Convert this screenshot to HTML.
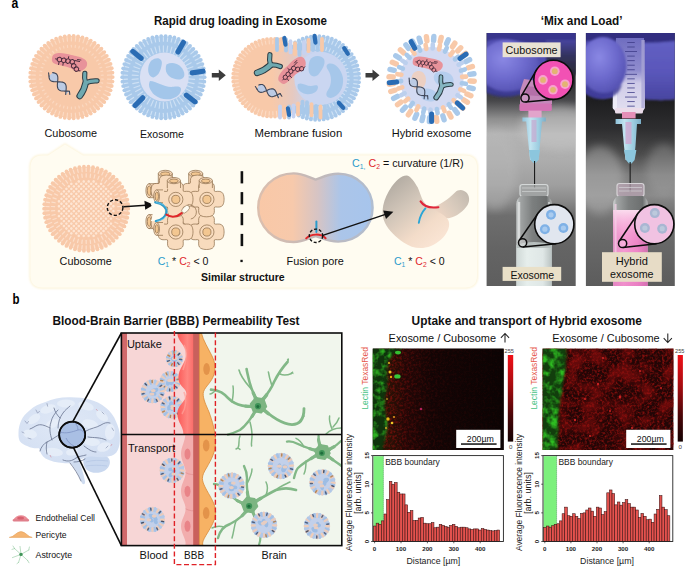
<!DOCTYPE html>
<html><head><meta charset="utf-8"><title>figure</title>
<style>
html,body{margin:0;padding:0;background:#fff;}
body{width:685px;height:566px;overflow:hidden;font-family:"Liberation Sans",sans-serif;}
svg{display:block;font-family:"Liberation Sans",sans-serif;}
</style></head><body>
<svg width="685" height="566" viewBox="0 0 685 566">
<defs><linearGradient id="gFus" gradientUnits="userSpaceOnUse" x1="272" y1="0" x2="318" y2="0">
<stop offset="0" stop-color="#f8c9a9"/><stop offset="0.45" stop-color="#e6c9c0"/><stop offset="0.8" stop-color="#c9d3ee"/><stop offset="1" stop-color="#c9d5f0"/></linearGradient>
<clipPath id="cFusL"><rect x="225" y="30" width="64" height="96"/></clipPath>
<clipPath id="cFusR"><rect x="300" y="30" width="64" height="96"/></clipPath>
<filter id="fBlur1" x="-5%" y="-5%" width="110%" height="110%"><feGaussianBlur stdDeviation="0.8"/></filter>
<linearGradient id="gPore" gradientUnits="userSpaceOnUse" x1="258" y1="0" x2="373" y2="0">
<stop offset="0" stop-color="#f9c8a7"/><stop offset="0.3" stop-color="#f7c9ab"/><stop offset="0.52" stop-color="#d6c4c4"/><stop offset="0.72" stop-color="#abc5e9"/><stop offset="1" stop-color="#a7c5ec"/></linearGradient>
<linearGradient id="gPoreS" gradientUnits="userSpaceOnUse" x1="258" y1="0" x2="373" y2="0">
<stop offset="0" stop-color="#dcbfae"/><stop offset="0.5" stop-color="#c2b8b8"/><stop offset="1" stop-color="#b0bdd0"/></linearGradient>
<linearGradient id="gSad" gradientUnits="userSpaceOnUse" x1="392" y1="182" x2="442" y2="244">
<stop offset="0" stop-color="#b3aca3"/><stop offset="0.35" stop-color="#d2c6b9"/><stop offset="0.7" stop-color="#f3dcc9"/><stop offset="1" stop-color="#fbe6d6"/></linearGradient>
<linearGradient id="gSad2" gradientUnits="userSpaceOnUse" x1="436" y1="214" x2="466" y2="192">
<stop offset="0" stop-color="#efd6c4"/><stop offset="0.5" stop-color="#d9cbbd"/><stop offset="1" stop-color="#c4bbb0"/></linearGradient>

<filter id="b2" x="-20%" y="-20%" width="140%" height="140%"><feGaussianBlur stdDeviation="2"/></filter>
<filter id="b1" x="-20%" y="-20%" width="140%" height="140%"><feGaussianBlur stdDeviation="1"/></filter>
<filter id="b05" x="-20%" y="-20%" width="140%" height="140%"><feGaussianBlur stdDeviation="0.5"/></filter>
<filter id="b4" x="-30%" y="-30%" width="160%" height="160%"><feGaussianBlur stdDeviation="4"/></filter>
<clipPath id="cpL"><rect x="486.6" y="33" width="89.1" height="253"/></clipPath>
<clipPath id="cpR"><rect x="585.9" y="33" width="88.9" height="253"/></clipPath>
<linearGradient id="bgL" x1="0" y1="0" x2="0" y2="1">
 <stop offset="0" stop-color="#26262c"/><stop offset="0.2" stop-color="#2e2e32"/><stop offset="0.27" stop-color="#47474a"/>
 <stop offset="0.34" stop-color="#8e8e8e"/><stop offset="0.4" stop-color="#b4b4b4"/><stop offset="0.5" stop-color="#adadad"/><stop offset="0.6" stop-color="#9f9f9f"/><stop offset="0.66" stop-color="#8a8a8a"/>
 <stop offset="0.72" stop-color="#6e6e6e"/><stop offset="0.85" stop-color="#646464"/><stop offset="1" stop-color="#5e5e5e"/></linearGradient>
<linearGradient id="bgR" x1="0" y1="0" x2="0" y2="1">
 <stop offset="0" stop-color="#232328"/><stop offset="0.27" stop-color="#1e1e20"/><stop offset="0.38" stop-color="#2e2e30"/>
 <stop offset="0.48" stop-color="#4c4c4c"/><stop offset="0.56" stop-color="#7c7c7c"/><stop offset="0.64" stop-color="#8a8a8a"/><stop offset="0.7" stop-color="#767676"/>
 <stop offset="0.82" stop-color="#686868"/><stop offset="1" stop-color="#5c5c5c"/></linearGradient>
<radialGradient id="glove" cx="0.42" cy="0.35" r="0.75"><stop offset="0" stop-color="#8a88e4"/><stop offset="0.5" stop-color="#6c69cc"/><stop offset="1" stop-color="#4c49a8"/></radialGradient>
<linearGradient id="gloveR" x1="0" y1="0" x2="0" y2="1"><stop offset="0" stop-color="#6462c6"/><stop offset="0.6" stop-color="#5a57ba"/><stop offset="1" stop-color="#4845a0"/></linearGradient>
<linearGradient id="barrel" x1="0" y1="0" x2="0" y2="1"><stop offset="0" stop-color="#6f6dc0"/><stop offset="0.45" stop-color="#908dce"/><stop offset="0.62" stop-color="#cfcbe8"/><stop offset="1" stop-color="#e2dff0"/></linearGradient>
<linearGradient id="gDarkR" x1="0" y1="0" x2="0" y2="1"><stop offset="0" stop-color="#4846a0"/><stop offset="0.45" stop-color="#33325e"/><stop offset="1" stop-color="#2a2a34"/></linearGradient>
<linearGradient id="vialL" x1="0" y1="0" x2="1" y2="0"><stop offset="0" stop-color="#d4d8d8"/><stop offset="0.1" stop-color="#a2a5a5"/><stop offset="0.45" stop-color="#7c7f7f"/><stop offset="0.85" stop-color="#6c6f6f"/><stop offset="1" stop-color="#b4b7b7"/></linearGradient>
<linearGradient id="liqL" x1="0" y1="0" x2="1" y2="0"><stop offset="0" stop-color="#cfd8d6"/><stop offset="0.3" stop-color="#e6eeec"/><stop offset="0.75" stop-color="#dfe7e6"/><stop offset="1" stop-color="#b9c2c1"/></linearGradient>
<linearGradient id="liqR" x1="0" y1="0" x2="1" y2="0"><stop offset="0" stop-color="#e48cc4"/><stop offset="0.3" stop-color="#f59ad2"/><stop offset="0.7" stop-color="#ee84c6"/><stop offset="1" stop-color="#cf6fae"/></linearGradient>
<linearGradient id="liqRv" x1="0" y1="0" x2="0" y2="1"><stop offset="0" stop-color="#fbe0f0" stop-opacity="0.95"/><stop offset="0.18" stop-color="#f8c0e2" stop-opacity="0.6"/><stop offset="0.45" stop-color="#f59ad2" stop-opacity="0"/><stop offset="1" stop-color="#e070ba" stop-opacity="0.35"/></linearGradient>
<linearGradient id="hub" x1="0" y1="0" x2="1" y2="0"><stop offset="0" stop-color="#8fc2da"/><stop offset="0.35" stop-color="#c2e4f0"/><stop offset="0.7" stop-color="#9ccce0"/><stop offset="1" stop-color="#7aaec8"/></linearGradient>

<radialGradient id="gBrain" cx="0.45" cy="0.4" r="0.7"><stop offset="0" stop-color="#dfe8f6"/><stop offset="1" stop-color="#d2def2"/></radialGradient>
<clipPath id="cTop"><rect x="121.4" y="333" width="220.4" height="101.60000000000002"/></clipPath>
<clipPath id="cBot"><rect x="121.4" y="434.6" width="220.4" height="111.0"/></clipPath>
<clipPath id="cAll"><rect x="121.4" y="333" width="220.4" height="212.60000000000002"/></clipPath>
<linearGradient id="gEndo" x1="0" y1="0" x2="1" y2="0"><stop offset="0" stop-color="#fb5a58"/><stop offset="0.45" stop-color="#ff8680"/><stop offset="1" stop-color="#f65452"/></linearGradient>

<linearGradient id="gCbar" x1="0" y1="0" x2="0" y2="1"><stop offset="0" stop-color="#f01018"/><stop offset="0.35" stop-color="#a80c10"/><stop offset="0.7" stop-color="#4a0608"/><stop offset="1" stop-color="#140202"/></linearGradient>
<filter id="fSp" x="0" y="0" width="100%" height="100%"><feGaussianBlur stdDeviation="0.45"/></filter>
<filter id="fG" x="-10%" y="-5%" width="120%" height="110%"><feGaussianBlur stdDeviation="1.1"/></filter>
<linearGradient id="gM1" x1="0" y1="0" x2="1" y2="0"><stop offset="0" stop-color="#142206"/><stop offset="0.11" stop-color="#2a1205"/><stop offset="0.25" stop-color="#220706"/><stop offset="0.45" stop-color="#130505"/><stop offset="1" stop-color="#0b0404"/></linearGradient>
<linearGradient id="gM2" x1="0" y1="0" x2="1" y2="0"><stop offset="0" stop-color="#1c2a08"/><stop offset="0.14" stop-color="#3a0c08"/><stop offset="0.5" stop-color="#3a0909"/><stop offset="1" stop-color="#2c0707"/></linearGradient>


<filter id="nR1" x="0" y="0" width="100%" height="100%" color-interpolation-filters="sRGB">
  <feTurbulence type="fractalNoise" baseFrequency="0.42" numOctaves="3" seed="4"/>
  <feColorMatrix type="matrix" values="0 0 0 0 0.55  0 0 0 0 0.06  0 0 0 0 0.05  2.8 0 0 0 -1.15"/>
</filter>
<filter id="nR2" x="0" y="0" width="100%" height="100%" color-interpolation-filters="sRGB">
  <feTurbulence type="fractalNoise" baseFrequency="0.4" numOctaves="3" seed="9"/>
  <feColorMatrix type="matrix" values="0 0 0 0 0.60  0 0 0 0 0.07  0 0 0 0 0.06  2.6 0 0 0 -1.1"/>
</filter>
<filter id="nRc" x="0" y="0" width="100%" height="100%" color-interpolation-filters="sRGB">
  <feTurbulence type="fractalNoise" baseFrequency="0.06" numOctaves="2" seed="2"/>
  <feColorMatrix type="matrix" values="0 0 0 0 0.50  0 0 0 0 0.05  0 0 0 0 0.05  3.0 0 0 0 -1.2"/>
</filter>
<filter id="nG" x="0" y="0" width="100%" height="100%" color-interpolation-filters="sRGB">
  <feTurbulence type="fractalNoise" baseFrequency="0.13" numOctaves="3" seed="6"/>
  <feColorMatrix type="matrix" values="0 0 0 0 0.18  0 0 0 0 0.70  0 0 0 0 0.13  0 3.0 0 0 -1.3"/>
</filter>
<filter id="nG2" x="0" y="0" width="100%" height="100%" color-interpolation-filters="sRGB">
  <feTurbulence type="fractalNoise" baseFrequency="0.12" numOctaves="3" seed="12"/>
  <feColorMatrix type="matrix" values="0 0 0 0 0.18  0 0 0 0 0.74  0 0 0 0 0.13  0 3.0 0 0 -1.25"/>
</filter>
<linearGradient id="mk1" gradientUnits="userSpaceOnUse" x1="372.6" y1="0" x2="503.8" y2="0">
  <stop offset="0" stop-color="#fff" stop-opacity="0.2"/><stop offset="0.1" stop-color="#fff" stop-opacity="0.75"/><stop offset="0.22" stop-color="#fff" stop-opacity="0.5"/>
  <stop offset="0.38" stop-color="#fff" stop-opacity="0.22"/><stop offset="0.6" stop-color="#fff" stop-opacity="0.1"/><stop offset="1" stop-color="#fff" stop-opacity="0.06"/></linearGradient>
<mask id="mM1"><rect x="372" y="348" width="133" height="103" fill="url(#mk1)"/></mask>
<filter id="fGb" x="-20%" y="-5%" width="140%" height="110%"><feGaussianBlur stdDeviation="1.3"/></filter>
<clipPath id="cM1"><rect x="372.6" y="348.4" width="131.2" height="101.6"/></clipPath>
<clipPath id="cM2"><rect x="542.4" y="348.4" width="131.2" height="101.6"/></clipPath>
<mask id="mG1"><path d="M372,348 H403 C395,352 389,357 387.5,365 C386.5,373 388,379 387,387 C386,395 384,401 385,409 C386,417 388.5,423 386.5,431 C384.5,439 383,445 382.6,451 H372Z" fill="#fff" filter="url(#fGb)"/></mask>
<mask id="mG2"><path d="M542,348 H566.5 C567,360 565,370 563.6,380 C562.4,390 560.4,398 559.4,408 C558.6,418 559,428 558,438 C557.6,444 557.2,448 557,451 H542Z" fill="#fff" filter="url(#fGb)"/></mask>
</defs>
<text x="11.4" y="7.8" font-size="15" fill="#000" font-weight="bold" textLength="6.8" lengthAdjust="spacingAndGlyphs" >a</text>
<text x="154" y="25.4" font-size="12.4" fill="#111" font-weight="bold" textLength="173" lengthAdjust="spacingAndGlyphs" >Rapid drug loading in Exosome</text>
<text x="540.7" y="24.8" font-size="12.4" fill="#111" font-weight="bold" textLength="81.8" lengthAdjust="spacingAndGlyphs" >‘Mix and Load’</text>
<circle cx="71.4" cy="77.1" r="41.0" fill="#f8c9a9"/>
<circle cx="112.7" cy="77.1" r="1.9" fill="#f8c9a9"/><circle cx="112.46" cy="81.57" r="1.9" fill="#f8c9a9"/><circle cx="111.73" cy="85.98" r="1.9" fill="#f8c9a9"/><circle cx="110.54" cy="90.29" r="1.9" fill="#f8c9a9"/><circle cx="108.88" cy="94.44" r="1.9" fill="#f8c9a9"/><circle cx="106.79" cy="98.39" r="1.9" fill="#f8c9a9"/><circle cx="104.28" cy="102.09" r="1.9" fill="#f8c9a9"/><circle cx="101.38" cy="105.5" r="1.9" fill="#f8c9a9"/><circle cx="98.14" cy="108.58" r="1.9" fill="#f8c9a9"/><circle cx="94.58" cy="111.28" r="1.9" fill="#f8c9a9"/><circle cx="90.75" cy="113.59" r="1.9" fill="#f8c9a9"/><circle cx="86.69" cy="115.47" r="1.9" fill="#f8c9a9"/><circle cx="82.45" cy="116.89" r="1.9" fill="#f8c9a9"/><circle cx="78.08" cy="117.86" r="1.9" fill="#f8c9a9"/><circle cx="73.64" cy="118.34" r="1.9" fill="#f8c9a9"/><circle cx="69.16" cy="118.34" r="1.9" fill="#f8c9a9"/><circle cx="64.72" cy="117.86" r="1.9" fill="#f8c9a9"/><circle cx="60.35" cy="116.89" r="1.9" fill="#f8c9a9"/><circle cx="56.11" cy="115.47" r="1.9" fill="#f8c9a9"/><circle cx="52.05" cy="113.59" r="1.9" fill="#f8c9a9"/><circle cx="48.22" cy="111.28" r="1.9" fill="#f8c9a9"/><circle cx="44.66" cy="108.58" r="1.9" fill="#f8c9a9"/><circle cx="41.42" cy="105.5" r="1.9" fill="#f8c9a9"/><circle cx="38.52" cy="102.09" r="1.9" fill="#f8c9a9"/><circle cx="36.01" cy="98.39" r="1.9" fill="#f8c9a9"/><circle cx="33.92" cy="94.44" r="1.9" fill="#f8c9a9"/><circle cx="32.26" cy="90.29" r="1.9" fill="#f8c9a9"/><circle cx="31.07" cy="85.98" r="1.9" fill="#f8c9a9"/><circle cx="30.34" cy="81.57" r="1.9" fill="#f8c9a9"/><circle cx="30.1" cy="77.1" r="1.9" fill="#f8c9a9"/><circle cx="30.34" cy="72.63" r="1.9" fill="#f8c9a9"/><circle cx="31.07" cy="68.22" r="1.9" fill="#f8c9a9"/><circle cx="32.26" cy="63.91" r="1.9" fill="#f8c9a9"/><circle cx="33.92" cy="59.76" r="1.9" fill="#f8c9a9"/><circle cx="36.01" cy="55.81" r="1.9" fill="#f8c9a9"/><circle cx="38.52" cy="52.11" r="1.9" fill="#f8c9a9"/><circle cx="41.42" cy="48.7" r="1.9" fill="#f8c9a9"/><circle cx="44.66" cy="45.62" r="1.9" fill="#f8c9a9"/><circle cx="48.22" cy="42.92" r="1.9" fill="#f8c9a9"/><circle cx="52.05" cy="40.61" r="1.9" fill="#f8c9a9"/><circle cx="56.11" cy="38.73" r="1.9" fill="#f8c9a9"/><circle cx="60.35" cy="37.31" r="1.9" fill="#f8c9a9"/><circle cx="64.72" cy="36.34" r="1.9" fill="#f8c9a9"/><circle cx="69.16" cy="35.86" r="1.9" fill="#f8c9a9"/><circle cx="73.64" cy="35.86" r="1.9" fill="#f8c9a9"/><circle cx="78.08" cy="36.34" r="1.9" fill="#f8c9a9"/><circle cx="82.45" cy="37.31" r="1.9" fill="#f8c9a9"/><circle cx="86.69" cy="38.73" r="1.9" fill="#f8c9a9"/><circle cx="90.75" cy="40.61" r="1.9" fill="#f8c9a9"/><circle cx="94.58" cy="42.92" r="1.9" fill="#f8c9a9"/><circle cx="98.14" cy="45.62" r="1.9" fill="#f8c9a9"/><circle cx="101.38" cy="48.7" r="1.9" fill="#f8c9a9"/><circle cx="104.28" cy="52.11" r="1.9" fill="#f8c9a9"/><circle cx="106.79" cy="55.81" r="1.9" fill="#f8c9a9"/><circle cx="108.88" cy="59.76" r="1.9" fill="#f8c9a9"/><circle cx="110.54" cy="63.91" r="1.9" fill="#f8c9a9"/><circle cx="111.73" cy="68.22" r="1.9" fill="#f8c9a9"/><circle cx="112.46" cy="72.63" r="1.9" fill="#f8c9a9"/>
<g stroke="#fbdac3" stroke-width="1.15" stroke-linecap="round"><line x1="107.55" y1="79.06" x2="111.04" y2="79.25"/><line x1="107.12" y1="82.96" x2="110.58" y2="83.52"/><line x1="106.28" y1="86.78" x2="109.65" y2="87.72"/><line x1="105.03" y1="90.5" x2="108.28" y2="91.79"/><line x1="103.38" y1="94.06" x2="106.48" y2="95.7"/><line x1="101.36" y1="97.41" x2="104.26" y2="99.38"/><line x1="98.99" y1="100.54" x2="101.66" y2="102.8"/><line x1="96.29" y1="103.38" x2="98.7" y2="105.92"/><line x1="93.31" y1="105.92" x2="95.43" y2="108.7"/><line x1="90.06" y1="108.12" x2="91.87" y2="111.12"/><line x1="86.6" y1="109.95" x2="88.07" y2="113.13"/><line x1="82.96" y1="111.41" x2="84.08" y2="114.72"/><line x1="79.18" y1="112.45" x2="79.93" y2="115.87"/><line x1="75.31" y1="113.09" x2="75.69" y2="116.57"/><line x1="71.4" y1="113.3" x2="71.4" y2="116.8"/><line x1="67.49" y1="113.09" x2="67.11" y2="116.57"/><line x1="63.62" y1="112.45" x2="62.87" y2="115.87"/><line x1="59.84" y1="111.41" x2="58.72" y2="114.72"/><line x1="56.2" y1="109.95" x2="54.73" y2="113.13"/><line x1="52.74" y1="108.12" x2="50.93" y2="111.12"/><line x1="49.49" y1="105.92" x2="47.37" y2="108.7"/><line x1="46.51" y1="103.38" x2="44.1" y2="105.92"/><line x1="43.81" y1="100.54" x2="41.14" y2="102.8"/><line x1="41.44" y1="97.41" x2="38.54" y2="99.38"/><line x1="39.42" y1="94.06" x2="36.32" y2="95.7"/><line x1="37.77" y1="90.5" x2="34.52" y2="91.79"/><line x1="36.52" y1="86.78" x2="33.15" y2="87.72"/><line x1="35.68" y1="82.96" x2="32.22" y2="83.52"/><line x1="35.25" y1="79.06" x2="31.76" y2="79.25"/><line x1="35.25" y1="75.14" x2="31.76" y2="74.95"/><line x1="35.68" y1="71.24" x2="32.22" y2="70.68"/><line x1="36.52" y1="67.42" x2="33.15" y2="66.48"/><line x1="37.77" y1="63.7" x2="34.52" y2="62.41"/><line x1="39.42" y1="60.14" x2="36.32" y2="58.5"/><line x1="41.44" y1="56.79" x2="38.54" y2="54.82"/><line x1="43.81" y1="53.66" x2="41.14" y2="51.4"/><line x1="46.51" y1="50.82" x2="44.1" y2="48.28"/><line x1="49.49" y1="48.28" x2="47.37" y2="45.5"/><line x1="52.74" y1="46.08" x2="50.93" y2="43.08"/><line x1="56.2" y1="44.25" x2="54.73" y2="41.07"/><line x1="59.84" y1="42.79" x2="58.72" y2="39.48"/><line x1="63.62" y1="41.75" x2="62.87" y2="38.33"/><line x1="67.49" y1="41.11" x2="67.11" y2="37.63"/><line x1="71.4" y1="40.9" x2="71.4" y2="37.4"/><line x1="75.31" y1="41.11" x2="75.69" y2="37.63"/><line x1="79.18" y1="41.75" x2="79.93" y2="38.33"/><line x1="82.96" y1="42.79" x2="84.08" y2="39.48"/><line x1="86.6" y1="44.25" x2="88.07" y2="41.07"/><line x1="90.06" y1="46.08" x2="91.87" y2="43.08"/><line x1="93.31" y1="48.28" x2="95.43" y2="45.5"/><line x1="96.29" y1="50.82" x2="98.7" y2="48.28"/><line x1="98.99" y1="53.66" x2="101.66" y2="51.4"/><line x1="101.36" y1="56.79" x2="104.26" y2="54.82"/><line x1="103.38" y1="60.14" x2="106.48" y2="58.5"/><line x1="105.03" y1="63.7" x2="108.28" y2="62.41"/><line x1="106.28" y1="67.42" x2="109.65" y2="66.48"/><line x1="107.12" y1="71.24" x2="110.58" y2="70.68"/><line x1="107.55" y1="75.14" x2="111.04" y2="74.95"/></g>
<g stroke="#fbd8c0" stroke-width="1.15" stroke-linecap="round"><line x1="101.34" y1="78.98" x2="103.24" y2="79.1"/><line x1="100.87" y1="82.72" x2="102.73" y2="83.08"/><line x1="99.93" y1="86.37" x2="101.74" y2="86.96"/><line x1="98.54" y1="89.87" x2="100.26" y2="90.68"/><line x1="96.73" y1="93.17" x2="98.33" y2="94.19"/><line x1="94.52" y1="96.22" x2="95.98" y2="97.43"/><line x1="91.94" y1="98.97" x2="93.24" y2="100.35"/><line x1="89.03" y1="101.37" x2="90.15" y2="102.91"/><line x1="85.85" y1="103.39" x2="86.77" y2="105.05"/><line x1="82.44" y1="104.99" x2="83.14" y2="106.76"/><line x1="78.86" y1="106.16" x2="79.33" y2="108"/><line x1="75.16" y1="106.86" x2="75.4" y2="108.75"/><line x1="71.4" y1="107.1" x2="71.4" y2="109"/><line x1="67.64" y1="106.86" x2="67.4" y2="108.75"/><line x1="63.94" y1="106.16" x2="63.47" y2="108"/><line x1="60.36" y1="104.99" x2="59.66" y2="106.76"/><line x1="56.95" y1="103.39" x2="56.03" y2="105.05"/><line x1="53.77" y1="101.37" x2="52.65" y2="102.91"/><line x1="50.86" y1="98.97" x2="49.56" y2="100.35"/><line x1="48.28" y1="96.22" x2="46.82" y2="97.43"/><line x1="46.07" y1="93.17" x2="44.47" y2="94.19"/><line x1="44.26" y1="89.87" x2="42.54" y2="90.68"/><line x1="42.87" y1="86.37" x2="41.06" y2="86.96"/><line x1="41.93" y1="82.72" x2="40.07" y2="83.08"/><line x1="41.46" y1="78.98" x2="39.56" y2="79.1"/><line x1="41.46" y1="75.22" x2="39.56" y2="75.1"/><line x1="41.93" y1="71.48" x2="40.07" y2="71.12"/><line x1="42.87" y1="67.83" x2="41.06" y2="67.24"/><line x1="44.26" y1="64.33" x2="42.54" y2="63.52"/><line x1="46.07" y1="61.03" x2="44.47" y2="60.01"/><line x1="48.28" y1="57.98" x2="46.82" y2="56.77"/><line x1="50.86" y1="55.23" x2="49.56" y2="53.85"/><line x1="53.77" y1="52.83" x2="52.65" y2="51.29"/><line x1="56.95" y1="50.81" x2="56.03" y2="49.15"/><line x1="60.36" y1="49.21" x2="59.66" y2="47.44"/><line x1="63.94" y1="48.04" x2="63.47" y2="46.2"/><line x1="67.64" y1="47.34" x2="67.4" y2="45.45"/><line x1="71.4" y1="47.1" x2="71.4" y2="45.2"/><line x1="75.16" y1="47.34" x2="75.4" y2="45.45"/><line x1="78.86" y1="48.04" x2="79.33" y2="46.2"/><line x1="82.44" y1="49.21" x2="83.14" y2="47.44"/><line x1="85.85" y1="50.81" x2="86.77" y2="49.15"/><line x1="89.03" y1="52.83" x2="90.15" y2="51.29"/><line x1="91.94" y1="55.23" x2="93.24" y2="53.85"/><line x1="94.52" y1="57.98" x2="95.98" y2="56.77"/><line x1="96.73" y1="61.03" x2="98.33" y2="60.01"/><line x1="98.54" y1="64.33" x2="100.26" y2="63.52"/><line x1="99.93" y1="67.83" x2="101.74" y2="67.24"/><line x1="100.87" y1="71.48" x2="102.73" y2="71.12"/><line x1="101.34" y1="75.22" x2="103.24" y2="75.1"/></g>
<g transform="translate(69.9 62.5) rotate(10) scale(1.08)"><path d="M-17,-2 C-17,-8 -6,-8 0,-7 C8,-7 17,-6 16,0 C15,6 8,8 4,6 C-2,3 -10,5 -15,3 C-17,2 -17,0 -17,-2Z" fill="#e8929a"/><g fill="none" stroke="#4a2c3c" stroke-width="0.9" stroke-linejoin="round"><polygon points="-8.01,0.15 -10,1.3 -11.99,0.15 -11.99,-2.15 -10,-3.3 -8.01,-2.15"/><polygon points="-4.01,0.15 -6,1.3 -7.99,0.15 -7.99,-2.15 -6,-3.3 -4.01,-2.15"/><polygon points="-0.01,0.15 -2,1.3 -3.99,0.15 -3.99,-2.15 -2,-3.3 -0.01,-2.15"/><polygon points="3.99,0.15 2,1.3 0.01,0.15 0.01,-2.15 2,-3.3 3.99,-2.15"/><polygon points="5.99,3.65 4,4.8 2.01,3.65 2.01,1.35 4,0.2 5.99,1.35"/><polygon points="8.99,6.15 7,7.3 5.01,6.15 5.01,3.85 7,2.7 8.99,3.85"/><path d="M-12,-1 h-2 M-10,1.5 v2.5 M-6,1.5 v2.5 M-2,-3.5 v-2 M4,-2.5 h5 M6,-4 h4 M9,6 h2"/></g></g>
<path d="M48.99,75.97 L49.05,77.32 L49.28,78.51 L49.71,79.53 L50.36,80.34 L51.24,80.96 L52.32,81.39 L53.59,81.65 L55,81.78 L56.51,81.82 L58.06,81.83 L59.59,81.85 L61.05,81.94 L62.38,82.14 L63.54,82.49 L64.5,83.03 L65.25,83.76 L65.77,84.69 L66.08,85.81 L66.21,87.1 L66.19,88.52 L66.08,90.02 L65.92,91.57 L65.78,93.09 L65.72,94.55 L69.41,91.23 L67.95,91.14 L66.42,91.12 L64.87,91.11 L63.36,91.07 L61.95,90.94 L60.68,90.67 L59.6,90.25 L58.73,89.63 L58.08,88.82 L57.65,87.8 L57.42,86.61 L57.35,85.26 L57.42,83.8 L57.56,82.28 L57.71,80.73 L57.83,79.23 L57.84,77.81 L57.72,76.53 L57.41,75.4 L56.88,74.47 L56.14,73.74 L55.18,73.2 L54.01,72.85 L52.68,72.65Z" fill="#bccbe4" fill-rule="nonzero"/><path d="M48.99,75.97 L49.05,77.32 L49.28,78.51 L49.71,79.53 L50.36,80.34 L51.24,80.96 L52.32,81.39 L53.59,81.65 L55,81.78 L56.51,81.82 L58.06,81.83 L59.59,81.85 L61.05,81.94 L62.38,82.14 L63.54,82.49 L64.5,83.03 L65.25,83.76 L65.77,84.69 L66.08,85.81 L66.21,87.1 L66.19,88.52 L66.08,90.02 L65.92,91.57 L65.78,93.09 L65.72,94.55" fill="none" stroke="#3e4658" stroke-width="1.1" stroke-linecap="round" stroke-linejoin="round"/><path d="M52.68,72.65 L54.01,72.85 L55.18,73.2 L56.14,73.74 L56.88,74.47 L57.41,75.4 L57.72,76.53 L57.84,77.81 L57.83,79.23 L57.71,80.73 L57.56,82.28 L57.42,83.8 L57.35,85.26 L57.42,86.61 L57.65,87.8 L58.08,88.82 L58.73,89.63 L59.6,90.25 L60.68,90.67 L61.95,90.94 L63.36,91.07 L64.87,91.11 L66.42,91.12 L67.95,91.14 L69.41,91.23" fill="none" stroke="#3e4658" stroke-width="1.1" stroke-linecap="round" stroke-linejoin="round"/><path d="M48.99,75.97 l-0.4,-3.14" stroke="#3e4658" stroke-width="1.1" stroke-linecap="round" fill="none"/><path d="M69.41,91.23 l0.4,3.14" stroke="#3e4658" stroke-width="1.1" stroke-linecap="round" fill="none"/>
<path d="M85.6,82.8 Q84.23,90.11 79.7,96" stroke="#2c3c44" stroke-width="6.6" fill="none" stroke-linecap="round"/><path d="M85.6,82.8 Q84.07,78.2 84.8,73.4" stroke="#2c3c44" stroke-width="5.2" fill="none" stroke-linecap="round"/><path d="M85.6,82.8 Q91.12,80.47 97.1,80.9" stroke="#2c3c44" stroke-width="5.2" fill="none" stroke-linecap="round"/><path d="M85.6,82.8 Q84.23,90.11 79.7,96" stroke="#6fa9b0" stroke-width="4.6" fill="none" stroke-linecap="round"/><path d="M85.6,82.8 Q84.07,78.2 84.8,73.4" stroke="#6fa9b0" stroke-width="3.2" fill="none" stroke-linecap="round"/><path d="M85.6,82.8 Q91.12,80.47 97.1,80.9" stroke="#6fa9b0" stroke-width="3.2" fill="none" stroke-linecap="round"/>
<text x="44.5" y="137.2" font-size="11" fill="#111" textLength="52.6" lengthAdjust="spacingAndGlyphs" >Cubosome</text>
<circle cx="163.4" cy="77.2" r="40.9" fill="#a9c9ea"/>
<circle cx="204.6" cy="77.2" r="1.9" fill="#a9c9ea"/><circle cx="204.36" cy="81.65" r="1.9" fill="#a9c9ea"/><circle cx="203.64" cy="86.06" r="1.9" fill="#a9c9ea"/><circle cx="202.44" cy="90.36" r="1.9" fill="#a9c9ea"/><circle cx="200.79" cy="94.5" r="1.9" fill="#a9c9ea"/><circle cx="198.7" cy="98.44" r="1.9" fill="#a9c9ea"/><circle cx="196.2" cy="102.13" r="1.9" fill="#a9c9ea"/><circle cx="193.31" cy="105.53" r="1.9" fill="#a9c9ea"/><circle cx="190.07" cy="108.6" r="1.9" fill="#a9c9ea"/><circle cx="186.52" cy="111.3" r="1.9" fill="#a9c9ea"/><circle cx="182.7" cy="113.6" r="1.9" fill="#a9c9ea"/><circle cx="178.65" cy="115.47" r="1.9" fill="#a9c9ea"/><circle cx="174.42" cy="116.9" r="1.9" fill="#a9c9ea"/><circle cx="170.07" cy="117.86" r="1.9" fill="#a9c9ea"/><circle cx="165.63" cy="118.34" r="1.9" fill="#a9c9ea"/><circle cx="161.17" cy="118.34" r="1.9" fill="#a9c9ea"/><circle cx="156.73" cy="117.86" r="1.9" fill="#a9c9ea"/><circle cx="152.38" cy="116.9" r="1.9" fill="#a9c9ea"/><circle cx="148.15" cy="115.47" r="1.9" fill="#a9c9ea"/><circle cx="144.1" cy="113.6" r="1.9" fill="#a9c9ea"/><circle cx="140.28" cy="111.3" r="1.9" fill="#a9c9ea"/><circle cx="136.73" cy="108.6" r="1.9" fill="#a9c9ea"/><circle cx="133.49" cy="105.53" r="1.9" fill="#a9c9ea"/><circle cx="130.6" cy="102.13" r="1.9" fill="#a9c9ea"/><circle cx="128.1" cy="98.44" r="1.9" fill="#a9c9ea"/><circle cx="126.01" cy="94.5" r="1.9" fill="#a9c9ea"/><circle cx="124.36" cy="90.36" r="1.9" fill="#a9c9ea"/><circle cx="123.16" cy="86.06" r="1.9" fill="#a9c9ea"/><circle cx="122.44" cy="81.65" r="1.9" fill="#a9c9ea"/><circle cx="122.2" cy="77.2" r="1.9" fill="#a9c9ea"/><circle cx="122.44" cy="72.75" r="1.9" fill="#a9c9ea"/><circle cx="123.16" cy="68.34" r="1.9" fill="#a9c9ea"/><circle cx="124.36" cy="64.04" r="1.9" fill="#a9c9ea"/><circle cx="126.01" cy="59.9" r="1.9" fill="#a9c9ea"/><circle cx="128.1" cy="55.96" r="1.9" fill="#a9c9ea"/><circle cx="130.6" cy="52.27" r="1.9" fill="#a9c9ea"/><circle cx="133.49" cy="48.87" r="1.9" fill="#a9c9ea"/><circle cx="136.73" cy="45.8" r="1.9" fill="#a9c9ea"/><circle cx="140.28" cy="43.1" r="1.9" fill="#a9c9ea"/><circle cx="144.1" cy="40.8" r="1.9" fill="#a9c9ea"/><circle cx="148.15" cy="38.93" r="1.9" fill="#a9c9ea"/><circle cx="152.38" cy="37.5" r="1.9" fill="#a9c9ea"/><circle cx="156.73" cy="36.54" r="1.9" fill="#a9c9ea"/><circle cx="161.17" cy="36.06" r="1.9" fill="#a9c9ea"/><circle cx="165.63" cy="36.06" r="1.9" fill="#a9c9ea"/><circle cx="170.07" cy="36.54" r="1.9" fill="#a9c9ea"/><circle cx="174.42" cy="37.5" r="1.9" fill="#a9c9ea"/><circle cx="178.65" cy="38.93" r="1.9" fill="#a9c9ea"/><circle cx="182.7" cy="40.8" r="1.9" fill="#a9c9ea"/><circle cx="186.52" cy="43.1" r="1.9" fill="#a9c9ea"/><circle cx="190.07" cy="45.8" r="1.9" fill="#a9c9ea"/><circle cx="193.31" cy="48.87" r="1.9" fill="#a9c9ea"/><circle cx="196.2" cy="52.27" r="1.9" fill="#a9c9ea"/><circle cx="198.7" cy="55.96" r="1.9" fill="#a9c9ea"/><circle cx="200.79" cy="59.9" r="1.9" fill="#a9c9ea"/><circle cx="202.44" cy="64.04" r="1.9" fill="#a9c9ea"/><circle cx="203.64" cy="68.34" r="1.9" fill="#a9c9ea"/><circle cx="204.36" cy="72.75" r="1.9" fill="#a9c9ea"/>
<g stroke="#cfe2f5" stroke-width="1.15" stroke-linecap="round"><line x1="199.35" y1="79.15" x2="202.94" y2="79.34"/><line x1="198.93" y1="83.02" x2="202.48" y2="83.61"/><line x1="198.09" y1="86.83" x2="201.56" y2="87.79"/><line x1="196.84" y1="90.52" x2="200.19" y2="91.86"/><line x1="195.21" y1="94.06" x2="198.39" y2="95.75"/><line x1="193.2" y1="97.4" x2="196.18" y2="99.42"/><line x1="190.84" y1="100.51" x2="193.58" y2="102.84"/><line x1="188.16" y1="103.34" x2="190.63" y2="105.95"/><line x1="185.19" y1="105.86" x2="187.36" y2="108.73"/><line x1="181.96" y1="108.05" x2="183.82" y2="111.13"/><line x1="178.52" y1="109.87" x2="180.03" y2="113.14"/><line x1="174.89" y1="111.32" x2="176.04" y2="114.73"/><line x1="171.14" y1="112.36" x2="171.91" y2="115.87"/><line x1="167.29" y1="112.99" x2="167.68" y2="116.57"/><line x1="163.4" y1="113.2" x2="163.4" y2="116.8"/><line x1="159.51" y1="112.99" x2="159.12" y2="116.57"/><line x1="155.66" y1="112.36" x2="154.89" y2="115.87"/><line x1="151.91" y1="111.32" x2="150.76" y2="114.73"/><line x1="148.28" y1="109.87" x2="146.77" y2="113.14"/><line x1="144.84" y1="108.05" x2="142.98" y2="111.13"/><line x1="141.61" y1="105.86" x2="139.44" y2="108.73"/><line x1="138.64" y1="103.34" x2="136.17" y2="105.95"/><line x1="135.96" y1="100.51" x2="133.22" y2="102.84"/><line x1="133.6" y1="97.4" x2="130.62" y2="99.42"/><line x1="131.59" y1="94.06" x2="128.41" y2="95.75"/><line x1="129.96" y1="90.52" x2="126.61" y2="91.86"/><line x1="128.71" y1="86.83" x2="125.24" y2="87.79"/><line x1="127.87" y1="83.02" x2="124.32" y2="83.61"/><line x1="127.45" y1="79.15" x2="123.86" y2="79.34"/><line x1="127.45" y1="75.25" x2="123.86" y2="75.06"/><line x1="127.87" y1="71.38" x2="124.32" y2="70.79"/><line x1="128.71" y1="67.57" x2="125.24" y2="66.61"/><line x1="129.96" y1="63.88" x2="126.61" y2="62.54"/><line x1="131.59" y1="60.34" x2="128.41" y2="58.65"/><line x1="133.6" y1="57" x2="130.62" y2="54.98"/><line x1="135.96" y1="53.89" x2="133.22" y2="51.56"/><line x1="138.64" y1="51.06" x2="136.17" y2="48.45"/><line x1="141.61" y1="48.54" x2="139.44" y2="45.67"/><line x1="144.84" y1="46.35" x2="142.98" y2="43.27"/><line x1="148.28" y1="44.53" x2="146.77" y2="41.26"/><line x1="151.91" y1="43.08" x2="150.76" y2="39.67"/><line x1="155.66" y1="42.04" x2="154.89" y2="38.53"/><line x1="159.51" y1="41.41" x2="159.12" y2="37.83"/><line x1="163.4" y1="41.2" x2="163.4" y2="37.6"/><line x1="167.29" y1="41.41" x2="167.68" y2="37.83"/><line x1="171.14" y1="42.04" x2="171.91" y2="38.53"/><line x1="174.89" y1="43.08" x2="176.04" y2="39.67"/><line x1="178.52" y1="44.53" x2="180.03" y2="41.26"/><line x1="181.96" y1="46.35" x2="183.82" y2="43.27"/><line x1="185.19" y1="48.54" x2="187.36" y2="45.67"/><line x1="188.16" y1="51.06" x2="190.63" y2="48.45"/><line x1="190.84" y1="53.89" x2="193.58" y2="51.56"/><line x1="193.2" y1="57" x2="196.18" y2="54.98"/><line x1="195.21" y1="60.34" x2="198.39" y2="58.65"/><line x1="196.84" y1="63.88" x2="200.19" y2="62.54"/><line x1="198.09" y1="67.57" x2="201.56" y2="66.61"/><line x1="198.93" y1="71.38" x2="202.48" y2="70.79"/><line x1="199.35" y1="75.25" x2="202.94" y2="75.06"/></g>
<g stroke="#cde0f4" stroke-width="1.15" stroke-linecap="round"><line x1="188.64" y1="78.93" x2="194.63" y2="79.34"/><line x1="188.17" y1="82.35" x2="194.05" y2="83.57"/><line x1="187.24" y1="85.67" x2="192.89" y2="87.68"/><line x1="185.86" y1="88.84" x2="191.19" y2="91.6"/><line x1="184.07" y1="91.79" x2="188.97" y2="95.25"/><line x1="181.89" y1="94.47" x2="186.28" y2="98.56"/><line x1="179.37" y1="96.83" x2="183.15" y2="101.48"/><line x1="176.55" y1="98.82" x2="179.66" y2="103.94"/><line x1="173.48" y1="100.41" x2="175.87" y2="105.91"/><line x1="170.23" y1="101.56" x2="171.84" y2="107.34"/><line x1="166.85" y1="102.26" x2="167.66" y2="108.21"/><line x1="163.4" y1="102.5" x2="163.4" y2="108.5"/><line x1="159.95" y1="102.26" x2="159.14" y2="108.21"/><line x1="156.57" y1="101.56" x2="154.96" y2="107.34"/><line x1="153.32" y1="100.41" x2="150.93" y2="105.91"/><line x1="150.25" y1="98.82" x2="147.14" y2="103.94"/><line x1="147.43" y1="96.83" x2="143.65" y2="101.48"/><line x1="144.91" y1="94.47" x2="140.52" y2="98.56"/><line x1="142.73" y1="91.79" x2="137.83" y2="95.25"/><line x1="140.94" y1="88.84" x2="135.61" y2="91.6"/><line x1="139.56" y1="85.67" x2="133.91" y2="87.68"/><line x1="138.63" y1="82.35" x2="132.75" y2="83.57"/><line x1="138.16" y1="78.93" x2="132.17" y2="79.34"/><line x1="138.16" y1="75.47" x2="132.17" y2="75.06"/><line x1="138.63" y1="72.05" x2="132.75" y2="70.83"/><line x1="139.56" y1="68.73" x2="133.91" y2="66.72"/><line x1="140.94" y1="65.56" x2="135.61" y2="62.8"/><line x1="142.73" y1="62.61" x2="137.83" y2="59.15"/><line x1="144.91" y1="59.93" x2="140.52" y2="55.84"/><line x1="147.43" y1="57.57" x2="143.65" y2="52.92"/><line x1="150.25" y1="55.58" x2="147.14" y2="50.46"/><line x1="153.32" y1="53.99" x2="150.93" y2="48.49"/><line x1="156.57" y1="52.84" x2="154.96" y2="47.06"/><line x1="159.95" y1="52.14" x2="159.14" y2="46.19"/><line x1="163.4" y1="51.9" x2="163.4" y2="45.9"/><line x1="166.85" y1="52.14" x2="167.66" y2="46.19"/><line x1="170.23" y1="52.84" x2="171.84" y2="47.06"/><line x1="173.48" y1="53.99" x2="175.87" y2="48.49"/><line x1="176.55" y1="55.58" x2="179.66" y2="50.46"/><line x1="179.37" y1="57.57" x2="183.15" y2="52.92"/><line x1="181.89" y1="59.93" x2="186.28" y2="55.84"/><line x1="184.07" y1="62.61" x2="188.97" y2="59.15"/><line x1="185.86" y1="65.56" x2="191.19" y2="62.8"/><line x1="187.24" y1="68.73" x2="192.89" y2="66.72"/><line x1="188.17" y1="72.05" x2="194.05" y2="70.83"/><line x1="188.64" y1="75.47" x2="194.63" y2="75.06"/></g>
<circle cx="164.3" cy="77" r="24.4" fill="#d9e0f4"/>
<g transform="translate(164.1 76.2) scale(1.18)" fill="#a3c6ea"><path d="M-11,-13 C-6,-17 -1,-15 -2,-10 C-3,-5 -4,-1 -9,1 C-14,1 -15,-8 -11,-13Z"/><path d="M2,-10 C8,-13 15,-10 17,-3 C18,2 14,4 8,2 C3,0 0,-4 2,-10Z"/><path d="M-12,4 C-6,4 0,10 8,9 C14,8 16,10 13,15 C8,21 -2,21 -8,16 C-12,12 -14,8 -12,4Z"/></g>
<rect x="-8" y="-2.6" width="16" height="5.2" rx="2.6" fill="#2a6cb4" transform="translate(136.97 54.87) rotate(-139.8)"/>
<rect x="-8" y="-2.6" width="16" height="5.2" rx="2.6" fill="#2a6cb4" transform="translate(180.7 47.24) rotate(-60)"/>
<rect x="-8" y="-2.6" width="16" height="5.2" rx="2.6" fill="#2a6cb4" transform="translate(197.61 72.03) rotate(-8.6)"/>
<rect x="-8" y="-2.6" width="16" height="5.2" rx="2.6" fill="#2a6cb4" transform="translate(190.67 98.5) rotate(38)"/>
<rect x="-8" y="-2.6" width="16" height="5.2" rx="2.6" fill="#2a6cb4" transform="translate(138.93 101.67) rotate(135)"/>
<text x="140" y="137.7" font-size="11" fill="#111" textLength="44" lengthAdjust="spacingAndGlyphs" >Exosome</text>
<path d="M211.8,73.1 h7 v-3.6 l7,5.8 l-7,5.8 v-3.6 h-7z" fill="#3c3c3c"/>
<path d="M365.5,73 h7 v-3.6 l7,5.8 l-7,5.8 v-3.6 h-7z" fill="#3c3c3c"/>
<circle cx="272.0" cy="77.7" r="38.6" fill="#f8c9a9"/>
<circle cx="317.3" cy="78.0" r="41.6" fill="#a9c9ea"/>
<circle cx="290.26" cy="112.05" r="1.9" fill="#f8c9a9"/><circle cx="286.64" cy="113.74" r="1.9" fill="#f8c9a9"/><circle cx="282.85" cy="115.06" r="1.9" fill="#f8c9a9"/><circle cx="278.96" cy="115.97" r="1.9" fill="#f8c9a9"/><circle cx="274.98" cy="116.49" r="1.9" fill="#f8c9a9"/><circle cx="270.98" cy="116.59" r="1.9" fill="#f8c9a9"/><circle cx="266.99" cy="116.28" r="1.9" fill="#f8c9a9"/><circle cx="263.05" cy="115.56" r="1.9" fill="#f8c9a9"/><circle cx="259.21" cy="114.44" r="1.9" fill="#f8c9a9"/><circle cx="255.5" cy="112.93" r="1.9" fill="#f8c9a9"/><circle cx="251.97" cy="111.04" r="1.9" fill="#f8c9a9"/><circle cx="248.64" cy="108.81" r="1.9" fill="#f8c9a9"/><circle cx="245.57" cy="106.24" r="1.9" fill="#f8c9a9"/><circle cx="242.78" cy="103.37" r="1.9" fill="#f8c9a9"/><circle cx="240.29" cy="100.23" r="1.9" fill="#f8c9a9"/><circle cx="238.14" cy="96.86" r="1.9" fill="#f8c9a9"/><circle cx="236.35" cy="93.27" r="1.9" fill="#f8c9a9"/><circle cx="234.94" cy="89.53" r="1.9" fill="#f8c9a9"/><circle cx="233.92" cy="85.65" r="1.9" fill="#f8c9a9"/><circle cx="233.31" cy="81.7" r="1.9" fill="#f8c9a9"/><circle cx="233.1" cy="77.7" r="1.9" fill="#f8c9a9"/><circle cx="233.31" cy="73.7" r="1.9" fill="#f8c9a9"/><circle cx="233.92" cy="69.75" r="1.9" fill="#f8c9a9"/><circle cx="234.94" cy="65.87" r="1.9" fill="#f8c9a9"/><circle cx="236.35" cy="62.13" r="1.9" fill="#f8c9a9"/><circle cx="238.14" cy="58.54" r="1.9" fill="#f8c9a9"/><circle cx="240.29" cy="55.17" r="1.9" fill="#f8c9a9"/><circle cx="242.78" cy="52.03" r="1.9" fill="#f8c9a9"/><circle cx="245.57" cy="49.16" r="1.9" fill="#f8c9a9"/><circle cx="248.64" cy="46.59" r="1.9" fill="#f8c9a9"/><circle cx="251.97" cy="44.36" r="1.9" fill="#f8c9a9"/><circle cx="255.5" cy="42.47" r="1.9" fill="#f8c9a9"/><circle cx="259.21" cy="40.96" r="1.9" fill="#f8c9a9"/><circle cx="263.05" cy="39.84" r="1.9" fill="#f8c9a9"/><circle cx="266.99" cy="39.12" r="1.9" fill="#f8c9a9"/><circle cx="270.98" cy="38.81" r="1.9" fill="#f8c9a9"/><circle cx="274.98" cy="38.91" r="1.9" fill="#f8c9a9"/><circle cx="278.96" cy="39.43" r="1.9" fill="#f8c9a9"/><circle cx="282.85" cy="40.34" r="1.9" fill="#f8c9a9"/><circle cx="286.64" cy="41.66" r="1.9" fill="#f8c9a9"/>
<circle cx="295.1" cy="42.47" r="1.9" fill="#a9c9ea"/><circle cx="298.81" cy="40.4" r="1.9" fill="#a9c9ea"/><circle cx="302.71" cy="38.72" r="1.9" fill="#a9c9ea"/><circle cx="306.76" cy="37.45" r="1.9" fill="#a9c9ea"/><circle cx="310.92" cy="36.59" r="1.9" fill="#a9c9ea"/><circle cx="315.14" cy="36.16" r="1.9" fill="#a9c9ea"/><circle cx="319.39" cy="36.15" r="1.9" fill="#a9c9ea"/><circle cx="323.61" cy="36.58" r="1.9" fill="#a9c9ea"/><circle cx="327.77" cy="37.43" r="1.9" fill="#a9c9ea"/><circle cx="331.83" cy="38.7" r="1.9" fill="#a9c9ea"/><circle cx="335.73" cy="40.37" r="1.9" fill="#a9c9ea"/><circle cx="339.44" cy="42.43" r="1.9" fill="#a9c9ea"/><circle cx="342.93" cy="44.85" r="1.9" fill="#a9c9ea"/><circle cx="346.15" cy="47.62" r="1.9" fill="#a9c9ea"/><circle cx="349.08" cy="50.7" r="1.9" fill="#a9c9ea"/><circle cx="351.68" cy="54.05" r="1.9" fill="#a9c9ea"/><circle cx="353.93" cy="57.66" r="1.9" fill="#a9c9ea"/><circle cx="355.8" cy="61.47" r="1.9" fill="#a9c9ea"/><circle cx="357.28" cy="65.45" r="1.9" fill="#a9c9ea"/><circle cx="358.34" cy="69.56" r="1.9" fill="#a9c9ea"/><circle cx="358.98" cy="73.76" r="1.9" fill="#a9c9ea"/><circle cx="359.2" cy="78" r="1.9" fill="#a9c9ea"/><circle cx="358.98" cy="82.24" r="1.9" fill="#a9c9ea"/><circle cx="358.34" cy="86.44" r="1.9" fill="#a9c9ea"/><circle cx="357.28" cy="90.55" r="1.9" fill="#a9c9ea"/><circle cx="355.8" cy="94.53" r="1.9" fill="#a9c9ea"/><circle cx="353.93" cy="98.34" r="1.9" fill="#a9c9ea"/><circle cx="351.68" cy="101.95" r="1.9" fill="#a9c9ea"/><circle cx="349.08" cy="105.3" r="1.9" fill="#a9c9ea"/><circle cx="346.15" cy="108.38" r="1.9" fill="#a9c9ea"/><circle cx="342.93" cy="111.15" r="1.9" fill="#a9c9ea"/><circle cx="339.44" cy="113.57" r="1.9" fill="#a9c9ea"/><circle cx="335.73" cy="115.63" r="1.9" fill="#a9c9ea"/><circle cx="331.83" cy="117.3" r="1.9" fill="#a9c9ea"/><circle cx="327.77" cy="118.57" r="1.9" fill="#a9c9ea"/><circle cx="323.61" cy="119.42" r="1.9" fill="#a9c9ea"/><circle cx="319.39" cy="119.85" r="1.9" fill="#a9c9ea"/><circle cx="315.14" cy="119.84" r="1.9" fill="#a9c9ea"/><circle cx="310.92" cy="119.41" r="1.9" fill="#a9c9ea"/><circle cx="306.76" cy="118.55" r="1.9" fill="#a9c9ea"/><circle cx="302.71" cy="117.28" r="1.9" fill="#a9c9ea"/><circle cx="298.81" cy="115.6" r="1.9" fill="#a9c9ea"/>
<g stroke="#fbdac3" stroke-width="1.15" stroke-linecap="round"><line x1="286.4" y1="108.5" x2="287.79" y2="111.49"/><line x1="283.15" y1="109.82" x2="284.24" y2="112.94"/><line x1="279.79" y1="110.79" x2="280.55" y2="114.01"/><line x1="276.35" y1="111.42" x2="276.77" y2="114.69"/><line x1="272.86" y1="111.69" x2="272.94" y2="114.99"/><line x1="269.36" y1="111.6" x2="269.11" y2="114.89"/><line x1="265.89" y1="111.15" x2="265.3" y2="114.39"/><line x1="262.49" y1="110.34" x2="261.56" y2="113.51"/><line x1="259.18" y1="109.19" x2="257.94" y2="112.25"/><line x1="256.01" y1="107.71" x2="254.46" y2="110.62"/><line x1="253.01" y1="105.9" x2="251.17" y2="108.64"/><line x1="250.21" y1="103.8" x2="248.1" y2="106.34"/><line x1="247.65" y1="101.42" x2="245.28" y2="103.73"/><line x1="245.34" y1="98.8" x2="242.75" y2="100.84"/><line x1="243.31" y1="95.94" x2="240.52" y2="97.71"/><line x1="241.59" y1="92.9" x2="238.63" y2="94.37"/><line x1="240.18" y1="89.69" x2="237.1" y2="90.85"/><line x1="239.12" y1="86.36" x2="235.93" y2="87.2"/><line x1="238.4" y1="82.93" x2="235.14" y2="83.44"/><line x1="238.05" y1="79.45" x2="234.75" y2="79.62"/><line x1="238.05" y1="75.95" x2="234.75" y2="75.78"/><line x1="238.4" y1="72.47" x2="235.14" y2="71.96"/><line x1="239.12" y1="69.04" x2="235.93" y2="68.2"/><line x1="240.18" y1="65.71" x2="237.1" y2="64.55"/><line x1="241.59" y1="62.5" x2="238.63" y2="61.03"/><line x1="243.31" y1="59.46" x2="240.52" y2="57.69"/><line x1="245.34" y1="56.6" x2="242.75" y2="54.56"/><line x1="247.65" y1="53.98" x2="245.28" y2="51.67"/><line x1="250.21" y1="51.6" x2="248.1" y2="49.06"/><line x1="253.01" y1="49.5" x2="251.17" y2="46.76"/><line x1="256.01" y1="47.69" x2="254.46" y2="44.78"/><line x1="259.18" y1="46.21" x2="257.94" y2="43.15"/><line x1="262.49" y1="45.06" x2="261.56" y2="41.89"/><line x1="265.89" y1="44.25" x2="265.3" y2="41.01"/><line x1="269.36" y1="43.8" x2="269.11" y2="40.51"/><line x1="272.86" y1="43.71" x2="272.94" y2="40.41"/><line x1="276.35" y1="43.98" x2="276.77" y2="40.71"/><line x1="279.79" y1="44.61" x2="280.55" y2="41.39"/><line x1="283.15" y1="45.58" x2="284.24" y2="42.46"/><line x1="286.4" y1="46.9" x2="287.79" y2="43.91"/></g>
<g stroke="#cfe2f5" stroke-width="1.15" stroke-linecap="round"><line x1="299.41" y1="45.84" x2="297.7" y2="42.79"/><line x1="302.75" y1="44.2" x2="301.37" y2="40.98"/><line x1="306.25" y1="42.9" x2="305.2" y2="39.56"/><line x1="309.86" y1="41.96" x2="309.15" y2="38.53"/><line x1="313.54" y1="41.39" x2="313.19" y2="37.91"/><line x1="317.27" y1="41.2" x2="317.27" y2="37.7"/><line x1="320.99" y1="41.39" x2="321.35" y2="37.9"/><line x1="324.68" y1="41.95" x2="325.38" y2="38.52"/><line x1="328.29" y1="42.88" x2="329.34" y2="39.54"/><line x1="331.79" y1="44.17" x2="333.17" y2="40.96"/><line x1="335.14" y1="45.81" x2="336.84" y2="42.75"/><line x1="338.31" y1="47.79" x2="340.31" y2="44.91"/><line x1="341.26" y1="50.07" x2="343.54" y2="47.41"/><line x1="343.96" y1="52.64" x2="346.5" y2="50.22"/><line x1="346.39" y1="55.46" x2="349.16" y2="53.32"/><line x1="348.52" y1="58.52" x2="351.49" y2="56.67"/><line x1="350.34" y1="61.79" x2="353.48" y2="60.24"/><line x1="351.81" y1="65.21" x2="355.09" y2="64"/><line x1="352.92" y1="68.77" x2="356.31" y2="67.89"/><line x1="353.68" y1="72.42" x2="357.13" y2="71.89"/><line x1="354.05" y1="76.14" x2="357.55" y2="75.96"/><line x1="354.05" y1="79.86" x2="357.55" y2="80.04"/><line x1="353.68" y1="83.58" x2="357.13" y2="84.11"/><line x1="352.92" y1="87.23" x2="356.31" y2="88.11"/><line x1="351.81" y1="90.79" x2="355.09" y2="92"/><line x1="350.34" y1="94.21" x2="353.48" y2="95.76"/><line x1="348.52" y1="97.48" x2="351.49" y2="99.33"/><line x1="346.39" y1="100.54" x2="349.16" y2="102.68"/><line x1="343.96" y1="103.36" x2="346.5" y2="105.78"/><line x1="341.26" y1="105.93" x2="343.54" y2="108.59"/><line x1="338.31" y1="108.21" x2="340.31" y2="111.09"/><line x1="335.14" y1="110.19" x2="336.84" y2="113.25"/><line x1="331.79" y1="111.83" x2="333.17" y2="115.04"/><line x1="328.29" y1="113.12" x2="329.34" y2="116.46"/><line x1="324.68" y1="114.05" x2="325.38" y2="117.48"/><line x1="320.99" y1="114.61" x2="321.35" y2="118.1"/><line x1="317.27" y1="114.8" x2="317.27" y2="118.3"/><line x1="313.54" y1="114.61" x2="313.19" y2="118.09"/><line x1="309.86" y1="114.04" x2="309.15" y2="117.47"/><line x1="306.25" y1="113.1" x2="305.2" y2="116.44"/><line x1="302.75" y1="111.8" x2="301.37" y2="115.02"/><line x1="299.41" y1="110.16" x2="297.7" y2="113.21"/></g>
<g stroke="#cde0f4" stroke-width="1.15" stroke-linecap="round"><line x1="305.34" y1="51.8" x2="304.06" y2="48.98"/><line x1="308.6" y1="50.55" x2="307.66" y2="47.59"/><line x1="311.98" y1="49.7" x2="311.41" y2="46.65"/><line x1="315.44" y1="49.26" x2="315.24" y2="46.17"/><line x1="318.93" y1="49.25" x2="319.1" y2="46.15"/><line x1="322.39" y1="49.65" x2="322.94" y2="46.6"/><line x1="325.78" y1="50.48" x2="326.69" y2="47.51"/><line x1="329.04" y1="51.7" x2="330.3" y2="48.87"/><line x1="332.13" y1="53.31" x2="333.73" y2="50.66"/><line x1="335.01" y1="55.29" x2="336.91" y2="52.84"/><line x1="337.62" y1="57.59" x2="339.81" y2="55.4"/><line x1="339.94" y1="60.2" x2="342.38" y2="58.28"/><line x1="341.93" y1="63.07" x2="344.58" y2="61.46"/><line x1="343.55" y1="66.15" x2="346.38" y2="64.88"/><line x1="344.79" y1="69.41" x2="347.75" y2="68.49"/><line x1="345.63" y1="72.8" x2="348.67" y2="72.23"/><line x1="346.05" y1="76.26" x2="349.14" y2="76.07"/><line x1="346.05" y1="79.74" x2="349.14" y2="79.93"/><line x1="345.63" y1="83.2" x2="348.67" y2="83.77"/><line x1="344.79" y1="86.59" x2="347.75" y2="87.51"/><line x1="343.55" y1="89.85" x2="346.38" y2="91.12"/><line x1="341.93" y1="92.93" x2="344.58" y2="94.54"/><line x1="339.94" y1="95.8" x2="342.38" y2="97.72"/><line x1="337.62" y1="98.41" x2="339.81" y2="100.6"/><line x1="335.01" y1="100.71" x2="336.91" y2="103.16"/><line x1="332.13" y1="102.69" x2="333.73" y2="105.34"/><line x1="329.04" y1="104.3" x2="330.3" y2="107.13"/><line x1="325.78" y1="105.52" x2="326.69" y2="108.49"/><line x1="322.39" y1="106.35" x2="322.94" y2="109.4"/><line x1="318.93" y1="106.75" x2="319.1" y2="109.85"/><line x1="315.44" y1="106.74" x2="315.24" y2="109.83"/><line x1="311.98" y1="106.3" x2="311.41" y2="109.35"/><line x1="308.6" y1="105.45" x2="307.66" y2="108.41"/><line x1="305.34" y1="104.2" x2="304.06" y2="107.02"/></g>
<path d="M290,48 C300,52 306,50 316,51 C335,52 345,64 345,78 C345,93 334,105 316,105 C306,106 300,103 290,108 C272,112 246,100 244,78 C244,56 272,44 290,48Z" fill="url(#gFus)"/>
<circle cx="320.8" cy="78.5" r="26.5" fill="#cad6f1"/>
<rect x="275.1" y="37" width="3.8" height="15" rx="1.9" fill="#a9c9ea"/>
<rect x="278.1" y="104.5" width="3.8" height="15" rx="1.9" fill="#c6d2f0"/>
<rect x="279.6" y="37" width="3.8" height="15" rx="1.9" fill="#f8c9a9"/>
<rect x="282.6" y="104.5" width="3.8" height="15" rx="1.9" fill="#f8c9a9"/>
<rect x="284.1" y="37.46" width="3.8" height="15" rx="1.9" fill="#a9c9ea"/>
<rect x="287.1" y="104.5" width="3.8" height="15" rx="1.9" fill="#a9c9ea"/>
<rect x="288.6" y="39.35" width="3.8" height="15" rx="1.9" fill="#c6d2f0"/>
<rect x="291.6" y="103.41" width="3.8" height="15" rx="1.9" fill="#c6d2f0"/>
<rect x="293.1" y="41.24" width="3.8" height="15" rx="1.9" fill="#f8c9a9"/>
<rect x="296.1" y="101.52" width="3.8" height="15" rx="1.9" fill="#f8c9a9"/>
<rect x="297.6" y="41.87" width="3.8" height="15" rx="1.9" fill="#a9c9ea"/>
<rect x="300.6" y="99.63" width="3.8" height="15" rx="1.9" fill="#a9c9ea"/>
<rect x="302.1" y="39.98" width="3.8" height="15" rx="1.9" fill="#c6d2f0"/>
<rect x="305.1" y="100.26" width="3.8" height="15" rx="1.9" fill="#a9c9ea"/>
<rect x="306.6" y="38.09" width="3.8" height="15" rx="1.9" fill="#f8c9a9"/>
<rect x="309.6" y="102.15" width="3.8" height="15" rx="1.9" fill="#f8c9a9"/>
<rect x="311.1" y="37" width="3.8" height="15" rx="1.9" fill="#a9c9ea"/>
<rect x="314.1" y="104.04" width="3.8" height="15" rx="1.9" fill="#a9c9ea"/>
<rect x="315.6" y="37" width="3.8" height="15" rx="1.9" fill="#a9c9ea"/>
<rect x="318.6" y="104.5" width="3.8" height="15" rx="1.9" fill="#f8c9a9"/>
<rect x="320.1" y="37" width="3.8" height="15" rx="1.9" fill="#f8c9a9"/>
<rect x="323.1" y="104.5" width="3.8" height="15" rx="1.9" fill="#a9c9ea"/>
<g fill="#a6c7ea"><path d="M310,60 C313,55 321,55 324,59 C326,64 322,70 318,75 C314,78 309,76 308.6,70 C308.4,66 308.6,63 310,60Z"/><path d="M298,84 C302,82 306,86 311,86 C315,86 317,84 318,87 C318,92 312,95 306,94 C300,93 296,88 298,84Z"/><path d="M328,64 C334,62 341,68 343,78 C344,88 339,96 331,98 C326,98 325,94 328,90 C332,84 332,76 328,70 C326,67 326,65 328,64Z"/></g>
<rect x="-5.5" y="-2.1" width="11" height="4.2" rx="2.1" fill="#2a6cb4" transform="translate(284.9 41.3) rotate(80)"/>
<rect x="-5.5" y="-2.1" width="11" height="4.2" rx="2.1" fill="#2a6cb4" transform="translate(315 39.2) rotate(82)"/>
<rect x="-5.5" y="-2.1" width="11" height="4.2" rx="2.1" fill="#2a6cb4" transform="translate(346 51) rotate(57)"/>
<rect x="-5.5" y="-2.1" width="11" height="4.2" rx="2.1" fill="#2a6cb4" transform="translate(341 105.3) rotate(48)"/>
<rect x="-5.5" y="-2.1" width="11" height="4.2" rx="2.1" fill="#2a6cb4" transform="translate(288.5 111.6) rotate(80)"/>
<path d="M270.5,65 Q264.74,70.51 257.1,72.8" stroke="#2c3c44" stroke-width="6.6" fill="none" stroke-linecap="round"/><path d="M270.5,65 Q268.96,59.92 269.9,54.7" stroke="#2c3c44" stroke-width="5.2" fill="none" stroke-linecap="round"/><path d="M270.5,65 Q275.58,64.57 280.3,66.5" stroke="#2c3c44" stroke-width="5.2" fill="none" stroke-linecap="round"/><path d="M270.5,65 Q264.74,70.51 257.1,72.8" stroke="#6fa9b0" stroke-width="4.6" fill="none" stroke-linecap="round"/><path d="M270.5,65 Q268.96,59.92 269.9,54.7" stroke="#6fa9b0" stroke-width="3.2" fill="none" stroke-linecap="round"/><path d="M270.5,65 Q275.58,64.57 280.3,66.5" stroke="#6fa9b0" stroke-width="3.2" fill="none" stroke-linecap="round"/>
<path d="M257.09,89.19 L257.69,90.27 L258.36,91.15 L259.13,91.81 L260,92.23 L260.97,92.39 L262.03,92.31 L263.18,92.02 L264.4,91.57 L265.66,91.01 L266.94,90.4 L268.21,89.81 L269.45,89.31 L270.63,88.94 L271.73,88.77 L272.74,88.83 L273.65,89.14 L274.46,89.7 L275.17,90.49 L275.8,91.5 L276.36,92.67 L276.87,93.95 L277.37,95.27 L277.88,96.58 L278.42,97.8 L280.11,93.61 L278.87,94.12 L277.6,94.71 L276.32,95.31 L275.06,95.88 L273.84,96.33 L272.69,96.61 L271.63,96.69 L270.66,96.53 L269.79,96.12 L269.03,95.46 L268.35,94.57 L267.75,93.49 L267.21,92.27 L266.71,90.97 L266.21,89.64 L265.69,88.36 L265.13,87.19 L264.51,86.19 L263.79,85.39 L262.99,84.83 L262.08,84.52 L261.07,84.47 L259.96,84.64 L258.78,85Z" fill="#bccbe4" fill-rule="nonzero"/><path d="M257.09,89.19 L257.69,90.27 L258.36,91.15 L259.13,91.81 L260,92.23 L260.97,92.39 L262.03,92.31 L263.18,92.02 L264.4,91.57 L265.66,91.01 L266.94,90.4 L268.21,89.81 L269.45,89.31 L270.63,88.94 L271.73,88.77 L272.74,88.83 L273.65,89.14 L274.46,89.7 L275.17,90.49 L275.8,91.5 L276.36,92.67 L276.87,93.95 L277.37,95.27 L277.88,96.58 L278.42,97.8" fill="none" stroke="#3e4658" stroke-width="1.1" stroke-linecap="round" stroke-linejoin="round"/><path d="M258.78,85 L259.96,84.64 L261.07,84.47 L262.08,84.52 L262.99,84.83 L263.79,85.39 L264.51,86.19 L265.13,87.19 L265.69,88.36 L266.21,89.64 L266.71,90.97 L267.21,92.27 L267.75,93.49 L268.35,94.57 L269.03,95.46 L269.79,96.12 L270.66,96.53 L271.63,96.69 L272.69,96.61 L273.84,96.33 L275.06,95.88 L276.32,95.31 L277.6,94.71 L278.87,94.12 L280.11,93.61" fill="none" stroke="#3e4658" stroke-width="1.1" stroke-linecap="round" stroke-linejoin="round"/><path d="M257.09,89.19 l-1.74,-2.64" stroke="#3e4658" stroke-width="1.1" stroke-linecap="round" fill="none"/><path d="M280.11,93.61 l1.74,2.64" stroke="#3e4658" stroke-width="1.1" stroke-linecap="round" fill="none"/>
<g transform="translate(293 70.5) rotate(-47) scale(1.02)"><path d="M-17,-2 C-17,-8 -6,-8 0,-7 C8,-7 17,-6 16,0 C15,6 8,8 4,6 C-2,3 -10,5 -15,3 C-17,2 -17,0 -17,-2Z" fill="#e8929a"/><g fill="none" stroke="#4a2c3c" stroke-width="0.9" stroke-linejoin="round"><polygon points="-8.01,0.15 -10,1.3 -11.99,0.15 -11.99,-2.15 -10,-3.3 -8.01,-2.15"/><polygon points="-4.01,0.15 -6,1.3 -7.99,0.15 -7.99,-2.15 -6,-3.3 -4.01,-2.15"/><polygon points="-0.01,0.15 -2,1.3 -3.99,0.15 -3.99,-2.15 -2,-3.3 -0.01,-2.15"/><polygon points="3.99,0.15 2,1.3 0.01,0.15 0.01,-2.15 2,-3.3 3.99,-2.15"/><polygon points="5.99,3.65 4,4.8 2.01,3.65 2.01,1.35 4,0.2 5.99,1.35"/><polygon points="8.99,6.15 7,7.3 5.01,6.15 5.01,3.85 7,2.7 8.99,3.85"/><path d="M-12,-1 h-2 M-10,1.5 v2.5 M-6,1.5 v2.5 M-2,-3.5 v-2 M4,-2.5 h5 M6,-4 h4 M9,6 h2"/></g></g>
<text x="254.6" y="136.9" font-size="11" fill="#111" textLength="87.6" lengthAdjust="spacingAndGlyphs" >Membrane fusion</text>
<circle cx="431.6" cy="79" r="32" fill="#d3daf2"/>
<line x1="469.95" y1="81.01" x2="474.24" y2="81.23" stroke="#f8c9a9" stroke-width="5.4" stroke-linecap="round"/>
<line x1="469.02" y1="87.64" x2="473.21" y2="88.61" stroke="#a9c9ea" stroke-width="5.4" stroke-linecap="round"/>
<line x1="466.95" y1="94" x2="470.91" y2="95.68" stroke="#f8c9a9" stroke-width="5.4" stroke-linecap="round"/>
<line x1="463.8" y1="99.91" x2="467.41" y2="102.26" stroke="#f8c9a9" stroke-width="5.4" stroke-linecap="round"/>
<line x1="459.68" y1="105.19" x2="462.83" y2="108.12" stroke="#f8c9a9" stroke-width="5.4" stroke-linecap="round"/>
<line x1="454.71" y1="109.67" x2="457.3" y2="113.1" stroke="#a9c9ea" stroke-width="5.4" stroke-linecap="round"/>
<line x1="449.03" y1="113.21" x2="450.99" y2="117.05" stroke="#f8c9a9" stroke-width="5.4" stroke-linecap="round"/>
<line x1="442.83" y1="115.72" x2="444.08" y2="119.83" stroke="#a9c9ea" stroke-width="5.4" stroke-linecap="round"/>
<line x1="436.28" y1="117.11" x2="436.8" y2="121.38" stroke="#f8c9a9" stroke-width="5.4" stroke-linecap="round"/>
<line x1="429.59" y1="117.35" x2="429.37" y2="121.64" stroke="#a9c9ea" stroke-width="5.4" stroke-linecap="round"/>
<line x1="422.96" y1="116.42" x2="421.99" y2="120.61" stroke="#a9c9ea" stroke-width="5.4" stroke-linecap="round"/>
<line x1="416.6" y1="114.35" x2="414.92" y2="118.31" stroke="#a9c9ea" stroke-width="5.4" stroke-linecap="round"/>
<line x1="410.69" y1="111.2" x2="408.34" y2="114.81" stroke="#f8c9a9" stroke-width="5.4" stroke-linecap="round"/>
<line x1="405.41" y1="107.08" x2="402.48" y2="110.23" stroke="#a9c9ea" stroke-width="5.4" stroke-linecap="round"/>
<line x1="400.93" y1="102.11" x2="397.5" y2="104.7" stroke="#f8c9a9" stroke-width="5.4" stroke-linecap="round"/>
<line x1="397.39" y1="96.43" x2="393.55" y2="98.39" stroke="#a9c9ea" stroke-width="5.4" stroke-linecap="round"/>
<line x1="394.88" y1="90.23" x2="390.77" y2="91.48" stroke="#f8c9a9" stroke-width="5.4" stroke-linecap="round"/>
<line x1="393.49" y1="83.68" x2="389.22" y2="84.2" stroke="#f8c9a9" stroke-width="5.4" stroke-linecap="round"/>
<line x1="393.25" y1="76.99" x2="388.96" y2="76.77" stroke="#f8c9a9" stroke-width="5.4" stroke-linecap="round"/>
<line x1="394.18" y1="70.36" x2="389.99" y2="69.39" stroke="#a9c9ea" stroke-width="5.4" stroke-linecap="round"/>
<line x1="396.25" y1="64" x2="392.29" y2="62.32" stroke="#f8c9a9" stroke-width="5.4" stroke-linecap="round"/>
<line x1="399.4" y1="58.09" x2="395.79" y2="55.74" stroke="#a9c9ea" stroke-width="5.4" stroke-linecap="round"/>
<line x1="403.52" y1="52.81" x2="400.37" y2="49.88" stroke="#f8c9a9" stroke-width="5.4" stroke-linecap="round"/>
<line x1="408.49" y1="48.33" x2="405.9" y2="44.9" stroke="#a9c9ea" stroke-width="5.4" stroke-linecap="round"/>
<line x1="414.17" y1="44.79" x2="412.21" y2="40.95" stroke="#a9c9ea" stroke-width="5.4" stroke-linecap="round"/>
<line x1="420.37" y1="42.28" x2="419.12" y2="38.17" stroke="#a9c9ea" stroke-width="5.4" stroke-linecap="round"/>
<line x1="426.92" y1="40.89" x2="426.4" y2="36.62" stroke="#f8c9a9" stroke-width="5.4" stroke-linecap="round"/>
<line x1="433.61" y1="40.65" x2="433.83" y2="36.36" stroke="#a9c9ea" stroke-width="5.4" stroke-linecap="round"/>
<line x1="440.24" y1="41.58" x2="441.21" y2="37.39" stroke="#f8c9a9" stroke-width="5.4" stroke-linecap="round"/>
<line x1="446.6" y1="43.65" x2="448.28" y2="39.69" stroke="#a9c9ea" stroke-width="5.4" stroke-linecap="round"/>
<line x1="452.51" y1="46.8" x2="454.86" y2="43.19" stroke="#f8c9a9" stroke-width="5.4" stroke-linecap="round"/>
<line x1="457.79" y1="50.92" x2="460.72" y2="47.77" stroke="#f8c9a9" stroke-width="5.4" stroke-linecap="round"/>
<line x1="462.27" y1="55.89" x2="465.7" y2="53.3" stroke="#f8c9a9" stroke-width="5.4" stroke-linecap="round"/>
<line x1="465.81" y1="61.57" x2="469.65" y2="59.61" stroke="#a9c9ea" stroke-width="5.4" stroke-linecap="round"/>
<line x1="468.32" y1="67.77" x2="472.43" y2="66.52" stroke="#f8c9a9" stroke-width="5.4" stroke-linecap="round"/>
<line x1="469.71" y1="74.32" x2="473.98" y2="73.8" stroke="#a9c9ea" stroke-width="5.4" stroke-linecap="round"/>
<line x1="461.8" y1="83.24" x2="465.86" y2="83.82" stroke="#a9c9ea" stroke-width="4.6" stroke-linecap="round"/>
<line x1="460.26" y1="89.43" x2="464.11" y2="90.83" stroke="#f8c9a9" stroke-width="4.6" stroke-linecap="round"/>
<line x1="457.47" y1="95.16" x2="460.94" y2="97.34" stroke="#bcd0ee" stroke-width="4.6" stroke-linecap="round"/>
<line x1="453.54" y1="100.19" x2="456.49" y2="103.04" stroke="#f8c9a9" stroke-width="4.6" stroke-linecap="round"/>
<line x1="448.66" y1="104.29" x2="450.95" y2="107.68" stroke="#a9c9ea" stroke-width="4.6" stroke-linecap="round"/>
<line x1="443.03" y1="107.28" x2="444.56" y2="111.08" stroke="#f8c9a9" stroke-width="4.6" stroke-linecap="round"/>
<line x1="436.9" y1="109.04" x2="437.61" y2="113.07" stroke="#a9c9ea" stroke-width="4.6" stroke-linecap="round"/>
<line x1="430.54" y1="109.48" x2="430.39" y2="113.58" stroke="#bcd0ee" stroke-width="4.6" stroke-linecap="round"/>
<line x1="424.22" y1="108.59" x2="423.23" y2="112.57" stroke="#a9c9ea" stroke-width="4.6" stroke-linecap="round"/>
<line x1="418.23" y1="106.41" x2="416.43" y2="110.1" stroke="#f8c9a9" stroke-width="4.6" stroke-linecap="round"/>
<line x1="412.82" y1="103.03" x2="410.3" y2="106.27" stroke="#a9c9ea" stroke-width="4.6" stroke-linecap="round"/>
<line x1="408.24" y1="98.61" x2="405.09" y2="101.24" stroke="#f8c9a9" stroke-width="4.6" stroke-linecap="round"/>
<line x1="404.67" y1="93.32" x2="401.05" y2="95.24" stroke="#bcd0ee" stroke-width="4.6" stroke-linecap="round"/>
<line x1="402.28" y1="87.41" x2="398.34" y2="88.54" stroke="#f8c9a9" stroke-width="4.6" stroke-linecap="round"/>
<line x1="401.17" y1="81.13" x2="397.08" y2="81.41" stroke="#a9c9ea" stroke-width="4.6" stroke-linecap="round"/>
<line x1="401.4" y1="74.76" x2="397.34" y2="74.18" stroke="#f8c9a9" stroke-width="4.6" stroke-linecap="round"/>
<line x1="402.94" y1="68.57" x2="399.09" y2="67.17" stroke="#a9c9ea" stroke-width="4.6" stroke-linecap="round"/>
<line x1="405.73" y1="62.84" x2="402.26" y2="60.66" stroke="#bcd0ee" stroke-width="4.6" stroke-linecap="round"/>
<line x1="409.66" y1="57.81" x2="406.71" y2="54.96" stroke="#a9c9ea" stroke-width="4.6" stroke-linecap="round"/>
<line x1="414.54" y1="53.71" x2="412.25" y2="50.32" stroke="#f8c9a9" stroke-width="4.6" stroke-linecap="round"/>
<line x1="420.17" y1="50.72" x2="418.64" y2="46.92" stroke="#a9c9ea" stroke-width="4.6" stroke-linecap="round"/>
<line x1="426.3" y1="48.96" x2="425.59" y2="44.93" stroke="#f8c9a9" stroke-width="4.6" stroke-linecap="round"/>
<line x1="432.66" y1="48.52" x2="432.81" y2="44.42" stroke="#bcd0ee" stroke-width="4.6" stroke-linecap="round"/>
<line x1="438.98" y1="49.41" x2="439.97" y2="45.43" stroke="#f8c9a9" stroke-width="4.6" stroke-linecap="round"/>
<line x1="444.97" y1="51.59" x2="446.77" y2="47.9" stroke="#a9c9ea" stroke-width="4.6" stroke-linecap="round"/>
<line x1="450.38" y1="54.97" x2="452.9" y2="51.73" stroke="#f8c9a9" stroke-width="4.6" stroke-linecap="round"/>
<line x1="454.96" y1="59.39" x2="458.11" y2="56.76" stroke="#a9c9ea" stroke-width="4.6" stroke-linecap="round"/>
<line x1="458.53" y1="64.68" x2="462.15" y2="62.76" stroke="#bcd0ee" stroke-width="4.6" stroke-linecap="round"/>
<line x1="460.92" y1="70.59" x2="464.86" y2="69.46" stroke="#a9c9ea" stroke-width="4.6" stroke-linecap="round"/>
<line x1="462.03" y1="76.87" x2="466.12" y2="76.59" stroke="#f8c9a9" stroke-width="4.6" stroke-linecap="round"/>
<circle cx="431.6" cy="79" r="27.5" fill="#d3daf2"/>
<path d="M411.6,77 c2,-8 12,-8 14,0 c2,8 -4,14 -10,12 c-4,-1 -5,-6 -4,-12z" fill="#f3cdb6" opacity="0.8"/>
<path d="M435.6,73 c8,-4 18,0 18,8 c0,6 -8,8 -14,5 c-5,-3 -8,-9 -4,-13z" fill="#aecbec" opacity="0.8"/>
<path d="M423.6,89 c6,-2 14,2 14,8 c0,5 -10,6 -15,2 c-3,-3 -3,-8 1,-10z" fill="#aecbec" opacity="0.8"/>
<rect x="-6.25" y="-2.5" width="12.5" height="5" rx="2.5" fill="#2a6cb4" transform="translate(412.91 45) rotate(-118.8)"/>
<rect x="-6.25" y="-2.5" width="12.5" height="5" rx="2.5" fill="#2a6cb4" transform="translate(463.07 56.3) rotate(-35.8)"/>
<rect x="-6.25" y="-2.5" width="12.5" height="5" rx="2.5" fill="#2a6cb4" transform="translate(392.95 82.38) rotate(175)"/>
<rect x="-6.25" y="-2.5" width="12.5" height="5" rx="2.5" fill="#2a6cb4" transform="translate(459.98 105.46) rotate(43)"/>
<rect x="-6.25" y="-2.5" width="12.5" height="5" rx="2.5" fill="#2a6cb4" transform="translate(431.6 117.8) rotate(90)"/>
<g transform="translate(428.1 64.5) rotate(8) scale(0.92)"><path d="M-17,-2 C-17,-8 -6,-8 0,-7 C8,-7 17,-6 16,0 C15,6 8,8 4,6 C-2,3 -10,5 -15,3 C-17,2 -17,0 -17,-2Z" fill="#e8929a"/><g fill="none" stroke="#4a2c3c" stroke-width="0.9" stroke-linejoin="round"><polygon points="-8.01,0.15 -10,1.3 -11.99,0.15 -11.99,-2.15 -10,-3.3 -8.01,-2.15"/><polygon points="-4.01,0.15 -6,1.3 -7.99,0.15 -7.99,-2.15 -6,-3.3 -4.01,-2.15"/><polygon points="-0.01,0.15 -2,1.3 -3.99,0.15 -3.99,-2.15 -2,-3.3 -0.01,-2.15"/><polygon points="3.99,0.15 2,1.3 0.01,0.15 0.01,-2.15 2,-3.3 3.99,-2.15"/><polygon points="5.99,3.65 4,4.8 2.01,3.65 2.01,1.35 4,0.2 5.99,1.35"/><polygon points="8.99,6.15 7,7.3 5.01,6.15 5.01,3.85 7,2.7 8.99,3.85"/><path d="M-12,-1 h-2 M-10,1.5 v2.5 M-6,1.5 v2.5 M-2,-3.5 v-2 M4,-2.5 h5 M6,-4 h4 M9,6 h2"/></g></g>
<path d="M409.38,81.14 L409.4,82.38 L409.58,83.48 L409.94,84.42 L410.52,85.19 L411.3,85.79 L412.27,86.22 L413.42,86.5 L414.71,86.68 L416.09,86.77 L417.5,86.84 L418.9,86.91 L420.23,87.05 L421.44,87.28 L422.49,87.65 L423.36,88.18 L424.02,88.87 L424.47,89.75 L424.73,90.78 L424.81,91.96 L424.75,93.26 L424.61,94.63 L424.43,96.04 L424.26,97.43 L424.16,98.76 L427.62,95.86 L426.29,95.72 L424.89,95.65 L423.48,95.58 L422.1,95.48 L420.82,95.31 L419.67,95.03 L418.69,94.6 L417.91,94 L417.34,93.23 L416.97,92.29 L416.79,91.19 L416.77,89.95 L416.87,88.62 L417.03,87.23 L417.22,85.82 L417.36,84.45 L417.41,83.16 L417.33,81.97 L417.08,80.94 L416.63,80.06 L415.97,79.37 L415.1,78.84 L414.05,78.47 L412.84,78.24Z" fill="#bccbe4" fill-rule="nonzero"/><path d="M409.38,81.14 L409.4,82.38 L409.58,83.48 L409.94,84.42 L410.52,85.19 L411.3,85.79 L412.27,86.22 L413.42,86.5 L414.71,86.68 L416.09,86.77 L417.5,86.84 L418.9,86.91 L420.23,87.05 L421.44,87.28 L422.49,87.65 L423.36,88.18 L424.02,88.87 L424.47,89.75 L424.73,90.78 L424.81,91.96 L424.75,93.26 L424.61,94.63 L424.43,96.04 L424.26,97.43 L424.16,98.76" fill="none" stroke="#3e4658" stroke-width="1.1" stroke-linecap="round" stroke-linejoin="round"/><path d="M412.84,78.24 L414.05,78.47 L415.1,78.84 L415.97,79.37 L416.63,80.06 L417.08,80.94 L417.33,81.97 L417.41,83.16 L417.36,84.45 L417.22,85.82 L417.03,87.23 L416.87,88.62 L416.77,89.95 L416.79,91.19 L416.97,92.29 L417.34,93.23 L417.91,94 L418.69,94.6 L419.67,95.03 L420.82,95.31 L422.1,95.48 L423.48,95.58 L424.89,95.65 L426.29,95.72 L427.62,95.86" fill="none" stroke="#3e4658" stroke-width="1.1" stroke-linecap="round" stroke-linejoin="round"/><path d="M409.38,81.14 l-0.29,-3.15" stroke="#3e4658" stroke-width="1.1" stroke-linecap="round" fill="none"/><path d="M427.62,95.86 l0.29,3.15" stroke="#3e4658" stroke-width="1.1" stroke-linecap="round" fill="none"/>
<path d="M441.8,86.3 Q440.36,92.62 436.2,97.6" stroke="#2c3c44" stroke-width="5.7" fill="none" stroke-linecap="round"/><path d="M441.8,86.3 Q440.25,81.6 441,76.7" stroke="#2c3c44" stroke-width="4.7" fill="none" stroke-linecap="round"/><path d="M441.8,86.3 Q446.38,84.25 451.4,84.5" stroke="#2c3c44" stroke-width="4.7" fill="none" stroke-linecap="round"/><path d="M441.8,86.3 Q440.36,92.62 436.2,97.6" stroke="#86b6c2" stroke-width="3.7" fill="none" stroke-linecap="round"/><path d="M441.8,86.3 Q440.25,81.6 441,76.7" stroke="#86b6c2" stroke-width="2.7" fill="none" stroke-linecap="round"/><path d="M441.8,86.3 Q446.38,84.25 451.4,84.5" stroke="#86b6c2" stroke-width="2.7" fill="none" stroke-linecap="round"/>
<text x="391.8" y="136.9" font-size="11" fill="#111" textLength="79.6" lengthAdjust="spacingAndGlyphs" >Hybrid exosome</text>
<path d="M42.5,155.6 H48 L65,144.6 L83,155.6 H465 Q477,155.6 477,167.6 V275.6 Q477,287.6 465,287.6 H42.5 Q30.5,287.6 30.5,275.6 V167.6 Q30.5,155.6 42.5,155.6Z" fill="#fffbee" stroke="#fcf3d6" stroke-width="2.2" filter="url(#fBlur1)"/>
<path d="M42.5,155.6 H48 L65,144.6 L83,155.6 H465 Q477,155.6 477,167.6 V275.6 Q477,287.6 465,287.6 H42.5 Q30.5,287.6 30.5,275.6 V167.6 Q30.5,155.6 42.5,155.6Z" fill="#fffcf1"/>
<circle cx="86.2" cy="208.7" r="41.8" fill="#f8c9a9"/>
<circle cx="128.3" cy="208.7" r="1.9" fill="#f8c9a9"/><circle cx="128.05" cy="213.25" r="1.9" fill="#f8c9a9"/><circle cx="127.32" cy="217.75" r="1.9" fill="#f8c9a9"/><circle cx="126.1" cy="222.14" r="1.9" fill="#f8c9a9"/><circle cx="124.41" cy="226.38" r="1.9" fill="#f8c9a9"/><circle cx="122.27" cy="230.4" r="1.9" fill="#f8c9a9"/><circle cx="119.72" cy="234.18" r="1.9" fill="#f8c9a9"/><circle cx="116.76" cy="237.65" r="1.9" fill="#f8c9a9"/><circle cx="113.45" cy="240.79" r="1.9" fill="#f8c9a9"/><circle cx="109.83" cy="243.55" r="1.9" fill="#f8c9a9"/><circle cx="105.92" cy="245.9" r="1.9" fill="#f8c9a9"/><circle cx="101.78" cy="247.81" r="1.9" fill="#f8c9a9"/><circle cx="97.46" cy="249.27" r="1.9" fill="#f8c9a9"/><circle cx="93.01" cy="250.25" r="1.9" fill="#f8c9a9"/><circle cx="88.48" cy="250.74" r="1.9" fill="#f8c9a9"/><circle cx="83.92" cy="250.74" r="1.9" fill="#f8c9a9"/><circle cx="79.39" cy="250.25" r="1.9" fill="#f8c9a9"/><circle cx="74.94" cy="249.27" r="1.9" fill="#f8c9a9"/><circle cx="70.62" cy="247.81" r="1.9" fill="#f8c9a9"/><circle cx="66.48" cy="245.9" r="1.9" fill="#f8c9a9"/><circle cx="62.57" cy="243.55" r="1.9" fill="#f8c9a9"/><circle cx="58.95" cy="240.79" r="1.9" fill="#f8c9a9"/><circle cx="55.64" cy="237.65" r="1.9" fill="#f8c9a9"/><circle cx="52.68" cy="234.18" r="1.9" fill="#f8c9a9"/><circle cx="50.13" cy="230.4" r="1.9" fill="#f8c9a9"/><circle cx="47.99" cy="226.38" r="1.9" fill="#f8c9a9"/><circle cx="46.3" cy="222.14" r="1.9" fill="#f8c9a9"/><circle cx="45.08" cy="217.75" r="1.9" fill="#f8c9a9"/><circle cx="44.35" cy="213.25" r="1.9" fill="#f8c9a9"/><circle cx="44.1" cy="208.7" r="1.9" fill="#f8c9a9"/><circle cx="44.35" cy="204.15" r="1.9" fill="#f8c9a9"/><circle cx="45.08" cy="199.65" r="1.9" fill="#f8c9a9"/><circle cx="46.3" cy="195.26" r="1.9" fill="#f8c9a9"/><circle cx="47.99" cy="191.02" r="1.9" fill="#f8c9a9"/><circle cx="50.13" cy="187" r="1.9" fill="#f8c9a9"/><circle cx="52.68" cy="183.22" r="1.9" fill="#f8c9a9"/><circle cx="55.64" cy="179.75" r="1.9" fill="#f8c9a9"/><circle cx="58.95" cy="176.61" r="1.9" fill="#f8c9a9"/><circle cx="62.57" cy="173.85" r="1.9" fill="#f8c9a9"/><circle cx="66.48" cy="171.5" r="1.9" fill="#f8c9a9"/><circle cx="70.62" cy="169.59" r="1.9" fill="#f8c9a9"/><circle cx="74.94" cy="168.13" r="1.9" fill="#f8c9a9"/><circle cx="79.39" cy="167.15" r="1.9" fill="#f8c9a9"/><circle cx="83.92" cy="166.66" r="1.9" fill="#f8c9a9"/><circle cx="88.48" cy="166.66" r="1.9" fill="#f8c9a9"/><circle cx="93.01" cy="167.15" r="1.9" fill="#f8c9a9"/><circle cx="97.46" cy="168.13" r="1.9" fill="#f8c9a9"/><circle cx="101.78" cy="169.59" r="1.9" fill="#f8c9a9"/><circle cx="105.92" cy="171.5" r="1.9" fill="#f8c9a9"/><circle cx="109.83" cy="173.85" r="1.9" fill="#f8c9a9"/><circle cx="113.45" cy="176.61" r="1.9" fill="#f8c9a9"/><circle cx="116.76" cy="179.75" r="1.9" fill="#f8c9a9"/><circle cx="119.72" cy="183.22" r="1.9" fill="#f8c9a9"/><circle cx="122.27" cy="187" r="1.9" fill="#f8c9a9"/><circle cx="124.41" cy="191.02" r="1.9" fill="#f8c9a9"/><circle cx="126.1" cy="195.26" r="1.9" fill="#f8c9a9"/><circle cx="127.32" cy="199.65" r="1.9" fill="#f8c9a9"/><circle cx="128.05" cy="204.15" r="1.9" fill="#f8c9a9"/>
<g stroke="#fcdfcb" stroke-width="1.2" stroke-linecap="round"><line x1="123.35" y1="210.71" x2="126.64" y2="210.89"/><line x1="122.91" y1="214.72" x2="126.17" y2="215.25"/><line x1="122.04" y1="218.65" x2="125.22" y2="219.53"/><line x1="120.76" y1="222.47" x2="123.82" y2="223.69"/><line x1="119.07" y1="226.12" x2="121.98" y2="227.67"/><line x1="116.99" y1="229.58" x2="119.72" y2="231.43"/><line x1="114.55" y1="232.78" x2="117.07" y2="234.92"/><line x1="111.78" y1="235.71" x2="114.05" y2="238.1"/><line x1="108.71" y1="238.31" x2="110.71" y2="240.94"/><line x1="105.38" y1="240.58" x2="107.08" y2="243.4"/><line x1="101.82" y1="242.46" x2="103.21" y2="245.46"/><line x1="98.08" y1="243.95" x2="99.13" y2="247.08"/><line x1="94.2" y1="245.03" x2="94.91" y2="248.25"/><line x1="90.22" y1="245.68" x2="90.58" y2="248.96"/><line x1="86.2" y1="245.9" x2="86.2" y2="249.2"/><line x1="82.18" y1="245.68" x2="81.82" y2="248.96"/><line x1="78.2" y1="245.03" x2="77.49" y2="248.25"/><line x1="74.32" y1="243.95" x2="73.27" y2="247.08"/><line x1="70.58" y1="242.46" x2="69.19" y2="245.46"/><line x1="67.02" y1="240.58" x2="65.32" y2="243.4"/><line x1="63.69" y1="238.31" x2="61.69" y2="240.94"/><line x1="60.62" y1="235.71" x2="58.35" y2="238.1"/><line x1="57.85" y1="232.78" x2="55.33" y2="234.92"/><line x1="55.41" y1="229.58" x2="52.68" y2="231.43"/><line x1="53.33" y1="226.12" x2="50.42" y2="227.67"/><line x1="51.64" y1="222.47" x2="48.58" y2="223.69"/><line x1="50.36" y1="218.65" x2="47.18" y2="219.53"/><line x1="49.49" y1="214.72" x2="46.23" y2="215.25"/><line x1="49.05" y1="210.71" x2="45.76" y2="210.89"/><line x1="49.05" y1="206.69" x2="45.76" y2="206.51"/><line x1="49.49" y1="202.68" x2="46.23" y2="202.15"/><line x1="50.36" y1="198.75" x2="47.18" y2="197.87"/><line x1="51.64" y1="194.93" x2="48.58" y2="193.71"/><line x1="53.33" y1="191.28" x2="50.42" y2="189.73"/><line x1="55.41" y1="187.82" x2="52.68" y2="185.97"/><line x1="57.85" y1="184.62" x2="55.33" y2="182.48"/><line x1="60.62" y1="181.69" x2="58.35" y2="179.3"/><line x1="63.69" y1="179.09" x2="61.69" y2="176.46"/><line x1="67.02" y1="176.82" x2="65.32" y2="174"/><line x1="70.58" y1="174.94" x2="69.19" y2="171.94"/><line x1="74.32" y1="173.45" x2="73.27" y2="170.32"/><line x1="78.2" y1="172.37" x2="77.49" y2="169.15"/><line x1="82.18" y1="171.72" x2="81.82" y2="168.44"/><line x1="86.2" y1="171.5" x2="86.2" y2="168.2"/><line x1="90.22" y1="171.72" x2="90.58" y2="168.44"/><line x1="94.2" y1="172.37" x2="94.91" y2="169.15"/><line x1="98.08" y1="173.45" x2="99.13" y2="170.32"/><line x1="101.82" y1="174.94" x2="103.21" y2="171.94"/><line x1="105.38" y1="176.82" x2="107.08" y2="174"/><line x1="108.71" y1="179.09" x2="110.71" y2="176.46"/><line x1="111.78" y1="181.69" x2="114.05" y2="179.3"/><line x1="114.55" y1="184.62" x2="117.07" y2="182.48"/><line x1="116.99" y1="187.82" x2="119.72" y2="185.97"/><line x1="119.07" y1="191.28" x2="121.98" y2="189.73"/><line x1="120.76" y1="194.93" x2="123.82" y2="193.71"/><line x1="122.04" y1="198.75" x2="125.22" y2="197.87"/><line x1="122.91" y1="202.68" x2="126.17" y2="202.15"/><line x1="123.35" y1="206.69" x2="126.64" y2="206.51"/></g>
<g stroke="#fcdfcb" stroke-width="1.2" stroke-linecap="round"><line x1="117.74" y1="210.68" x2="121.03" y2="210.89"/><line x1="117.24" y1="214.62" x2="120.48" y2="215.24"/><line x1="116.25" y1="218.46" x2="119.39" y2="219.48"/><line x1="114.79" y1="222.15" x2="117.78" y2="223.56"/><line x1="112.88" y1="225.63" x2="115.67" y2="227.4"/><line x1="110.55" y1="228.84" x2="113.09" y2="230.95"/><line x1="107.83" y1="231.74" x2="110.09" y2="234.14"/><line x1="104.77" y1="234.26" x2="106.71" y2="236.93"/><line x1="101.42" y1="236.39" x2="103.01" y2="239.28"/><line x1="97.83" y1="238.08" x2="99.05" y2="241.15"/><line x1="94.06" y1="239.31" x2="94.88" y2="242.5"/><line x1="90.16" y1="240.05" x2="90.57" y2="243.32"/><line x1="86.2" y1="240.3" x2="86.2" y2="243.6"/><line x1="82.24" y1="240.05" x2="81.83" y2="243.32"/><line x1="78.34" y1="239.31" x2="77.52" y2="242.5"/><line x1="74.57" y1="238.08" x2="73.35" y2="241.15"/><line x1="70.98" y1="236.39" x2="69.39" y2="239.28"/><line x1="67.63" y1="234.26" x2="65.69" y2="236.93"/><line x1="64.57" y1="231.74" x2="62.31" y2="234.14"/><line x1="61.85" y1="228.84" x2="59.31" y2="230.95"/><line x1="59.52" y1="225.63" x2="56.73" y2="227.4"/><line x1="57.61" y1="222.15" x2="54.62" y2="223.56"/><line x1="56.15" y1="218.46" x2="53.01" y2="219.48"/><line x1="55.16" y1="214.62" x2="51.92" y2="215.24"/><line x1="54.66" y1="210.68" x2="51.37" y2="210.89"/><line x1="54.66" y1="206.72" x2="51.37" y2="206.51"/><line x1="55.16" y1="202.78" x2="51.92" y2="202.16"/><line x1="56.15" y1="198.94" x2="53.01" y2="197.92"/><line x1="57.61" y1="195.25" x2="54.62" y2="193.84"/><line x1="59.52" y1="191.77" x2="56.73" y2="190"/><line x1="61.85" y1="188.56" x2="59.31" y2="186.45"/><line x1="64.57" y1="185.66" x2="62.31" y2="183.26"/><line x1="67.63" y1="183.14" x2="65.69" y2="180.47"/><line x1="70.98" y1="181.01" x2="69.39" y2="178.12"/><line x1="74.57" y1="179.32" x2="73.35" y2="176.25"/><line x1="78.34" y1="178.09" x2="77.52" y2="174.9"/><line x1="82.24" y1="177.35" x2="81.83" y2="174.08"/><line x1="86.2" y1="177.1" x2="86.2" y2="173.8"/><line x1="90.16" y1="177.35" x2="90.57" y2="174.08"/><line x1="94.06" y1="178.09" x2="94.88" y2="174.9"/><line x1="97.83" y1="179.32" x2="99.05" y2="176.25"/><line x1="101.42" y1="181.01" x2="103.01" y2="178.12"/><line x1="104.77" y1="183.14" x2="106.71" y2="180.47"/><line x1="107.83" y1="185.66" x2="110.09" y2="183.26"/><line x1="110.55" y1="188.56" x2="113.09" y2="186.45"/><line x1="112.88" y1="191.77" x2="115.67" y2="190"/><line x1="114.79" y1="195.25" x2="117.78" y2="193.84"/><line x1="116.25" y1="198.94" x2="119.39" y2="197.92"/><line x1="117.24" y1="202.78" x2="120.48" y2="202.16"/><line x1="117.74" y1="206.72" x2="121.03" y2="206.51"/></g>
<g fill="#fee6d4" transform="rotate(45 86.2 208.7)"><circle cx="58.2" cy="201.7" r="1.3"/><circle cx="58.2" cy="205.2" r="1.3"/><circle cx="58.2" cy="208.7" r="1.3"/><circle cx="58.2" cy="212.2" r="1.3"/><circle cx="58.2" cy="215.7" r="1.3"/><circle cx="61.7" cy="194.7" r="1.3"/><circle cx="61.7" cy="198.2" r="1.3"/><circle cx="61.7" cy="201.7" r="1.3"/><circle cx="61.7" cy="205.2" r="1.3"/><circle cx="61.7" cy="208.7" r="1.3"/><circle cx="61.7" cy="212.2" r="1.3"/><circle cx="61.7" cy="215.7" r="1.3"/><circle cx="61.7" cy="219.2" r="1.3"/><circle cx="61.7" cy="222.7" r="1.3"/><circle cx="65.2" cy="191.2" r="1.3"/><circle cx="65.2" cy="194.7" r="1.3"/><circle cx="65.2" cy="198.2" r="1.3"/><circle cx="65.2" cy="201.7" r="1.3"/><circle cx="65.2" cy="205.2" r="1.3"/><circle cx="65.2" cy="208.7" r="1.3"/><circle cx="65.2" cy="212.2" r="1.3"/><circle cx="65.2" cy="215.7" r="1.3"/><circle cx="65.2" cy="219.2" r="1.3"/><circle cx="65.2" cy="222.7" r="1.3"/><circle cx="65.2" cy="226.2" r="1.3"/><circle cx="68.7" cy="187.7" r="1.3"/><circle cx="68.7" cy="191.2" r="1.3"/><circle cx="68.7" cy="194.7" r="1.3"/><circle cx="68.7" cy="198.2" r="1.3"/><circle cx="68.7" cy="201.7" r="1.3"/><circle cx="68.7" cy="205.2" r="1.3"/><circle cx="68.7" cy="208.7" r="1.3"/><circle cx="68.7" cy="212.2" r="1.3"/><circle cx="68.7" cy="215.7" r="1.3"/><circle cx="68.7" cy="219.2" r="1.3"/><circle cx="68.7" cy="222.7" r="1.3"/><circle cx="68.7" cy="226.2" r="1.3"/><circle cx="68.7" cy="229.7" r="1.3"/><circle cx="72.2" cy="184.2" r="1.3"/><circle cx="72.2" cy="187.7" r="1.3"/><circle cx="72.2" cy="191.2" r="1.3"/><circle cx="72.2" cy="194.7" r="1.3"/><circle cx="72.2" cy="198.2" r="1.3"/><circle cx="72.2" cy="201.7" r="1.3"/><circle cx="72.2" cy="205.2" r="1.3"/><circle cx="72.2" cy="208.7" r="1.3"/><circle cx="72.2" cy="212.2" r="1.3"/><circle cx="72.2" cy="215.7" r="1.3"/><circle cx="72.2" cy="219.2" r="1.3"/><circle cx="72.2" cy="222.7" r="1.3"/><circle cx="72.2" cy="226.2" r="1.3"/><circle cx="72.2" cy="229.7" r="1.3"/><circle cx="72.2" cy="233.2" r="1.3"/><circle cx="75.7" cy="184.2" r="1.3"/><circle cx="75.7" cy="187.7" r="1.3"/><circle cx="75.7" cy="191.2" r="1.3"/><circle cx="75.7" cy="194.7" r="1.3"/><circle cx="75.7" cy="198.2" r="1.3"/><circle cx="75.7" cy="201.7" r="1.3"/><circle cx="75.7" cy="205.2" r="1.3"/><circle cx="75.7" cy="208.7" r="1.3"/><circle cx="75.7" cy="212.2" r="1.3"/><circle cx="75.7" cy="215.7" r="1.3"/><circle cx="75.7" cy="219.2" r="1.3"/><circle cx="75.7" cy="222.7" r="1.3"/><circle cx="75.7" cy="226.2" r="1.3"/><circle cx="75.7" cy="229.7" r="1.3"/><circle cx="75.7" cy="233.2" r="1.3"/><circle cx="79.2" cy="180.7" r="1.3"/><circle cx="79.2" cy="184.2" r="1.3"/><circle cx="79.2" cy="187.7" r="1.3"/><circle cx="79.2" cy="191.2" r="1.3"/><circle cx="79.2" cy="194.7" r="1.3"/><circle cx="79.2" cy="198.2" r="1.3"/><circle cx="79.2" cy="201.7" r="1.3"/><circle cx="79.2" cy="205.2" r="1.3"/><circle cx="79.2" cy="208.7" r="1.3"/><circle cx="79.2" cy="212.2" r="1.3"/><circle cx="79.2" cy="215.7" r="1.3"/><circle cx="79.2" cy="219.2" r="1.3"/><circle cx="79.2" cy="222.7" r="1.3"/><circle cx="79.2" cy="226.2" r="1.3"/><circle cx="79.2" cy="229.7" r="1.3"/><circle cx="79.2" cy="233.2" r="1.3"/><circle cx="79.2" cy="236.7" r="1.3"/><circle cx="82.7" cy="180.7" r="1.3"/><circle cx="82.7" cy="184.2" r="1.3"/><circle cx="82.7" cy="187.7" r="1.3"/><circle cx="82.7" cy="191.2" r="1.3"/><circle cx="82.7" cy="194.7" r="1.3"/><circle cx="82.7" cy="198.2" r="1.3"/><circle cx="82.7" cy="201.7" r="1.3"/><circle cx="82.7" cy="205.2" r="1.3"/><circle cx="82.7" cy="208.7" r="1.3"/><circle cx="82.7" cy="212.2" r="1.3"/><circle cx="82.7" cy="215.7" r="1.3"/><circle cx="82.7" cy="219.2" r="1.3"/><circle cx="82.7" cy="222.7" r="1.3"/><circle cx="82.7" cy="226.2" r="1.3"/><circle cx="82.7" cy="229.7" r="1.3"/><circle cx="82.7" cy="233.2" r="1.3"/><circle cx="82.7" cy="236.7" r="1.3"/><circle cx="86.2" cy="180.7" r="1.3"/><circle cx="86.2" cy="184.2" r="1.3"/><circle cx="86.2" cy="187.7" r="1.3"/><circle cx="86.2" cy="191.2" r="1.3"/><circle cx="86.2" cy="194.7" r="1.3"/><circle cx="86.2" cy="198.2" r="1.3"/><circle cx="86.2" cy="201.7" r="1.3"/><circle cx="86.2" cy="205.2" r="1.3"/><circle cx="86.2" cy="208.7" r="1.3"/><circle cx="86.2" cy="212.2" r="1.3"/><circle cx="86.2" cy="215.7" r="1.3"/><circle cx="86.2" cy="219.2" r="1.3"/><circle cx="86.2" cy="222.7" r="1.3"/><circle cx="86.2" cy="226.2" r="1.3"/><circle cx="86.2" cy="229.7" r="1.3"/><circle cx="86.2" cy="233.2" r="1.3"/><circle cx="86.2" cy="236.7" r="1.3"/><circle cx="89.7" cy="180.7" r="1.3"/><circle cx="89.7" cy="184.2" r="1.3"/><circle cx="89.7" cy="187.7" r="1.3"/><circle cx="89.7" cy="191.2" r="1.3"/><circle cx="89.7" cy="194.7" r="1.3"/><circle cx="89.7" cy="198.2" r="1.3"/><circle cx="89.7" cy="201.7" r="1.3"/><circle cx="89.7" cy="205.2" r="1.3"/><circle cx="89.7" cy="208.7" r="1.3"/><circle cx="89.7" cy="212.2" r="1.3"/><circle cx="89.7" cy="215.7" r="1.3"/><circle cx="89.7" cy="219.2" r="1.3"/><circle cx="89.7" cy="222.7" r="1.3"/><circle cx="89.7" cy="226.2" r="1.3"/><circle cx="89.7" cy="229.7" r="1.3"/><circle cx="89.7" cy="233.2" r="1.3"/><circle cx="89.7" cy="236.7" r="1.3"/><circle cx="93.2" cy="180.7" r="1.3"/><circle cx="93.2" cy="184.2" r="1.3"/><circle cx="93.2" cy="187.7" r="1.3"/><circle cx="93.2" cy="191.2" r="1.3"/><circle cx="93.2" cy="194.7" r="1.3"/><circle cx="93.2" cy="198.2" r="1.3"/><circle cx="93.2" cy="201.7" r="1.3"/><circle cx="93.2" cy="205.2" r="1.3"/><circle cx="93.2" cy="208.7" r="1.3"/><circle cx="93.2" cy="212.2" r="1.3"/><circle cx="93.2" cy="215.7" r="1.3"/><circle cx="93.2" cy="219.2" r="1.3"/><circle cx="93.2" cy="222.7" r="1.3"/><circle cx="93.2" cy="226.2" r="1.3"/><circle cx="93.2" cy="229.7" r="1.3"/><circle cx="93.2" cy="233.2" r="1.3"/><circle cx="93.2" cy="236.7" r="1.3"/><circle cx="96.7" cy="184.2" r="1.3"/><circle cx="96.7" cy="187.7" r="1.3"/><circle cx="96.7" cy="191.2" r="1.3"/><circle cx="96.7" cy="194.7" r="1.3"/><circle cx="96.7" cy="198.2" r="1.3"/><circle cx="96.7" cy="201.7" r="1.3"/><circle cx="96.7" cy="205.2" r="1.3"/><circle cx="96.7" cy="208.7" r="1.3"/><circle cx="96.7" cy="212.2" r="1.3"/><circle cx="96.7" cy="215.7" r="1.3"/><circle cx="96.7" cy="219.2" r="1.3"/><circle cx="96.7" cy="222.7" r="1.3"/><circle cx="96.7" cy="226.2" r="1.3"/><circle cx="96.7" cy="229.7" r="1.3"/><circle cx="96.7" cy="233.2" r="1.3"/><circle cx="100.2" cy="184.2" r="1.3"/><circle cx="100.2" cy="187.7" r="1.3"/><circle cx="100.2" cy="191.2" r="1.3"/><circle cx="100.2" cy="194.7" r="1.3"/><circle cx="100.2" cy="198.2" r="1.3"/><circle cx="100.2" cy="201.7" r="1.3"/><circle cx="100.2" cy="205.2" r="1.3"/><circle cx="100.2" cy="208.7" r="1.3"/><circle cx="100.2" cy="212.2" r="1.3"/><circle cx="100.2" cy="215.7" r="1.3"/><circle cx="100.2" cy="219.2" r="1.3"/><circle cx="100.2" cy="222.7" r="1.3"/><circle cx="100.2" cy="226.2" r="1.3"/><circle cx="100.2" cy="229.7" r="1.3"/><circle cx="100.2" cy="233.2" r="1.3"/><circle cx="103.7" cy="187.7" r="1.3"/><circle cx="103.7" cy="191.2" r="1.3"/><circle cx="103.7" cy="194.7" r="1.3"/><circle cx="103.7" cy="198.2" r="1.3"/><circle cx="103.7" cy="201.7" r="1.3"/><circle cx="103.7" cy="205.2" r="1.3"/><circle cx="103.7" cy="208.7" r="1.3"/><circle cx="103.7" cy="212.2" r="1.3"/><circle cx="103.7" cy="215.7" r="1.3"/><circle cx="103.7" cy="219.2" r="1.3"/><circle cx="103.7" cy="222.7" r="1.3"/><circle cx="103.7" cy="226.2" r="1.3"/><circle cx="103.7" cy="229.7" r="1.3"/><circle cx="107.2" cy="191.2" r="1.3"/><circle cx="107.2" cy="194.7" r="1.3"/><circle cx="107.2" cy="198.2" r="1.3"/><circle cx="107.2" cy="201.7" r="1.3"/><circle cx="107.2" cy="205.2" r="1.3"/><circle cx="107.2" cy="208.7" r="1.3"/><circle cx="107.2" cy="212.2" r="1.3"/><circle cx="107.2" cy="215.7" r="1.3"/><circle cx="107.2" cy="219.2" r="1.3"/><circle cx="107.2" cy="222.7" r="1.3"/><circle cx="107.2" cy="226.2" r="1.3"/><circle cx="110.7" cy="194.7" r="1.3"/><circle cx="110.7" cy="198.2" r="1.3"/><circle cx="110.7" cy="201.7" r="1.3"/><circle cx="110.7" cy="205.2" r="1.3"/><circle cx="110.7" cy="208.7" r="1.3"/><circle cx="110.7" cy="212.2" r="1.3"/><circle cx="110.7" cy="215.7" r="1.3"/><circle cx="110.7" cy="219.2" r="1.3"/><circle cx="110.7" cy="222.7" r="1.3"/><circle cx="114.2" cy="201.7" r="1.3"/><circle cx="114.2" cy="205.2" r="1.3"/><circle cx="114.2" cy="208.7" r="1.3"/><circle cx="114.2" cy="212.2" r="1.3"/><circle cx="114.2" cy="215.7" r="1.3"/></g>
<circle cx="115.1" cy="207.6" r="7.8" fill="none" stroke="#111" stroke-width="1.4" stroke-dasharray="3.2 2"/>
<path d="M123.4,206.8 L146,205.3" stroke="#111" stroke-width="1.5" fill="none"/>
<path d="M153.8,204.8 L144.4,200.7 L145.2,209.7Z" fill="#111"/>
<text x="59.6" y="264.5" font-size="11" fill="#111" textLength="52.2" lengthAdjust="spacingAndGlyphs" >Cubosome</text>
<g stroke="#8a6a48" stroke-width="0.7" stroke-linejoin="round" fill="#f8dbbd"><path d="M158.3,173.6 V188 H172.3 V173.6Z"/><ellipse cx="165.3" cy="173.6" rx="7" ry="3.3"/><ellipse cx="165.3" cy="173.9" rx="4.8" ry="2" fill="#f3c791"/><path d="M188.7,173.6 V188 H202.7 V173.6Z"/><ellipse cx="195.7" cy="173.6" rx="7" ry="3.3"/><ellipse cx="195.7" cy="173.9" rx="4.8" ry="2" fill="#f3c791"/><path d="M149,183.7 H162 V197.7 H149Z"/><ellipse cx="149" cy="190.7" rx="3.1" ry="7"/><ellipse cx="149.2" cy="190.7" rx="1.9" ry="4.8" fill="#f3c791"/><path d="M149,214.6 H162 V228.6 H149Z"/><ellipse cx="149" cy="221.6" rx="3.1" ry="7"/><ellipse cx="149.2" cy="221.6" rx="1.9" ry="4.8" fill="#f3c791"/><path d="M181.9,190.5 L181.84,191.84 L181.65,193.17 L181.31,194.47 L180.75,195.69 L179.81,196.71 L178.38,197.36 L176.58,197.56 L174.88,197.53 L173.83,197.83 L173.53,198.88 L173.56,200.58 L173.36,202.38 L172.71,203.81 L171.69,204.75 L170.47,205.31 L169.17,205.65 L167.84,205.84 L166.5,205.9 L165.16,205.84 L163.83,205.65 L162.53,205.31 L161.31,204.75 L160.29,203.81 L159.64,202.38 L159.44,200.58 L159.47,198.88 L159.17,197.83 L158.12,197.53 L156.42,197.56 L154.62,197.36 L153.19,196.71 L152.25,195.69 L151.69,194.47 L151.35,193.17 L151.16,191.84 L151.1,190.5 L151.16,189.16 L151.35,187.83 L151.69,186.53 L152.25,185.31 L153.19,184.29 L154.62,183.64 L156.42,183.44 L158.12,183.47 L159.17,183.17 L159.47,182.12 L159.44,180.42 L159.64,178.62 L160.29,177.19 L161.31,176.25 L162.53,175.69 L163.83,175.35 L165.16,175.16 L166.5,175.1 L167.84,175.16 L169.17,175.35 L170.47,175.69 L171.69,176.25 L172.71,177.19 L173.36,178.62 L173.56,180.42 L173.53,182.12 L173.83,183.17 L174.88,183.47 L176.58,183.44 L178.38,183.64 L179.81,184.29 L180.75,185.31 L181.31,186.53 L181.65,187.83 L181.84,189.16Z"/><path d="M212.9,190.5 L212.84,191.84 L212.65,193.17 L212.31,194.47 L211.75,195.69 L210.81,196.71 L209.38,197.36 L207.58,197.56 L205.88,197.53 L204.83,197.83 L204.53,198.88 L204.56,200.58 L204.36,202.38 L203.71,203.81 L202.69,204.75 L201.47,205.31 L200.17,205.65 L198.84,205.84 L197.5,205.9 L196.16,205.84 L194.83,205.65 L193.53,205.31 L192.31,204.75 L191.29,203.81 L190.64,202.38 L190.44,200.58 L190.47,198.88 L190.17,197.83 L189.12,197.53 L187.42,197.56 L185.62,197.36 L184.19,196.71 L183.25,195.69 L182.69,194.47 L182.35,193.17 L182.16,191.84 L182.1,190.5 L182.16,189.16 L182.35,187.83 L182.69,186.53 L183.25,185.31 L184.19,184.29 L185.62,183.64 L187.42,183.44 L189.12,183.47 L190.17,183.17 L190.47,182.12 L190.44,180.42 L190.64,178.62 L191.29,177.19 L192.31,176.25 L193.53,175.69 L194.83,175.35 L196.16,175.16 L197.5,175.1 L198.84,175.16 L200.17,175.35 L201.47,175.69 L202.69,176.25 L203.71,177.19 L204.36,178.62 L204.56,180.42 L204.53,182.12 L204.83,183.17 L205.88,183.47 L207.58,183.44 L209.38,183.64 L210.81,184.29 L211.75,185.31 L212.31,186.53 L212.65,187.83 L212.84,189.16Z"/><path d="M181.9,223 L181.84,224.34 L181.65,225.67 L181.31,226.97 L180.75,228.19 L179.81,229.21 L178.38,229.86 L176.58,230.06 L174.88,230.03 L173.83,230.33 L173.53,231.38 L173.56,233.08 L173.36,234.88 L172.71,236.31 L171.69,237.25 L170.47,237.81 L169.17,238.15 L167.84,238.34 L166.5,238.4 L165.16,238.34 L163.83,238.15 L162.53,237.81 L161.31,237.25 L160.29,236.31 L159.64,234.88 L159.44,233.08 L159.47,231.38 L159.17,230.33 L158.12,230.03 L156.42,230.06 L154.62,229.86 L153.19,229.21 L152.25,228.19 L151.69,226.97 L151.35,225.67 L151.16,224.34 L151.1,223 L151.16,221.66 L151.35,220.33 L151.69,219.03 L152.25,217.81 L153.19,216.79 L154.62,216.14 L156.42,215.94 L158.12,215.97 L159.17,215.67 L159.47,214.62 L159.44,212.92 L159.64,211.12 L160.29,209.69 L161.31,208.75 L162.53,208.19 L163.83,207.85 L165.16,207.66 L166.5,207.6 L167.84,207.66 L169.17,207.85 L170.47,208.19 L171.69,208.75 L172.71,209.69 L173.36,211.12 L173.56,212.92 L173.53,214.62 L173.83,215.67 L174.88,215.97 L176.58,215.94 L178.38,216.14 L179.81,216.79 L180.75,217.81 L181.31,219.03 L181.65,220.33 L181.84,221.66Z"/><circle cx="191.2" cy="215.4" r="11"/><path d="M224.1,231.9 L224.03,233.43 L223.82,234.95 L223.42,236.43 L222.76,237.82 L221.64,238.96 L219.92,239.65 L217.75,239.78 L215.71,239.63 L214.49,239.89 L214.23,241.11 L214.38,243.15 L214.25,245.32 L213.56,247.04 L212.42,248.16 L211.03,248.82 L209.55,249.22 L208.03,249.43 L206.5,249.5 L204.97,249.43 L203.45,249.22 L201.97,248.82 L200.58,248.16 L199.44,247.04 L198.75,245.32 L198.62,243.15 L198.77,241.11 L198.51,239.89 L197.29,239.63 L195.25,239.78 L193.08,239.65 L191.36,238.96 L190.24,237.82 L189.58,236.43 L189.18,234.95 L188.97,233.43 L188.9,231.9 L188.97,230.37 L189.18,228.85 L189.58,227.37 L190.24,225.98 L191.36,224.84 L193.08,224.15 L195.25,224.02 L197.29,224.17 L198.51,223.91 L198.77,222.69 L198.62,220.65 L198.75,218.48 L199.44,216.76 L200.58,215.64 L201.97,214.98 L203.45,214.58 L204.97,214.37 L206.5,214.3 L208.03,214.37 L209.55,214.58 L211.03,214.98 L212.42,215.64 L213.56,216.76 L214.25,218.48 L214.38,220.65 L214.23,222.69 L214.49,223.91 L215.71,224.17 L217.75,224.02 L219.92,224.15 L221.64,224.84 L222.76,225.98 L223.42,227.37 L223.82,228.85 L224.03,230.37Z"/><path d="M224.1,199.2 L224.03,200.73 L223.82,202.25 L223.42,203.73 L222.76,205.12 L221.64,206.26 L219.92,206.95 L217.75,207.08 L215.71,206.93 L214.49,207.19 L214.23,208.41 L214.38,210.45 L214.25,212.62 L213.56,214.34 L212.42,215.46 L211.03,216.12 L209.55,216.52 L208.03,216.73 L206.5,216.8 L204.97,216.73 L203.45,216.52 L201.97,216.12 L200.58,215.46 L199.44,214.34 L198.75,212.62 L198.62,210.45 L198.77,208.41 L198.51,207.19 L197.29,206.93 L195.25,207.08 L193.08,206.95 L191.36,206.26 L190.24,205.12 L189.58,203.73 L189.18,202.25 L188.97,200.73 L188.9,199.2 L188.97,197.67 L189.18,196.15 L189.58,194.67 L190.24,193.28 L191.36,192.14 L193.08,191.45 L195.25,191.32 L197.29,191.47 L198.51,191.21 L198.77,189.99 L198.62,187.95 L198.75,185.78 L199.44,184.06 L200.58,182.94 L201.97,182.28 L203.45,181.88 L204.97,181.67 L206.5,181.6 L208.03,181.67 L209.55,181.88 L211.03,182.28 L212.42,182.94 L213.56,184.06 L214.25,185.78 L214.38,187.95 L214.23,189.99 L214.49,191.21 L215.71,191.47 L217.75,191.32 L219.92,191.45 L221.64,192.14 L222.76,193.28 L223.42,194.67 L223.82,196.15 L224.03,197.67Z"/><path d="M193,231.9 L192.93,233.43 L192.72,234.95 L192.32,236.43 L191.66,237.82 L190.54,238.96 L188.82,239.65 L186.65,239.78 L184.61,239.63 L183.39,239.89 L183.13,241.11 L183.28,243.15 L183.15,245.32 L182.46,247.04 L181.32,248.16 L179.93,248.82 L178.45,249.22 L176.93,249.43 L175.4,249.5 L173.87,249.43 L172.35,249.22 L170.87,248.82 L169.48,248.16 L168.34,247.04 L167.65,245.32 L167.52,243.15 L167.67,241.11 L167.41,239.89 L166.19,239.63 L164.15,239.78 L161.98,239.65 L160.26,238.96 L159.14,237.82 L158.48,236.43 L158.08,234.95 L157.87,233.43 L157.8,231.9 L157.87,230.37 L158.08,228.85 L158.48,227.37 L159.14,225.98 L160.26,224.84 L161.98,224.15 L164.15,224.02 L166.19,224.17 L167.41,223.91 L167.67,222.69 L167.52,220.65 L167.65,218.48 L168.34,216.76 L169.48,215.64 L170.87,214.98 L172.35,214.58 L173.87,214.37 L175.4,214.3 L176.93,214.37 L178.45,214.58 L179.93,214.98 L181.32,215.64 L182.46,216.76 L183.15,218.48 L183.28,220.65 L183.13,222.69 L183.39,223.91 L184.61,224.17 L186.65,224.02 L188.82,224.15 L190.54,224.84 L191.66,225.98 L192.32,227.37 L192.72,228.85 L192.93,230.37Z"/><path d="M193,199.2 L192.93,200.73 L192.72,202.25 L192.32,203.73 L191.66,205.12 L190.54,206.26 L188.82,206.95 L186.65,207.08 L184.61,206.93 L183.39,207.19 L183.13,208.41 L183.28,210.45 L183.15,212.62 L182.46,214.34 L181.32,215.46 L179.93,216.12 L178.45,216.52 L176.93,216.73 L175.4,216.8 L173.87,216.73 L172.35,216.52 L170.87,216.12 L169.48,215.46 L168.34,214.34 L167.65,212.62 L167.52,210.45 L167.67,208.41 L167.41,207.19 L166.19,206.93 L164.15,207.08 L161.98,206.95 L160.26,206.26 L159.14,205.12 L158.48,203.73 L158.08,202.25 L157.87,200.73 L157.8,199.2 L157.87,197.67 L158.08,196.15 L158.48,194.67 L159.14,193.28 L160.26,192.14 L161.98,191.45 L164.15,191.32 L166.19,191.47 L167.41,191.21 L167.67,189.99 L167.52,187.95 L167.65,185.78 L168.34,184.06 L169.48,182.94 L170.87,182.28 L172.35,181.88 L173.87,181.67 L175.4,181.6 L176.93,181.67 L178.45,181.88 L179.93,182.28 L181.32,182.94 L182.46,184.06 L183.15,185.78 L183.28,187.95 L183.13,189.99 L183.39,191.21 L184.61,191.47 L186.65,191.32 L188.82,191.45 L190.54,192.14 L191.66,193.28 L192.32,194.67 L192.72,196.15 L192.93,197.67Z"/><path d="M187.5,204.8 C192.5,204 196.2,207.4 196.4,212 C196.4,215.6 194,218.4 190.8,219" fill="none"/><path d="M167.3,180.6 V189 H180.5 V180.6Z" stroke="none"/><path d="M167.3,180.6 V188 M180.5,180.6 V188" fill="none"/><ellipse cx="173.9" cy="180.6" rx="6.6" ry="3.1"/><ellipse cx="173.9" cy="180.9" rx="4.4" ry="1.9" fill="#f3c791"/><path d="M199.20000000000002,180.6 V189 H212.4 V180.6Z" stroke="none"/><path d="M199.20000000000002,180.6 V188 M212.4,180.6 V188" fill="none"/><ellipse cx="205.8" cy="180.6" rx="6.6" ry="3.1"/><ellipse cx="205.8" cy="180.9" rx="4.4" ry="1.9" fill="#f3c791"/><path d="M156.6,189.9 H164 V202.70000000000002 H156.6Z" stroke="none"/><path d="M156.6,189.9 H163 M156.6,202.70000000000002 H163" fill="none"/><ellipse cx="156.6" cy="196.3" rx="2.9" ry="6.4"/><ellipse cx="156.8" cy="196.3" rx="1.7" ry="4.3" fill="#f3c791"/><path d="M156.6,222.5 H164 V235.3 H156.6Z" stroke="none"/><path d="M156.6,222.5 H163 M156.6,235.3 H163" fill="none"/><ellipse cx="156.6" cy="228.9" rx="2.9" ry="6.4"/><ellipse cx="156.8" cy="228.9" rx="1.7" ry="4.3" fill="#f3c791"/><circle cx="175.8" cy="199.4" r="7.1"/><circle cx="175.8" cy="199.4" r="4.1" fill="#f3c791"/><circle cx="206.9" cy="199.4" r="7.1"/><circle cx="206.9" cy="199.4" r="4.1" fill="#f3c791"/><circle cx="175.8" cy="232" r="7.1"/><circle cx="175.8" cy="232" r="4.1" fill="#f3c791"/><circle cx="206.9" cy="232" r="7.1"/><circle cx="206.9" cy="232" r="4.1" fill="#f3c791"/></g>
<ellipse cx="185.6" cy="209.2" rx="4.7" ry="2.7" fill="#fffcf1" stroke="#8a6a48" stroke-width="0.6" transform="rotate(-44 185.6 209.2)"/>
<path d="M150.5,203.6 C156,202 162,204.6 164.4,209 C166,213 164,217.6 159.6,219.8 C156.6,221 153,221.4 150.8,221 C153.4,216 153.4,208.6 150.5,203.6Z" fill="#fffcf1"/>
<path d="M155.2,202.4 C163,203.3 167.4,208 166.2,213 C165.2,217.5 161,220 155.8,221.1" fill="none" stroke="#2a9bcb" stroke-width="2.1" stroke-linecap="round"/>
<path d="M155.2,202.4 C163,203.3 167.4,208 166.2,213 C165.2,217.5 161,220 155.8,221.1" fill="none" stroke="#7fd0ee" stroke-width="0.9" stroke-linecap="round" transform="translate(1.2 0.2)" opacity="0.7"/>
<path d="M166.4,214.7 C171,217.6 177,217.2 181.7,213.1" fill="none" stroke="#e0262a" stroke-width="2.1" stroke-linecap="round"/>
<text x="157.7" y="264.8" font-size="11" textLength="50.8" lengthAdjust="spacingAndGlyphs"><tspan fill="#2a9bcb">C</tspan><tspan fill="#2a9bcb" font-size="7" dy="2">1</tspan><tspan fill="#111" dy="-2"> * </tspan><tspan fill="#e0262a">C</tspan><tspan fill="#e0262a" font-size="7" dy="2">2</tspan><tspan fill="#111" dy="-2"> &lt; 0</tspan></text>
<text x="394" y="265" font-size="11" textLength="50.6" lengthAdjust="spacingAndGlyphs"><tspan fill="#2a9bcb">C</tspan><tspan fill="#2a9bcb" font-size="7" dy="2">1</tspan><tspan fill="#111" dy="-2"> * </tspan><tspan fill="#e0262a">C</tspan><tspan fill="#e0262a" font-size="7" dy="2">2</tspan><tspan fill="#111" dy="-2"> &lt; 0</tspan></text>
<text x="201" y="281.2" font-size="11" fill="#111" font-weight="bold" textLength="83.7" lengthAdjust="spacingAndGlyphs" >Similar structure</text>
<rect x="240.6" y="171.2" width="2.6" height="12.2" fill="#111"/>
<rect x="240.6" y="192.1" width="2.6" height="12.2" fill="#111"/>
<rect x="240.6" y="213" width="2.6" height="12.2" fill="#111"/>
<rect x="240.6" y="233.9" width="2.6" height="12.2" fill="#111"/>
<rect x="240.4" y="259.8" width="2.3" height="2.3" fill="#111"/>
<path d="M293.6,173.4 C303,173.4 309,177.5 315.6,179.6 C322,177.5 328,173.8 338.2,173.8 C357.5,173.8 372.6,189 372.6,207.8 C372.6,226.5 357.5,241.6 338.2,241.6 C328,241.6 322,238 315.8,236 C309,238 303,242 293.6,242 C274,242 258.2,226.8 258.2,207.8 C258.2,188.8 274,173.4 293.6,173.4Z" fill="url(#gPore)" stroke="url(#gPoreS)" stroke-width="2.4"/>
<path d="M316.4,221.5 V232" stroke="#2a9bcb" stroke-width="2" fill="none" stroke-linecap="round"/>
<path d="M306.2,238.4 C311,233.4 321,233.4 325.6,238.2" stroke="#e0262a" stroke-width="2" fill="none" stroke-linecap="round"/>
<circle cx="316" cy="235.8" r="6.7" fill="none" stroke="#111" stroke-width="1.4" stroke-dasharray="3 1.9"/>
<text x="286.6" y="265" font-size="11" fill="#111" textLength="57.3" lengthAdjust="spacingAndGlyphs" >Fusion pore</text>
<path d="M430,207.6 C440,205.6 448,199 455,192.4 C458.4,189.2 463,189.2 466.4,192.6 C469.6,196 470,201 467.6,205 C463.6,211.4 456.4,216.6 449.6,218 C444.6,218.8 440.6,216.8 437.6,214 C435,211.8 432.4,209.6 430,207.6Z" fill="url(#gSad2)"/>
<path d="M407,175.5 C411,176.6 415,182.4 417.8,187.6 C420,192.4 421,197.6 423.6,201.4 C426.4,205.4 430,207.8 434,209.8 C439.4,212.6 445.6,215.6 448.2,220 C450.4,224.6 448.6,230.6 444.8,235.4 C440,241.4 433,246 425.4,247.6 C418,249.2 410,246.8 403.6,242.4 C396,237.4 388.6,230.4 385,223 C382.4,217.8 382,211.4 383.2,205.4 C384.6,198.6 387.8,192.4 391.4,187 C395.4,181.4 401,175.2 407,175.5Z" fill="url(#gSad)"/>
<path d="M420.6,201.4 C423.4,205.8 430,208.4 438.4,207.2" stroke="#e0263a" stroke-width="2.1" fill="none" stroke-linecap="round"/>
<path d="M425.4,208.4 C421.6,212.6 419.6,217.6 418.8,222.8" stroke="#2aa5d6" stroke-width="1.9" fill="none" stroke-linecap="round"/>
<path d="M322.8,235.4 L385.5,214.4" stroke="#111" stroke-width="1.5" fill="none"/>
<path d="M393.4,211.8 L383.2,210.4 L386,219Z" fill="#111"/>
<text x="352" y="167.4" font-size="11" textLength="111.6" lengthAdjust="spacingAndGlyphs"><tspan fill="#2a9bcb">C</tspan><tspan fill="#2a9bcb" font-size="7" dy="2">1,</tspan><tspan fill="#e0262a" dy="-2"> C</tspan><tspan fill="#e0262a" font-size="7" dy="2">2</tspan><tspan fill="#111" dy="-2"> = curvature (1/R)</tspan></text>
<g clip-path="url(#cpL)">
<rect x="486" y="32" width="91" height="255" fill="url(#bgL)"/>
<ellipse cx="560" cy="128" rx="40" ry="22" fill="#c6c6c6" opacity="0.55" filter="url(#b4)"/>
<ellipse cx="495" cy="170" rx="22" ry="40" fill="#b9b9b9" opacity="0.45" filter="url(#b4)"/>
<g filter="url(#b1)">
<path d="M486,30 H578 V58 C572,66 560,70 550,74 C544,82 536,88 526,93 C514,97 500,96 486,92Z" fill="#5250b2"/>
<ellipse cx="508" cy="67" rx="31" ry="27" fill="url(#glove)"/>
<path d="M486,30 H578 V42 C556,47 530,44 512,40 C500,38 492,39 486,42Z" fill="#38368c"/>
<path d="M546,40 H578 V74 C566,78 554,74 546,64Z" fill="url(#gDarkR)"/>
<path d="M486,84 C498,94 516,94 532,84 C526,94 514,98 500,97 C494,96 490,95 486,93Z" fill="#36348a" opacity="0.8"/>
</g>
<g filter="url(#b05)">
<path d="M524,79 L552,83 L552,104 L520,104 L520,91Z" fill="#c489ba"/>
<path d="M527,86 L550,89 L550,97 L525,95Z" fill="#b06aa4" opacity="0.8"/>
<rect x="519.4" y="103.4" width="32.4" height="7.6" rx="1.6" fill="#d373b4"/>
<rect x="528.4" y="110.6" width="13.2" height="7.6" fill="#e2a4cb"/>
<path d="M522.4,117.6 H545.8 V121.5 H542 L540.4,140 L538.4,160 H530 L528,140 L526.2,121.5 H522.4Z" fill="url(#hub)"/>
<rect x="531.5" y="120" width="5" height="22" fill="#c7a8d0" opacity="0.7"/>
</g>
<path d="M529,150 H540 L538.5,160 L535.5,163 H533.5 L530.5,160Z" fill="#8cc6dd" filter="url(#b05)"/>
<rect x="534" y="161" width="1.1" height="27" fill="#1c1c1c"/>
<g filter="url(#b05)">
<rect x="520" y="184.5" width="28" height="12" rx="2.5" fill="#a6a8a8" opacity="0.75"/>
<rect x="520" y="184.5" width="28" height="12" rx="2.5" fill="none" stroke="#d4d7d7" stroke-width="1.2"/>
<path d="M522,188 H546 M522,191.5 H546" stroke="#c9cccc" stroke-width="0.8"/>
<path d="M521,196 C518,198 516.4,200 516.4,204 V290 H551.8 V204 C551.8,200 550,198 547,196Z" fill="url(#vialL)"/>
<rect x="516.4" y="245" width="35.4" height="45" fill="url(#liqL)"/>
<path d="M516.4,245 C526,241 542,241 551.8,245 V248 H516.4Z" fill="#b7bfbe"/>
<rect x="518" y="202" width="2.2" height="40" fill="#e2e5e5" opacity="0.8"/>
<rect x="548" y="202" width="2" height="40" fill="#d5d8d8" opacity="0.7"/>
</g>
</g>
<line x1="525.38" y1="102.08" x2="555.21" y2="99.32" stroke="#0c0c0c" stroke-width="1.5"/><line x1="521.45" y1="95.95" x2="536.42" y2="70" stroke="#0c0c0c" stroke-width="1.5"/><circle cx="525" cy="98" r="4.1" fill="rgba(255,255,255,0.12)" stroke="#0c0c0c" stroke-width="1.5"/><circle cx="553.4" cy="79.8" r="19.6" fill="#f251b4" stroke="#0c0c0c" stroke-width="1.6"/>
<circle cx="554.8" cy="71.2" r="4.8" fill="#f9a3ce"/><circle cx="554.8" cy="71.2" r="2.9" fill="#e3b472"/>
<circle cx="543" cy="79.9" r="4.8" fill="#f9a3ce"/><circle cx="543" cy="79.9" r="2.9" fill="#e3b472"/>
<circle cx="565" cy="84.2" r="4.8" fill="#f9a3ce"/><circle cx="565" cy="84.2" r="2.9" fill="#e3b472"/>
<circle cx="553" cy="89.8" r="4.8" fill="#f9a3ce"/><circle cx="553" cy="89.8" r="2.9" fill="#e3b472"/>
<line x1="522.99" y1="246.88" x2="556.16" y2="243.71" stroke="#0c0c0c" stroke-width="1.5"/><line x1="519.23" y1="240.47" x2="538.18" y2="213.06" stroke="#0c0c0c" stroke-width="1.5"/><circle cx="522.6" cy="242.8" r="4.1" fill="rgba(255,255,255,0.3)" stroke="#0c0c0c" stroke-width="1.5"/><circle cx="554.3" cy="224.2" r="19.6" fill="#e1e6ef" stroke="#0c0c0c" stroke-width="1.6"/>
<circle cx="551" cy="214.8" r="5" fill="#7fb1e6"/><circle cx="551" cy="214.8" r="2.6" fill="#a9cbef"/>
<circle cx="544.9" cy="229.2" r="5" fill="#7fb1e6"/><circle cx="544.9" cy="229.2" r="2.6" fill="#a9cbef"/>
<circle cx="563.4" cy="228" r="5" fill="#7fb1e6"/><circle cx="563.4" cy="228" r="2.6" fill="#a9cbef"/>
<rect x="502.6" y="42.4" width="58" height="14.8" fill="#e9e2d4"/>
<text x="505.6" y="54" font-size="11" fill="#111" textLength="52" lengthAdjust="spacingAndGlyphs" >Cubosome</text>
<rect x="502.6" y="266.9" width="58.6" height="14" fill="#e9e0c8"/>
<text x="510.4" y="278.6" font-size="11" fill="#111" textLength="43.8" lengthAdjust="spacingAndGlyphs" >Exosome</text>
<g clip-path="url(#cpR)">
<rect x="585" y="32" width="91" height="255" fill="url(#bgR)"/>
<ellipse cx="600" cy="180" rx="24" ry="34" fill="#b6b6b6" opacity="0.5" filter="url(#b4)"/>
<ellipse cx="664" cy="170" rx="18" ry="26" fill="#a6a6a6" opacity="0.4" filter="url(#b4)"/>
<g filter="url(#b1)">
<path d="M585,30 H676 V99 C664,101 652,100 644,99 L612,97 C604,100 594,98 585,93Z" fill="#5250b4"/>
<path d="M644,30 H676 V99 C664,101 652,100 644,99Z" fill="url(#gloveR)"/>
<path d="M585,30 H676 V41 C650,44 620,43 585,41Z" fill="#302e80"/>
</g>
<g filter="url(#b05)">
<path d="M616,38 H644 L645,108 L643,111 H615 L612.6,108 L613,84Z" fill="url(#barrel)"/>
<rect x="641.4" y="40" width="3.4" height="68" fill="#a9a5d4" opacity="0.75"/>
<rect x="627.25" y="42" width="7.5" height="0.9" fill="#3c3a86" opacity="0.85"/>
<rect x="627.25" y="46.55" width="7.5" height="0.9" fill="#3c3a86" opacity="0.85"/>
<rect x="625" y="51.1" width="12" height="0.9" fill="#3c3a86" opacity="0.85"/>
<rect x="627.25" y="55.65" width="7.5" height="0.9" fill="#3c3a86" opacity="0.85"/>
<rect x="627.25" y="60.2" width="7.5" height="0.9" fill="#3c3a86" opacity="0.85"/>
<rect x="627.25" y="64.75" width="7.5" height="0.9" fill="#3c3a86" opacity="0.85"/>
<rect x="627.25" y="69.3" width="7.5" height="0.9" fill="#3c3a86" opacity="0.85"/>
<rect x="625" y="73.85" width="12" height="0.9" fill="#3c3a86" opacity="0.85"/>
<rect x="627.25" y="78.4" width="7.5" height="0.9" fill="#3c3a86" opacity="0.85"/>
<rect x="627.25" y="82.95" width="7.5" height="0.9" fill="#3c3a86" opacity="0.85"/>
<rect x="627.25" y="87.5" width="7.5" height="0.9" fill="#3c3a86" opacity="0.85"/>
<rect x="627.25" y="92.05" width="7.5" height="0.9" fill="#3c3a86" opacity="0.85"/>
<rect x="625" y="96.6" width="12" height="0.9" fill="#3c3a86" opacity="0.85"/>
<rect x="627.25" y="101.15" width="7.5" height="0.9" fill="#3c3a86" opacity="0.85"/>
<rect x="627.25" y="105.7" width="7.5" height="0.9" fill="#3c3a86" opacity="0.85"/>
<rect x="613" y="82" width="4" height="27" fill="#efedf8" opacity="0.85"/>
</g>
<g filter="url(#b1)"><ellipse cx="603" cy="66" rx="23.5" ry="29" fill="url(#glove)"/><path d="M586,84 C596,96 612,96 622,84 C620,94 612,99 600,99 C594,99 588,96 586,93Z" fill="#3c3a94" opacity="0.8"/></g>
<g filter="url(#b05)">
<rect x="615" y="108" width="28" height="5.4" rx="1.5" fill="#ebdcea"/>
<rect x="622" y="112" width="13.6" height="6.4" fill="#e58fb8"/>
<path d="M615.6,119 H641 V124 H637 L635.5,146 L634,160 H625.5 L624,146 L622,124 H615.6Z" fill="url(#hub)"/>
<rect x="625.5" y="122" width="6" height="22" fill="#d3a4cf" opacity="0.75"/>
</g>
<path d="M624,150 H636.4 L634.6,160 L631.6,163.5 H629 L626,160Z" fill="#8cc6dd" filter="url(#b05)"/>
<rect x="629.6" y="162" width="1.1" height="30" fill="#1c1c1c"/>
<g filter="url(#b05)">
<rect x="617" y="183.5" width="27" height="13" rx="2.5" fill="#b9a4b4" opacity="0.7"/>
<rect x="617" y="183.5" width="27" height="13" rx="2.5" fill="none" stroke="#d7d4d8" stroke-width="1.2"/>
<path d="M619,187.5 H642 M619,191 H642" stroke="#cfcbd0" stroke-width="0.8"/>
<path d="M618,196 C615,198 613.2,200 613.2,204 V290 H647.8 V204 C647.8,200 646,198 643,196Z" fill="url(#vialL)"/>
<path d="M613.2,210 H647.8 V290 H613.2Z" fill="url(#liqR)"/>
<path d="M613.2,210 H647.8 V290 H613.2Z" fill="url(#liqRv)"/>
<rect x="614.6" y="204" width="2" height="60" fill="#f6d0e8" opacity="0.7"/>
</g>
</g>
<line x1="623.07" y1="247.57" x2="656.57" y2="243.67" stroke="#0c0c0c" stroke-width="1.5"/><line x1="619.2" y1="241.21" x2="638.05" y2="213.25" stroke="#0c0c0c" stroke-width="1.5"/><circle cx="622.6" cy="243.5" r="4.1" fill="rgba(255,255,255,0.2)" stroke="#0c0c0c" stroke-width="1.5"/><circle cx="654.3" cy="224.2" r="19.6" fill="#f1c2e2" stroke="#0c0c0c" stroke-width="1.6"/>
<circle cx="654.8" cy="213.1" r="5" fill="#a9b6d2"/><circle cx="654.8" cy="213.1" r="2.6" fill="#bcc9dc"/>
<circle cx="644.9" cy="228" r="5" fill="#a9b6d2"/><circle cx="644.9" cy="228" r="2.6" fill="#bcc9dc"/>
<circle cx="662.2" cy="228.7" r="5" fill="#a9b6d2"/><circle cx="662.2" cy="228.7" r="2.6" fill="#bcc9dc"/>
<rect x="602" y="252.2" width="59.8" height="29.6" fill="#e7dcc6"/>
<text x="631.8" y="264.6" font-size="11" fill="#111" text-anchor="middle" textLength="32" lengthAdjust="spacingAndGlyphs" >Hybrid</text>
<text x="631.8" y="278" font-size="11" fill="#111" text-anchor="middle" textLength="43.5" lengthAdjust="spacingAndGlyphs" >exosome</text>
<text x="12.6" y="304.3" font-size="15" fill="#000" font-weight="bold" textLength="7" lengthAdjust="spacingAndGlyphs" >b</text>
<text x="52.5" y="325" font-size="12.4" fill="#111" font-weight="bold" textLength="247" lengthAdjust="spacingAndGlyphs" >Blood-Brain Barrier (BBB) Permeability Test</text>
<g><path d="M66,458 C72,464 78,472 81.5,482 C82.5,485 85.5,485 85,481.5 C83.5,472 80,464 78,458Z" fill="#cfdcf0"/><path d="M84,458 C90,453 102,453 108,457.5 C111.5,461 110,467 105,470.5 C99,474 91,473.5 86.5,469.5 C83.5,466.5 82.5,461.5 84,458Z" fill="#c9d8ef"/><path d="M86,462 C92,460 100,460 108,461 M86,466 C92,465 100,465 107,466" stroke="#b3c5e4" stroke-width="0.7" fill="none"/><path d="M18.5,433 C18.5,428 19.5,424.5 21,421 C23,416 26,413.5 29.5,410.5 C34,406 39.5,404 45.5,402 C52,399 60,397.3 68.5,397.2 C76,397 83.5,397.6 89.5,399.4 C96,401 101.5,404 105.5,407.5 C110.5,411.5 114,416 116,421.5 C118.5,427 120,432 119.8,437.5 C120,442.5 119.5,446.5 117.8,450 C116,454 112.5,456 109,456.2 C104,458 98,457 92,456.5 C86,456.5 82,459 76,461.5 C71,463.5 67,463.6 63,463 C57,462.6 50.5,461.5 45.5,458.6 C42,456 40,452 39,448.2 C35,448.6 31,448 27.7,446.3 C24,445 21.5,443.5 19.7,441 C18.6,438.5 18.4,436 18.5,433Z" fill="url(#gBrain)"/><g fill="#e8eff9" opacity="0.85"><ellipse cx="34" cy="419" rx="7" ry="4" transform="rotate(-35 34 419)"/><ellipse cx="48" cy="409" rx="8" ry="4" transform="rotate(-20 48 409)"/><ellipse cx="66" cy="403.5" rx="9" ry="4" transform="rotate(0 66 403.5)"/><ellipse cx="86" cy="406" rx="8" ry="4" transform="rotate(18 86 406)"/><ellipse cx="102" cy="416" rx="7" ry="4" transform="rotate(40 102 416)"/><ellipse cx="110" cy="432" rx="5" ry="8" transform="rotate(5 110 432)"/><ellipse cx="104" cy="447" rx="7" ry="4.5" transform="rotate(-20 104 447)"/><ellipse cx="30" cy="434" rx="7" ry="4.5" transform="rotate(10 30 434)"/><ellipse cx="52" cy="424" rx="7" ry="4" transform="rotate(-30 52 424)"/><ellipse cx="90" cy="424" rx="8" ry="4.5" transform="rotate(15 90 424)"/><ellipse cx="92" cy="442" rx="8" ry="4" transform="rotate(5 92 442)"/><ellipse cx="54" cy="452" rx="9" ry="4" transform="rotate(8 54 452)"/><ellipse cx="72" cy="452" rx="6" ry="3.5" transform="rotate(-10 72 452)"/></g><g fill="none" stroke="#68748f" stroke-width="0.8" stroke-linecap="round" stroke-linejoin="round"><path d="M61,434 C56,436 52,440 47,442 C44,443.5 41,447 40,451 M52,440 C50,434 49,428 51,422 C52,417 55,413 58,410 M50,428 C46,426 42,424 38,425 C35,426 33,428 30,429 M58,428 C58,422 60,417 63,413 C65,410 68,408 70,406 M60,418 C57,415 55,412 54,408 M47,442 C46,446 46,450 47,454 M61,434 C64,431 66,428 67,424 M86,431 C91,428 96,428 101,425 C104,423 107,422 110,423 M88,437 C94,438 100,437 106,440 M84,446 C88,449 92,452 96,452 M63,460 C68,462 72,461 76,458 C79,456 83,456 86,455 M70,463 C74,468 78,474 81,481 M74,462 C78,462 82,461 85,459"/></g><g fill="none" stroke="#8e9ab4" stroke-width="0.7" stroke-linecap="round"><path d="M25,421 l2,2.5 l1.5,-2 M36,410 l1.5,3 l2,-1.5 M47,403.6 l0.6,2.6 M102,412 l2,2 M112,428 l1.5,2.5 M106,448 l2,-2 M28,438 l3,1 M22,432 l2,1"/></g><g stroke="#d393a4" stroke-width="0.7" fill="none"><path d="M50,455 l1.2,2.4 M112,444 l-1.4,2.2 M96,409 l1.6,1.8"/></g></g>
<path d="M72.4,422.4 L121.4,333" stroke="#0c0c0c" stroke-width="1.6" fill="none"/>
<path d="M73.4,447.4 L121.4,545.6" stroke="#0c0c0c" stroke-width="1.6" fill="none"/>
<circle cx="72.2" cy="434.7" r="13" fill="#a9bfe4" stroke="#0c0c0c" stroke-width="1.6"/>
<path d="M60,432 C66,434 72,432 78,430 C82,429 84,432 85,435 M66,438 C68,442 70,444 74,446 M78,430 C78,426 76,424 74,422" stroke="#7f93c4" stroke-width="0.8" fill="none"/>
<circle cx="72.2" cy="434.7" r="13" fill="none" stroke="#0c0c0c" stroke-width="1.7"/>
<path d="M12.8,520.6 C14.5,517 18,515.2 21,515.2 C24,515.2 27.4,517 29,520.6Z" fill="#ea8c96"/>
<rect x="12.6" y="519.2" width="16.6" height="2.2" rx="1.1" fill="#e07f8b"/>
<ellipse cx="20.6" cy="518" rx="3.4" ry="1.6" fill="#d8616f"/>
<path d="M9.3,537.4 C14,537.2 16,532 21,531.6 C26,532 28,537.2 32.2,537.4Z" fill="#f5b572" stroke="#e6a25c" stroke-width="0.6"/>
<g stroke="#8cc79a" stroke-width="0.65" fill="none" stroke-linecap="round" opacity="0.9"><path d="M21,554.4 L14.6,548.6 M21,554.4 L12.4,557.6 M21,554.4 L18.6,562.4 M21,554.4 L27.6,560.4 M21,554.4 L28.8,550 M21,554.4 L20,546.4 M14.6,548.6 l-1.6,-2.6 M14.6,548.6 l-2.6,0.8 M28.8,550 l0.6,-3 M27.6,560.4 l1.4,2.4 M18.6,562.4 l-1.6,1.2"/></g>
<circle cx="21" cy="554.4" r="1.7" fill="#3f9458"/>
<text x="35.6" y="520.9" font-size="8.6" fill="#111" textLength="59.4" lengthAdjust="spacingAndGlyphs" >Endothelial Cell</text>
<text x="35.6" y="537.8" font-size="8.6" fill="#111" textLength="31" lengthAdjust="spacingAndGlyphs" >Pericyte</text>
<text x="35.6" y="558.2" font-size="8.6" fill="#111" textLength="36.6" lengthAdjust="spacingAndGlyphs" >Astrocyte</text>
<rect x="121.4" y="333" width="220.4" height="212.60000000000002" fill="#f1f6ed"/>
<rect x="121.4" y="333" width="74" height="212.60000000000002" fill="#f7d6d6"/>
<rect x="121.4" y="333" width="5.6" height="212.60000000000002" fill="#d0696b"/>
<g clip-path="url(#cTop)">
<g><circle cx="174.4" cy="358.7" r="8.2" fill="#b9cae6"/><line x1="178.5" y1="358.54" x2="181.89" y2="358.41" stroke="#efcdb9" stroke-width="2.3" stroke-linecap="round"/><line x1="178.32" y1="359.9" x2="181.57" y2="360.9" stroke="#a4c1e6" stroke-width="2.3" stroke-linecap="round"/><line x1="177.89" y1="360.85" x2="180.79" y2="362.63" stroke="#e9cbbd" stroke-width="2.3" stroke-linecap="round"/><line x1="177.37" y1="361.52" x2="179.84" y2="363.87" stroke="#b1c8e8" stroke-width="2.3" stroke-linecap="round"/><line x1="176.45" y1="362.25" x2="178.15" y2="365.19" stroke="#efcdb9" stroke-width="2.3" stroke-linecap="round"/><line x1="175.48" y1="362.65" x2="176.38" y2="365.93" stroke="#a4c1e6" stroke-width="2.3" stroke-linecap="round"/><line x1="174.33" y1="362.8" x2="174.28" y2="366.2" stroke="#e9cbbd" stroke-width="2.3" stroke-linecap="round"/><line x1="173.22" y1="362.63" x2="172.24" y2="365.88" stroke="#b1c8e8" stroke-width="2.3" stroke-linecap="round"/><line x1="172.5" y1="362.33" x2="170.93" y2="365.35" stroke="#efcdb9" stroke-width="2.3" stroke-linecap="round"/><line x1="171.65" y1="361.74" x2="169.36" y2="364.26" stroke="#a4c1e6" stroke-width="2.3" stroke-linecap="round"/><line x1="170.78" y1="360.62" x2="167.78" y2="362.22" stroke="#e9cbbd" stroke-width="2.3" stroke-linecap="round"/><line x1="170.45" y1="359.79" x2="167.17" y2="360.69" stroke="#b1c8e8" stroke-width="2.3" stroke-linecap="round"/><line x1="170.3" y1="358.59" x2="166.9" y2="358.49" stroke="#efcdb9" stroke-width="2.3" stroke-linecap="round"/><line x1="170.39" y1="357.85" x2="167.06" y2="357.14" stroke="#a4c1e6" stroke-width="2.3" stroke-linecap="round"/><line x1="170.84" y1="356.67" x2="167.88" y2="354.99" stroke="#e9cbbd" stroke-width="2.3" stroke-linecap="round"/><line x1="171.57" y1="355.73" x2="169.22" y2="353.28" stroke="#b1c8e8" stroke-width="2.3" stroke-linecap="round"/><line x1="172.25" y1="355.21" x2="170.47" y2="352.31" stroke="#efcdb9" stroke-width="2.3" stroke-linecap="round"/><line x1="173.52" y1="354.69" x2="172.8" y2="351.37" stroke="#a4c1e6" stroke-width="2.3" stroke-linecap="round"/><line x1="174.57" y1="354.6" x2="174.72" y2="351.21" stroke="#e9cbbd" stroke-width="2.3" stroke-linecap="round"/><line x1="175.27" y1="354.69" x2="175.98" y2="351.37" stroke="#b1c8e8" stroke-width="2.3" stroke-linecap="round"/><line x1="176.27" y1="355.05" x2="177.82" y2="352.03" stroke="#efcdb9" stroke-width="2.3" stroke-linecap="round"/><line x1="177.31" y1="355.81" x2="179.73" y2="353.42" stroke="#a4c1e6" stroke-width="2.3" stroke-linecap="round"/><line x1="178.04" y1="356.82" x2="181.06" y2="355.25" stroke="#e9cbbd" stroke-width="2.3" stroke-linecap="round"/><line x1="178.35" y1="357.59" x2="181.62" y2="356.67" stroke="#b1c8e8" stroke-width="2.3" stroke-linecap="round"/><circle cx="174.4" cy="358.7" r="3.5999999999999996" fill="#c2d0ea"/><ellipse cx="174.56" cy="359.47" rx="2.8" ry="1.9" fill="#9dbde4" transform="rotate(7 174.56 359.47)"/><ellipse cx="173.79" cy="358.59" rx="2.8" ry="1.9" fill="#9dbde4" transform="rotate(126 173.79 358.59)"/><ellipse cx="173.62" cy="358.43" rx="2.8" ry="1.9" fill="#9dbde4" transform="rotate(173 173.62 358.43)"/><ellipse cx="174.55" cy="359.46" rx="2.8" ry="1.9" fill="#9dbde4" transform="rotate(74 174.55 359.46)"/><ellipse cx="174.92" cy="358.44" rx="2.4" ry="1.6" fill="#e8cdc0"/><ellipse cx="174.47" cy="358.66" rx="2.4" ry="1.6" fill="#e8cdc0"/><line x1="179.76" y1="359.34" x2="181.65" y2="359.57" stroke="#4a5876" stroke-width="1.5" opacity="0.9" stroke-linecap="round"/><line x1="177.79" y1="362.9" x2="178.98" y2="364.38" stroke="#4a5876" stroke-width="1.5" opacity="0.9" stroke-linecap="round"/><line x1="172.26" y1="363.66" x2="171.5" y2="365.4" stroke="#b08050" stroke-width="1.5" opacity="0.9" stroke-linecap="round"/><line x1="169.35" y1="360.6" x2="167.57" y2="361.27" stroke="#4a5876" stroke-width="1.5" opacity="0.9" stroke-linecap="round"/><line x1="169.63" y1="356.17" x2="167.95" y2="355.28" stroke="#b08050" stroke-width="1.5" opacity="0.9" stroke-linecap="round"/><line x1="174.12" y1="353.31" x2="174.02" y2="351.41" stroke="#b08050" stroke-width="1.5" opacity="0.9" stroke-linecap="round"/><line x1="178.21" y1="354.87" x2="179.55" y2="353.52" stroke="#3f475c" stroke-width="1.5" opacity="0.9" stroke-linecap="round"/></g>
<g><circle cx="170" cy="381.5" r="10.2" fill="#b9cae6"/><line x1="176.09" y1="381.79" x2="179.49" y2="381.95" stroke="#efcdb9" stroke-width="2.3" stroke-linecap="round"/><line x1="175.81" y1="383.35" x2="179.05" y2="384.39" stroke="#a4c1e6" stroke-width="2.3" stroke-linecap="round"/><line x1="175.42" y1="384.3" x2="178.44" y2="385.86" stroke="#e9cbbd" stroke-width="2.3" stroke-linecap="round"/><line x1="174.5" y1="385.62" x2="177" y2="387.92" stroke="#b1c8e8" stroke-width="2.3" stroke-linecap="round"/><line x1="172.86" y1="386.89" x2="174.46" y2="389.89" stroke="#efcdb9" stroke-width="2.3" stroke-linecap="round"/><line x1="171.43" y1="387.43" x2="172.23" y2="390.73" stroke="#a4c1e6" stroke-width="2.3" stroke-linecap="round"/><line x1="169.89" y1="387.6" x2="169.83" y2="391" stroke="#e9cbbd" stroke-width="2.3" stroke-linecap="round"/><line x1="168.54" y1="387.42" x2="167.73" y2="390.72" stroke="#b1c8e8" stroke-width="2.3" stroke-linecap="round"/><line x1="166.89" y1="386.75" x2="165.16" y2="389.67" stroke="#efcdb9" stroke-width="2.3" stroke-linecap="round"/><line x1="165.64" y1="385.76" x2="163.21" y2="388.14" stroke="#a4c1e6" stroke-width="2.3" stroke-linecap="round"/><line x1="164.69" y1="384.5" x2="161.73" y2="386.18" stroke="#e9cbbd" stroke-width="2.3" stroke-linecap="round"/><line x1="164.17" y1="383.29" x2="160.92" y2="384.29" stroke="#b1c8e8" stroke-width="2.3" stroke-linecap="round"/><line x1="163.9" y1="381.54" x2="160.5" y2="381.57" stroke="#efcdb9" stroke-width="2.3" stroke-linecap="round"/><line x1="164.09" y1="379.99" x2="160.8" y2="379.14" stroke="#a4c1e6" stroke-width="2.3" stroke-linecap="round"/><line x1="164.79" y1="378.33" x2="161.89" y2="376.56" stroke="#e9cbbd" stroke-width="2.3" stroke-linecap="round"/><line x1="165.92" y1="376.97" x2="163.64" y2="374.44" stroke="#b1c8e8" stroke-width="2.3" stroke-linecap="round"/><line x1="167.2" y1="376.08" x2="165.64" y2="373.06" stroke="#efcdb9" stroke-width="2.3" stroke-linecap="round"/><line x1="168.45" y1="375.6" x2="167.58" y2="372.31" stroke="#a4c1e6" stroke-width="2.3" stroke-linecap="round"/><line x1="169.96" y1="375.4" x2="169.95" y2="372" stroke="#e9cbbd" stroke-width="2.3" stroke-linecap="round"/><line x1="171.44" y1="375.57" x2="172.24" y2="372.27" stroke="#b1c8e8" stroke-width="2.3" stroke-linecap="round"/><line x1="172.79" y1="376.08" x2="174.34" y2="373.05" stroke="#efcdb9" stroke-width="2.3" stroke-linecap="round"/><line x1="174.09" y1="376.98" x2="176.38" y2="374.46" stroke="#a4c1e6" stroke-width="2.3" stroke-linecap="round"/><line x1="175.27" y1="378.43" x2="178.21" y2="376.72" stroke="#e9cbbd" stroke-width="2.3" stroke-linecap="round"/><line x1="175.86" y1="379.81" x2="179.13" y2="378.87" stroke="#b1c8e8" stroke-width="2.3" stroke-linecap="round"/><circle cx="170" cy="381.5" r="5.6" fill="#c2d0ea"/><ellipse cx="168.3" cy="383.1" rx="2.8" ry="1.9" fill="#9dbde4" transform="rotate(134 168.3 383.1)"/><ellipse cx="170.65" cy="382.59" rx="2.8" ry="1.9" fill="#9dbde4" transform="rotate(59 170.65 382.59)"/><ellipse cx="171.47" cy="381.72" rx="2.8" ry="1.9" fill="#9dbde4" transform="rotate(34 171.47 381.72)"/><ellipse cx="168.46" cy="381.4" rx="2.8" ry="1.9" fill="#9dbde4" transform="rotate(131 168.46 381.4)"/><ellipse cx="169.46" cy="380.45" rx="2.4" ry="1.6" fill="#e8cdc0"/><ellipse cx="171.41" cy="380.38" rx="2.4" ry="1.6" fill="#e8cdc0"/><line x1="175.46" y1="386.49" x2="176.87" y2="387.77" stroke="#4a5876" stroke-width="1.5" opacity="0.9" stroke-linecap="round"/><line x1="169.72" y1="388.89" x2="169.64" y2="390.79" stroke="#4a5876" stroke-width="1.5" opacity="0.9" stroke-linecap="round"/><line x1="164.53" y1="386.49" x2="163.13" y2="387.77" stroke="#b08050" stroke-width="1.5" opacity="0.9" stroke-linecap="round"/><line x1="162.64" y1="380.69" x2="160.76" y2="380.49" stroke="#b08050" stroke-width="1.5" opacity="0.9" stroke-linecap="round"/><line x1="166.92" y1="374.77" x2="166.14" y2="373.04" stroke="#b08050" stroke-width="1.5" opacity="0.9" stroke-linecap="round"/><line x1="173.25" y1="374.85" x2="174.08" y2="373.14" stroke="#4a5876" stroke-width="1.5" opacity="0.9" stroke-linecap="round"/><line x1="177.15" y1="379.6" x2="178.99" y2="379.12" stroke="#b08050" stroke-width="1.5" opacity="0.9" stroke-linecap="round"/></g>
<g><circle cx="171.8" cy="407.2" r="11.2" fill="#b9cae6"/><line x1="178.9" y1="407.01" x2="182.3" y2="406.91" stroke="#efcdb9" stroke-width="2.3" stroke-linecap="round"/><line x1="178.65" y1="409.07" x2="181.93" y2="409.96" stroke="#a4c1e6" stroke-width="2.3" stroke-linecap="round"/><line x1="178" y1="410.67" x2="180.96" y2="412.33" stroke="#e9cbbd" stroke-width="2.3" stroke-linecap="round"/><line x1="176.77" y1="412.27" x2="179.14" y2="414.7" stroke="#b1c8e8" stroke-width="2.3" stroke-linecap="round"/><line x1="175.27" y1="413.39" x2="176.93" y2="416.36" stroke="#efcdb9" stroke-width="2.3" stroke-linecap="round"/><line x1="173.95" y1="413.97" x2="174.98" y2="417.21" stroke="#a4c1e6" stroke-width="2.3" stroke-linecap="round"/><line x1="172.16" y1="414.29" x2="172.34" y2="417.69" stroke="#e9cbbd" stroke-width="2.3" stroke-linecap="round"/><line x1="169.72" y1="413.99" x2="168.73" y2="417.24" stroke="#b1c8e8" stroke-width="2.3" stroke-linecap="round"/><line x1="168.41" y1="413.44" x2="166.78" y2="416.42" stroke="#efcdb9" stroke-width="2.3" stroke-linecap="round"/><line x1="166.92" y1="412.36" x2="164.58" y2="414.83" stroke="#a4c1e6" stroke-width="2.3" stroke-linecap="round"/><line x1="165.48" y1="410.43" x2="162.45" y2="411.97" stroke="#e9cbbd" stroke-width="2.3" stroke-linecap="round"/><line x1="164.95" y1="409.06" x2="161.67" y2="409.95" stroke="#b1c8e8" stroke-width="2.3" stroke-linecap="round"/><line x1="164.7" y1="406.95" x2="161.31" y2="406.83" stroke="#efcdb9" stroke-width="2.3" stroke-linecap="round"/><line x1="164.94" y1="405.38" x2="161.65" y2="404.51" stroke="#a4c1e6" stroke-width="2.3" stroke-linecap="round"/><line x1="165.7" y1="403.56" x2="162.78" y2="401.82" stroke="#e9cbbd" stroke-width="2.3" stroke-linecap="round"/><line x1="166.6" y1="402.37" x2="164.11" y2="400.05" stroke="#b1c8e8" stroke-width="2.3" stroke-linecap="round"/><line x1="168.34" y1="401" x2="166.68" y2="398.03" stroke="#efcdb9" stroke-width="2.3" stroke-linecap="round"/><line x1="170.23" y1="400.28" x2="169.48" y2="396.96" stroke="#a4c1e6" stroke-width="2.3" stroke-linecap="round"/><line x1="171.82" y1="400.1" x2="171.83" y2="396.7" stroke="#e9cbbd" stroke-width="2.3" stroke-linecap="round"/><line x1="173.81" y1="400.39" x2="174.77" y2="397.13" stroke="#b1c8e8" stroke-width="2.3" stroke-linecap="round"/><line x1="175.46" y1="401.12" x2="177.21" y2="398.2" stroke="#efcdb9" stroke-width="2.3" stroke-linecap="round"/><line x1="176.59" y1="401.96" x2="178.88" y2="399.44" stroke="#a4c1e6" stroke-width="2.3" stroke-linecap="round"/><line x1="178.04" y1="403.82" x2="181.03" y2="402.2" stroke="#e9cbbd" stroke-width="2.3" stroke-linecap="round"/><line x1="178.68" y1="405.43" x2="181.97" y2="404.58" stroke="#b1c8e8" stroke-width="2.3" stroke-linecap="round"/><circle cx="171.8" cy="407.2" r="6.6" fill="#c2d0ea"/><ellipse cx="171.46" cy="408.22" rx="2.8" ry="1.9" fill="#9dbde4" transform="rotate(68 171.46 408.22)"/><ellipse cx="169.04" cy="407.68" rx="2.8" ry="1.9" fill="#9dbde4" transform="rotate(99 169.04 407.68)"/><ellipse cx="171.05" cy="403.98" rx="2.8" ry="1.9" fill="#9dbde4" transform="rotate(101 171.05 403.98)"/><ellipse cx="171.46" cy="404.78" rx="2.8" ry="1.9" fill="#9dbde4" transform="rotate(34 171.46 404.78)"/><ellipse cx="172.66" cy="406.37" rx="2.4" ry="1.6" fill="#e8cdc0"/><ellipse cx="172.74" cy="408.28" rx="2.4" ry="1.6" fill="#e8cdc0"/><line x1="177.49" y1="413.38" x2="178.77" y2="414.78" stroke="#4a5876" stroke-width="1.5" opacity="0.9" stroke-linecap="round"/><line x1="170.54" y1="415.51" x2="170.26" y2="417.38" stroke="#b08050" stroke-width="1.5" opacity="0.9" stroke-linecap="round"/><line x1="164.37" y1="411.12" x2="162.69" y2="412.01" stroke="#b08050" stroke-width="1.5" opacity="0.9" stroke-linecap="round"/><line x1="164.11" y1="403.82" x2="162.37" y2="403.05" stroke="#4a5876" stroke-width="1.5" opacity="0.9" stroke-linecap="round"/><line x1="169.84" y1="399.03" x2="169.4" y2="397.18" stroke="#3f475c" stroke-width="1.5" opacity="0.9" stroke-linecap="round"/><line x1="177.24" y1="400.8" x2="178.48" y2="399.36" stroke="#4a5876" stroke-width="1.5" opacity="0.9" stroke-linecap="round"/><line x1="180.2" y1="407.15" x2="182.1" y2="407.13" stroke="#4a5876" stroke-width="1.5" opacity="0.9" stroke-linecap="round"/></g>
<g><circle cx="152.7" cy="391.4" r="11.7" fill="#b9cae6"/><line x1="160.3" y1="391.19" x2="163.7" y2="391.1" stroke="#efcdb9" stroke-width="2.3" stroke-linecap="round"/><line x1="160.12" y1="393.06" x2="163.43" y2="393.8" stroke="#a4c1e6" stroke-width="2.3" stroke-linecap="round"/><line x1="159.32" y1="395.13" x2="162.29" y2="396.8" stroke="#e9cbbd" stroke-width="2.3" stroke-linecap="round"/><line x1="158.26" y1="396.58" x2="160.75" y2="398.89" stroke="#b1c8e8" stroke-width="2.3" stroke-linecap="round"/><line x1="156.79" y1="397.8" x2="158.63" y2="400.67" stroke="#efcdb9" stroke-width="2.3" stroke-linecap="round"/><line x1="154.74" y1="398.72" x2="155.66" y2="402" stroke="#a4c1e6" stroke-width="2.3" stroke-linecap="round"/><line x1="152.37" y1="398.99" x2="152.22" y2="402.39" stroke="#e9cbbd" stroke-width="2.3" stroke-linecap="round"/><line x1="150.5" y1="398.68" x2="149.52" y2="401.93" stroke="#b1c8e8" stroke-width="2.3" stroke-linecap="round"/><line x1="148.72" y1="397.87" x2="146.94" y2="400.77" stroke="#efcdb9" stroke-width="2.3" stroke-linecap="round"/><line x1="147.48" y1="396.93" x2="145.15" y2="399.4" stroke="#a4c1e6" stroke-width="2.3" stroke-linecap="round"/><line x1="146.1" y1="395.17" x2="143.15" y2="396.86" stroke="#e9cbbd" stroke-width="2.3" stroke-linecap="round"/><line x1="145.41" y1="393.54" x2="142.14" y2="394.49" stroke="#b1c8e8" stroke-width="2.3" stroke-linecap="round"/><line x1="145.1" y1="391.66" x2="141.71" y2="391.78" stroke="#efcdb9" stroke-width="2.3" stroke-linecap="round"/><line x1="145.28" y1="389.74" x2="141.97" y2="388.99" stroke="#a4c1e6" stroke-width="2.3" stroke-linecap="round"/><line x1="146.01" y1="387.8" x2="143.01" y2="386.19" stroke="#e9cbbd" stroke-width="2.3" stroke-linecap="round"/><line x1="147.57" y1="385.79" x2="145.28" y2="383.28" stroke="#b1c8e8" stroke-width="2.3" stroke-linecap="round"/><line x1="149.13" y1="384.69" x2="147.53" y2="381.69" stroke="#efcdb9" stroke-width="2.3" stroke-linecap="round"/><line x1="150.97" y1="384" x2="150.2" y2="380.69" stroke="#a4c1e6" stroke-width="2.3" stroke-linecap="round"/><line x1="152.94" y1="383.8" x2="153.05" y2="380.41" stroke="#e9cbbd" stroke-width="2.3" stroke-linecap="round"/><line x1="154.43" y1="384" x2="155.2" y2="380.69" stroke="#b1c8e8" stroke-width="2.3" stroke-linecap="round"/><line x1="156.37" y1="384.74" x2="158.01" y2="381.77" stroke="#efcdb9" stroke-width="2.3" stroke-linecap="round"/><line x1="158.14" y1="386.1" x2="160.58" y2="383.73" stroke="#a4c1e6" stroke-width="2.3" stroke-linecap="round"/><line x1="159.37" y1="387.76" x2="162.36" y2="386.13" stroke="#e9cbbd" stroke-width="2.3" stroke-linecap="round"/><line x1="160.11" y1="389.71" x2="163.42" y2="388.95" stroke="#b1c8e8" stroke-width="2.3" stroke-linecap="round"/><circle cx="152.7" cy="391.4" r="7.1" fill="#c2d0ea"/><ellipse cx="153.62" cy="390.54" rx="2.8" ry="1.9" fill="#9dbde4" transform="rotate(155 153.62 390.54)"/><ellipse cx="151.57" cy="393.25" rx="2.8" ry="1.9" fill="#9dbde4" transform="rotate(63 151.57 393.25)"/><ellipse cx="153.76" cy="393.58" rx="2.8" ry="1.9" fill="#9dbde4" transform="rotate(22 153.76 393.58)"/><ellipse cx="155.94" cy="390.21" rx="2.8" ry="1.9" fill="#9dbde4" transform="rotate(140 155.94 390.21)"/><ellipse cx="153.25" cy="390.54" rx="2.4" ry="1.6" fill="#e8cdc0"/><ellipse cx="151.98" cy="394.07" rx="2.4" ry="1.6" fill="#e8cdc0"/><line x1="161.1" y1="394.34" x2="162.89" y2="394.97" stroke="#4a5876" stroke-width="1.5" opacity="0.9" stroke-linecap="round"/><line x1="156.35" y1="399.52" x2="157.13" y2="401.25" stroke="#4a5876" stroke-width="1.5" opacity="0.9" stroke-linecap="round"/><line x1="148.59" y1="399.3" x2="147.72" y2="400.98" stroke="#4a5876" stroke-width="1.5" opacity="0.9" stroke-linecap="round"/><line x1="144.06" y1="393.53" x2="142.21" y2="393.99" stroke="#4a5876" stroke-width="1.5" opacity="0.9" stroke-linecap="round"/><line x1="146.48" y1="385.03" x2="145.15" y2="383.67" stroke="#3f475c" stroke-width="1.5" opacity="0.9" stroke-linecap="round"/><line x1="152.21" y1="382.51" x2="152.11" y2="380.62" stroke="#b08050" stroke-width="1.5" opacity="0.9" stroke-linecap="round"/><line x1="160.07" y1="386.41" x2="161.65" y2="385.35" stroke="#4a5876" stroke-width="1.5" opacity="0.9" stroke-linecap="round"/></g>
<path d="M177.4,333 C177,341 186.6,346 186.4,354 C186.2,363 178.2,368 178.4,378 C178.6,387 186.6,388 186.4,394 C186.2,402 177,405 177.4,414 C177.8,424 184,426 183.4,436 H199.5 V333Z" fill="url(#gEndo)"/>
<path d="M184,345 C188,352 186,362 183,370 M184,392 C187,398 186,408 182,414" stroke="#ffa29a" stroke-width="1.6" fill="none" opacity="0.7"/>
</g>
<g clip-path="url(#cBot)">
<g><circle cx="172.1" cy="470.4" r="12.299999999999999" fill="#b9cae6"/><line x1="180.3" y1="470.51" x2="183.7" y2="470.55" stroke="#efcdb9" stroke-width="2.3" stroke-linecap="round"/><line x1="179.96" y1="472.72" x2="183.23" y2="473.69" stroke="#a4c1e6" stroke-width="2.3" stroke-linecap="round"/><line x1="179.07" y1="474.72" x2="181.96" y2="476.51" stroke="#e9cbbd" stroke-width="2.3" stroke-linecap="round"/><line x1="177.62" y1="476.46" x2="179.91" y2="478.97" stroke="#b1c8e8" stroke-width="2.3" stroke-linecap="round"/><line x1="176.02" y1="477.6" x2="177.65" y2="480.59" stroke="#efcdb9" stroke-width="2.3" stroke-linecap="round"/><line x1="173.87" y1="478.41" x2="174.6" y2="481.73" stroke="#a4c1e6" stroke-width="2.3" stroke-linecap="round"/><line x1="172.5" y1="478.59" x2="172.67" y2="481.99" stroke="#e9cbbd" stroke-width="2.3" stroke-linecap="round"/><line x1="170.01" y1="478.33" x2="169.14" y2="481.62" stroke="#b1c8e8" stroke-width="2.3" stroke-linecap="round"/><line x1="167.67" y1="477.3" x2="165.84" y2="480.17" stroke="#efcdb9" stroke-width="2.3" stroke-linecap="round"/><line x1="166.21" y1="476.11" x2="163.77" y2="478.47" stroke="#a4c1e6" stroke-width="2.3" stroke-linecap="round"/><line x1="164.83" y1="474.2" x2="161.82" y2="475.77" stroke="#e9cbbd" stroke-width="2.3" stroke-linecap="round"/><line x1="164.27" y1="472.84" x2="161.03" y2="473.85" stroke="#b1c8e8" stroke-width="2.3" stroke-linecap="round"/><line x1="163.9" y1="470.43" x2="160.5" y2="470.44" stroke="#efcdb9" stroke-width="2.3" stroke-linecap="round"/><line x1="164.13" y1="468.49" x2="160.82" y2="467.7" stroke="#a4c1e6" stroke-width="2.3" stroke-linecap="round"/><line x1="165.02" y1="466.27" x2="162.08" y2="464.55" stroke="#e9cbbd" stroke-width="2.3" stroke-linecap="round"/><line x1="166.35" y1="464.56" x2="163.96" y2="462.13" stroke="#b1c8e8" stroke-width="2.3" stroke-linecap="round"/><line x1="167.64" y1="463.52" x2="165.8" y2="460.66" stroke="#efcdb9" stroke-width="2.3" stroke-linecap="round"/><line x1="169.74" y1="462.55" x2="168.77" y2="459.29" stroke="#a4c1e6" stroke-width="2.3" stroke-linecap="round"/><line x1="171.91" y1="462.2" x2="171.83" y2="458.8" stroke="#e9cbbd" stroke-width="2.3" stroke-linecap="round"/><line x1="174.57" y1="462.58" x2="175.59" y2="459.34" stroke="#b1c8e8" stroke-width="2.3" stroke-linecap="round"/><line x1="176.4" y1="463.42" x2="178.18" y2="460.52" stroke="#efcdb9" stroke-width="2.3" stroke-linecap="round"/><line x1="177.69" y1="464.4" x2="180" y2="461.91" stroke="#a4c1e6" stroke-width="2.3" stroke-linecap="round"/><line x1="179.33" y1="466.52" x2="182.32" y2="464.92" stroke="#e9cbbd" stroke-width="2.3" stroke-linecap="round"/><line x1="179.93" y1="467.98" x2="183.18" y2="466.98" stroke="#b1c8e8" stroke-width="2.3" stroke-linecap="round"/><circle cx="172.1" cy="470.4" r="7.699999999999999" fill="#c2d0ea"/><ellipse cx="171.02" cy="469.42" rx="2.8" ry="1.9" fill="#9dbde4" transform="rotate(0 171.02 469.42)"/><ellipse cx="173.1" cy="470.22" rx="2.8" ry="1.9" fill="#9dbde4" transform="rotate(55 173.1 470.22)"/><ellipse cx="173.65" cy="470" rx="2.8" ry="1.9" fill="#9dbde4" transform="rotate(42 173.65 470)"/><ellipse cx="171.01" cy="474.73" rx="2.8" ry="1.9" fill="#9dbde4" transform="rotate(138 171.01 474.73)"/><ellipse cx="174.19" cy="468.33" rx="2.4" ry="1.6" fill="#e8cdc0"/><ellipse cx="173.77" cy="474.04" rx="2.4" ry="1.6" fill="#e8cdc0"/><line x1="181.22" y1="473.08" x2="183.04" y2="473.61" stroke="#b08050" stroke-width="1.5" opacity="0.9" stroke-linecap="round"/><line x1="177.07" y1="478.5" x2="178.06" y2="480.12" stroke="#4a5876" stroke-width="1.5" opacity="0.9" stroke-linecap="round"/><line x1="168.62" y1="479.24" x2="167.92" y2="481.01" stroke="#4a5876" stroke-width="1.5" opacity="0.9" stroke-linecap="round"/><line x1="163.13" y1="473.52" x2="161.33" y2="474.14" stroke="#4a5876" stroke-width="1.5" opacity="0.9" stroke-linecap="round"/><line x1="164.11" y1="465.26" x2="162.52" y2="464.23" stroke="#3f475c" stroke-width="1.5" opacity="0.9" stroke-linecap="round"/><line x1="171.82" y1="460.9" x2="171.77" y2="459" stroke="#4a5876" stroke-width="1.5" opacity="0.9" stroke-linecap="round"/><line x1="178.5" y1="463.38" x2="179.78" y2="461.97" stroke="#4a5876" stroke-width="1.5" opacity="0.9" stroke-linecap="round"/></g>
<g><circle cx="152.4" cy="519.5" r="12.299999999999999" fill="#b9cae6"/><line x1="160.6" y1="519.75" x2="163.99" y2="519.86" stroke="#efcdb9" stroke-width="2.3" stroke-linecap="round"/><line x1="160.24" y1="521.89" x2="163.5" y2="522.88" stroke="#a4c1e6" stroke-width="2.3" stroke-linecap="round"/><line x1="159.51" y1="523.59" x2="162.45" y2="525.28" stroke="#e9cbbd" stroke-width="2.3" stroke-linecap="round"/><line x1="158.34" y1="525.15" x2="160.8" y2="527.5" stroke="#b1c8e8" stroke-width="2.3" stroke-linecap="round"/><line x1="156.87" y1="526.38" x2="158.72" y2="529.23" stroke="#efcdb9" stroke-width="2.3" stroke-linecap="round"/><line x1="154.39" y1="527.46" x2="155.21" y2="530.75" stroke="#a4c1e6" stroke-width="2.3" stroke-linecap="round"/><line x1="152.43" y1="527.7" x2="152.44" y2="531.1" stroke="#e9cbbd" stroke-width="2.3" stroke-linecap="round"/><line x1="150.06" y1="527.36" x2="149.09" y2="530.62" stroke="#b1c8e8" stroke-width="2.3" stroke-linecap="round"/><line x1="148.39" y1="526.66" x2="146.73" y2="529.62" stroke="#efcdb9" stroke-width="2.3" stroke-linecap="round"/><line x1="146.44" y1="525.13" x2="143.97" y2="527.47" stroke="#a4c1e6" stroke-width="2.3" stroke-linecap="round"/><line x1="145.4" y1="523.77" x2="142.49" y2="525.54" stroke="#e9cbbd" stroke-width="2.3" stroke-linecap="round"/><line x1="144.42" y1="521.37" x2="141.11" y2="522.15" stroke="#b1c8e8" stroke-width="2.3" stroke-linecap="round"/><line x1="144.2" y1="519.3" x2="140.8" y2="519.22" stroke="#efcdb9" stroke-width="2.3" stroke-linecap="round"/><line x1="144.46" y1="517.45" x2="141.17" y2="516.6" stroke="#a4c1e6" stroke-width="2.3" stroke-linecap="round"/><line x1="145.32" y1="515.37" x2="142.38" y2="513.66" stroke="#e9cbbd" stroke-width="2.3" stroke-linecap="round"/><line x1="146.71" y1="513.59" x2="144.36" y2="511.14" stroke="#b1c8e8" stroke-width="2.3" stroke-linecap="round"/><line x1="148.07" y1="512.53" x2="146.28" y2="509.65" stroke="#efcdb9" stroke-width="2.3" stroke-linecap="round"/><line x1="150.32" y1="511.57" x2="149.46" y2="508.28" stroke="#a4c1e6" stroke-width="2.3" stroke-linecap="round"/><line x1="152.66" y1="511.3" x2="152.77" y2="507.91" stroke="#e9cbbd" stroke-width="2.3" stroke-linecap="round"/><line x1="154.33" y1="511.53" x2="155.13" y2="508.22" stroke="#b1c8e8" stroke-width="2.3" stroke-linecap="round"/><line x1="156.72" y1="512.53" x2="158.52" y2="509.64" stroke="#efcdb9" stroke-width="2.3" stroke-linecap="round"/><line x1="158.31" y1="513.82" x2="160.76" y2="511.46" stroke="#a4c1e6" stroke-width="2.3" stroke-linecap="round"/><line x1="159.64" y1="515.66" x2="162.65" y2="514.07" stroke="#e9cbbd" stroke-width="2.3" stroke-linecap="round"/><line x1="160.28" y1="517.24" x2="163.55" y2="516.31" stroke="#b1c8e8" stroke-width="2.3" stroke-linecap="round"/><circle cx="152.4" cy="519.5" r="7.699999999999999" fill="#c2d0ea"/><ellipse cx="155.64" cy="521.64" rx="2.8" ry="1.9" fill="#9dbde4" transform="rotate(64 155.64 521.64)"/><ellipse cx="151.14" cy="519.95" rx="2.8" ry="1.9" fill="#9dbde4" transform="rotate(50 151.14 519.95)"/><ellipse cx="151.21" cy="515.82" rx="2.8" ry="1.9" fill="#9dbde4" transform="rotate(24 151.21 515.82)"/><ellipse cx="155.37" cy="518.55" rx="2.8" ry="1.9" fill="#9dbde4" transform="rotate(51 155.37 518.55)"/><ellipse cx="154.19" cy="516.12" rx="2.4" ry="1.6" fill="#e8cdc0"/><ellipse cx="148.83" cy="519.8" rx="2.4" ry="1.6" fill="#e8cdc0"/><line x1="161.73" y1="521.27" x2="163.6" y2="521.63" stroke="#3f475c" stroke-width="1.5" opacity="0.9" stroke-linecap="round"/><line x1="156.72" y1="527.96" x2="157.58" y2="529.66" stroke="#4a5876" stroke-width="1.5" opacity="0.9" stroke-linecap="round"/><line x1="148.54" y1="528.18" x2="147.77" y2="529.92" stroke="#4a5876" stroke-width="1.5" opacity="0.9" stroke-linecap="round"/><line x1="143.37" y1="522.44" x2="141.56" y2="523.03" stroke="#3f475c" stroke-width="1.5" opacity="0.9" stroke-linecap="round"/><line x1="144.14" y1="514.8" x2="142.49" y2="513.86" stroke="#4a5876" stroke-width="1.5" opacity="0.9" stroke-linecap="round"/><line x1="150.99" y1="510.11" x2="150.71" y2="508.23" stroke="#4a5876" stroke-width="1.5" opacity="0.9" stroke-linecap="round"/><line x1="159.19" y1="512.86" x2="160.55" y2="511.53" stroke="#4a5876" stroke-width="1.5" opacity="0.9" stroke-linecap="round"/></g>
<path d="M185.4,434 C185,442 181,447 181,454 C181,461 185.6,466 185.6,472.6 C185.6,479 181,484 181,491.3 C181,498.4 185.6,503 185.6,508.8 C185.6,515 181,520 181,526.2 C181,533 185.4,538 185.6,543 C185.6,545 185,546.6 185,548 H199.5 V434Z" fill="#f2adad"/>
<path d="M185.6,472.6 C189,474.6 194,475 199,474.6 M185.6,508.8 C189,510.8 194,511.2 199,510.8" stroke="#e39496" stroke-width="0.8" fill="none"/>
<ellipse cx="187.5" cy="454" rx="3" ry="5.6" fill="#e98488"/>
<ellipse cx="187.5" cy="491.3" rx="3" ry="5.6" fill="#e98488"/>
<ellipse cx="187.5" cy="526.2" rx="3" ry="5.6" fill="#e98488"/>
</g>
<g clip-path="url(#cAll)">
<rect x="193.2" y="333" width="6.2" height="212.60000000000002" fill="#c9605c"/>
<path d="M199.4,333 H201.4 C203,340 208,348 212,356 C215.5,363 216,370 213,377 C210,384 203.6,388 203.2,393.5 C203,399 206,405 209,412 C212,420 215.6,432 215.6,442 C215.6,452 211,460 207,467 C204,472 202.4,475 202.4,478.5 C202.4,483 206,489 210,496 C214,503 215.8,508 215.6,513 C215.4,520 211,527 207.4,533 C205,537 203,540 202.6,543 C202.6,544.4 203,545.6 203.4,546 H199.4Z" fill="#f7b264" stroke="#d98a38" stroke-width="0.8"/>
<ellipse cx="206.6" cy="369" rx="3.3" ry="6" fill="#e3934a"/>
<ellipse cx="206.2" cy="445.6" rx="3.3" ry="6" fill="#e3934a"/>
<ellipse cx="206.2" cy="513" rx="3.3" ry="6" fill="#e3934a"/>
<g fill="none" stroke="#82b887" stroke-linecap="round" stroke-linejoin="round"><path d="M258.5,405 C256,398 252,392 249.5,382 C248,376 247,372 246.6,369" stroke-width="2.6"/><path d="M258.5,405 C256,398 252,392 249.5,382 C248,376 247,372 246.6,369" stroke-width="4.2" stroke-dasharray="7 2000"/><path d="M258.5,405 C256,398 252,392 249.5,382 C248,376 247,372 246.6,369" stroke-width="3.4000000000000004" stroke-dasharray="13 2000"/><path d="M252,390 C247,384 241,378 239,370" stroke-width="1.6"/><path d="M258.5,405 C264,398 270,392 274,382 C278,374 282,368 287.5,362" stroke-width="2.6"/><path d="M258.5,405 C264,398 270,392 274,382 C278,374 282,368 287.5,362" stroke-width="4.2" stroke-dasharray="7 2000"/><path d="M258.5,405 C264,398 270,392 274,382 C278,374 282,368 287.5,362" stroke-width="3.4000000000000004" stroke-dasharray="13 2000"/><path d="M272,386 C270,380 269,376 268.4,372" stroke-width="1.6"/><path d="M280,374 C284,376 288,375 291.6,373.4 M287.5,362 l0.8,-2.6" stroke-width="1.6"/><path d="M258.5,405 C248,408 236,406 228,398 C224,394 220,390 211,389.6" stroke-width="2.6"/><path d="M258.5,405 C248,408 236,406 228,398 C224,394 220,390 211,389.6" stroke-width="4.2" stroke-dasharray="7 2000"/><path d="M258.5,405 C248,408 236,406 228,398 C224,394 220,390 211,389.6" stroke-width="3.4000000000000004" stroke-dasharray="13 2000"/><path d="M232,402 C233,396 234,392 233,386 M216,390 C214,392 212,394 210,394" stroke-width="1.5"/><path d="M258.5,405 C268,414 280,424 292,424.6 C300,424.6 304,420 304,408.6" stroke-width="2.8"/><path d="M258.5,405 C268,414 280,424 292,424.6 C300,424.6 304,420 304,408.6" stroke-width="4.4" stroke-dasharray="7 2000"/><path d="M258.5,405 C268,414 280,424 292,424.6 C300,424.6 304,420 304,408.6" stroke-width="3.5999999999999996" stroke-dasharray="13 2000"/><path d="M304,416 l-2.4,2.4" stroke-width="1.5"/><path d="M258.5,405 C254,414 248,424 240,430 C236,432 232,433.6 228,434.6" stroke-width="2.4"/><path d="M258.5,405 C254,414 248,424 240,430 C236,432 232,433.6 228,434.6" stroke-width="4.0" stroke-dasharray="7 2000"/><path d="M258.5,405 C254,414 248,424 240,430 C236,432 232,433.6 228,434.6" stroke-width="3.2" stroke-dasharray="13 2000"/><path d="M250,422 C251,426 252,430 252,435" stroke-width="1.5"/></g><polygon points="266.18,406.55 261.17,412.53 253.49,411.18 250.82,403.85 255.83,397.87 263.51,399.22" fill="#7db582" stroke="#7db582" stroke-width="2" stroke-linejoin="round"/><circle cx="258" cy="406.2" r="3.1" fill="#3f9458"/><circle cx="257.8" cy="406.4" r="1.5" fill="#1f6e3c"/>
<path d="M290.4,372.8 l2.6,-1.6 l0.6,3z M286.6,359 l2.4,-0.4 l-0.6,2.4z" fill="#82b887"/>
<g fill="none" stroke="#82b887" stroke-linecap="round" stroke-width="1.5"><path d="M240,436 C238,440 240,444 238,448 M238,448 l-2,1 M238,448 l2,1.4 M252,436 C252,440 251,443 251.6,446"/></g>
<g fill="none" stroke="#82b887" stroke-linecap="round" stroke-linejoin="round"><path d="M249.6,505 C248,496 246,488 247,478 C247,474 246,470 244,466" stroke-width="2.4"/><path d="M249.6,505 C248,496 246,488 247,478 C247,474 246,470 244,466" stroke-width="4.0" stroke-dasharray="7 2000"/><path d="M249.6,505 C248,496 246,488 247,478 C247,474 246,470 244,466" stroke-width="3.2" stroke-dasharray="13 2000"/><path d="M247,484 C250,478 252,474 252,469" stroke-width="1.5"/><path d="M249.6,505 C258,500 268,494 276,490 C282,488 290,488 296,490" stroke-width="2.6"/><path d="M249.6,505 C258,500 268,494 276,490 C282,488 290,488 296,490" stroke-width="4.2" stroke-dasharray="7 2000"/><path d="M249.6,505 C258,500 268,494 276,490 C282,488 290,488 296,490" stroke-width="3.4000000000000004" stroke-dasharray="13 2000"/><path d="M276,490 C280,486 286,484 290,482 M266,495 C268,490 268,486 266,482" stroke-width="1.5"/><path d="M249.6,505 C240,504 232,498 226,490 C222,486 218,484 214,484" stroke-width="2.4"/><path d="M249.6,505 C240,504 232,498 226,490 C222,486 218,484 214,484" stroke-width="4.0" stroke-dasharray="7 2000"/><path d="M249.6,505 C240,504 232,498 226,490 C222,486 218,484 214,484" stroke-width="3.2" stroke-dasharray="13 2000"/><path d="M249.6,505 C246,514 238,520 230,524 C224,526 220,530 218,538" stroke-width="2.4"/><path d="M249.6,505 C246,514 238,520 230,524 C224,526 220,530 218,538" stroke-width="4.0" stroke-dasharray="7 2000"/><path d="M249.6,505 C246,514 238,520 230,524 C224,526 220,530 218,538" stroke-width="3.2" stroke-dasharray="13 2000"/><path d="M236,521 C234,526 234,532 232,538 M224,527 C220,526 216,526 212,528" stroke-width="1.5"/><path d="M249.6,505 C254,514 258,524 260,534 C261,538 260,542 259,545" stroke-width="2.2"/><path d="M249.6,505 C254,514 258,524 260,534 C261,538 260,542 259,545" stroke-width="3.8000000000000003" stroke-dasharray="7 2000"/><path d="M249.6,505 C254,514 258,524 260,534 C261,538 260,542 259,545" stroke-width="3.0" stroke-dasharray="13 2000"/></g><polygon points="257.28,506.35 252.27,512.33 244.59,510.98 241.92,503.65 246.93,497.67 254.61,499.02" fill="#7db582" stroke="#7db582" stroke-width="2" stroke-linejoin="round"/><circle cx="249.1" cy="506" r="3.1" fill="#3f9458"/><circle cx="248.9" cy="506.2" r="1.5" fill="#1f6e3c"/>
<g fill="none" stroke="#82b887" stroke-linecap="round" stroke-linejoin="round"><path d="M322.4,452 C320,446 318,442 318.6,436" stroke-width="2.4"/><path d="M322.4,452 C320,446 318,442 318.6,436" stroke-width="4.0" stroke-dasharray="7 2000"/><path d="M322.4,452 C320,446 318,442 318.6,436" stroke-width="3.2" stroke-dasharray="13 2000"/><path d="M322.4,452 C314,450 306,448 298,444 C294,442 290,441 287,441.6" stroke-width="2.4"/><path d="M322.4,452 C314,450 306,448 298,444 C294,442 290,441 287,441.6" stroke-width="4.0" stroke-dasharray="7 2000"/><path d="M322.4,452 C314,450 306,448 298,444 C294,442 290,441 287,441.6" stroke-width="3.2" stroke-dasharray="13 2000"/><path d="M304,447 C302,443 300,440 296,438.4" stroke-width="1.5"/><path d="M322.4,452 C312,458 304,462 298,468 C296,470 295,474 294,478" stroke-width="2.4"/><path d="M322.4,452 C312,458 304,462 298,468 C296,470 295,474 294,478" stroke-width="4.0" stroke-dasharray="7 2000"/><path d="M322.4,452 C312,458 304,462 298,468 C296,470 295,474 294,478" stroke-width="3.2" stroke-dasharray="13 2000"/><path d="M306,461 C306,466 306,470 304,474" stroke-width="1.5"/><path d="M322.4,452 C330,450 336,446 341,441" stroke-width="2.4"/><path d="M322.4,452 C330,450 336,446 341,441" stroke-width="4.0" stroke-dasharray="7 2000"/><path d="M322.4,452 C330,450 336,446 341,441" stroke-width="3.2" stroke-dasharray="13 2000"/><path d="M322.4,452 C330,458 336,462 341.6,466" stroke-width="2.4"/><path d="M322.4,452 C330,458 336,462 341.6,466" stroke-width="4.0" stroke-dasharray="7 2000"/><path d="M322.4,452 C330,458 336,462 341.6,466" stroke-width="3.2" stroke-dasharray="13 2000"/></g><polygon points="329.7,453.29 324.93,458.96 317.64,457.68 315.1,450.71 319.87,445.04 327.16,446.32" fill="#7db582" stroke="#7db582" stroke-width="2" stroke-linejoin="round"/><circle cx="321.9" cy="453" r="2.945" fill="#3f9458"/><circle cx="321.7" cy="453.2" r="1.4249999999999998" fill="#1f6e3c"/>
<g fill="none" stroke="#82b887" stroke-linecap="round" stroke-width="1.5"><path d="M341,428 C336,428 330,430 326,434 M332,429 C330,424 329,420 329.6,416 M333,427 C336,424 338,421 339,418"/></g>
<g><circle cx="231.6" cy="485.7" r="12.899999999999999" fill="#b9cae6"/><line x1="240.39" y1="486.07" x2="243.79" y2="486.22" stroke="#efcdb9" stroke-width="2.3" stroke-linecap="round"/><line x1="240.05" y1="488.14" x2="243.32" y2="489.09" stroke="#a4c1e6" stroke-width="2.3" stroke-linecap="round"/><line x1="239.1" y1="490.31" x2="241.99" y2="492.09" stroke="#e9cbbd" stroke-width="2.3" stroke-linecap="round"/><line x1="237.55" y1="492.18" x2="239.85" y2="494.68" stroke="#b1c8e8" stroke-width="2.3" stroke-linecap="round"/><line x1="236.19" y1="493.21" x2="237.96" y2="496.11" stroke="#efcdb9" stroke-width="2.3" stroke-linecap="round"/><line x1="233.76" y1="494.23" x2="234.59" y2="497.53" stroke="#a4c1e6" stroke-width="2.3" stroke-linecap="round"/><line x1="231.23" y1="494.49" x2="231.08" y2="497.89" stroke="#e9cbbd" stroke-width="2.3" stroke-linecap="round"/><line x1="228.99" y1="494.1" x2="227.99" y2="497.35" stroke="#b1c8e8" stroke-width="2.3" stroke-linecap="round"/><line x1="227.14" y1="493.29" x2="225.42" y2="496.22" stroke="#efcdb9" stroke-width="2.3" stroke-linecap="round"/><line x1="225.6" y1="492.13" x2="223.28" y2="494.62" stroke="#a4c1e6" stroke-width="2.3" stroke-linecap="round"/><line x1="224.02" y1="490.17" x2="221.09" y2="491.9" stroke="#e9cbbd" stroke-width="2.3" stroke-linecap="round"/><line x1="222.99" y1="487.54" x2="219.67" y2="488.24" stroke="#b1c8e8" stroke-width="2.3" stroke-linecap="round"/><line x1="222.81" y1="486.07" x2="219.41" y2="486.21" stroke="#efcdb9" stroke-width="2.3" stroke-linecap="round"/><line x1="223.06" y1="483.58" x2="219.76" y2="482.77" stroke="#a4c1e6" stroke-width="2.3" stroke-linecap="round"/><line x1="224.19" y1="480.95" x2="221.33" y2="479.11" stroke="#e9cbbd" stroke-width="2.3" stroke-linecap="round"/><line x1="225.34" y1="479.51" x2="222.93" y2="477.12" stroke="#b1c8e8" stroke-width="2.3" stroke-linecap="round"/><line x1="226.97" y1="478.22" x2="225.18" y2="475.33" stroke="#efcdb9" stroke-width="2.3" stroke-linecap="round"/><line x1="229.16" y1="477.25" x2="228.22" y2="473.98" stroke="#a4c1e6" stroke-width="2.3" stroke-linecap="round"/><line x1="231.98" y1="476.91" x2="232.12" y2="473.51" stroke="#e9cbbd" stroke-width="2.3" stroke-linecap="round"/><line x1="233.73" y1="477.16" x2="234.55" y2="473.86" stroke="#b1c8e8" stroke-width="2.3" stroke-linecap="round"/><line x1="235.94" y1="478.05" x2="237.62" y2="475.09" stroke="#efcdb9" stroke-width="2.3" stroke-linecap="round"/><line x1="237.91" y1="479.56" x2="240.34" y2="477.19" stroke="#a4c1e6" stroke-width="2.3" stroke-linecap="round"/><line x1="239.36" y1="481.55" x2="242.36" y2="479.94" stroke="#e9cbbd" stroke-width="2.3" stroke-linecap="round"/><line x1="240.1" y1="483.42" x2="243.38" y2="482.53" stroke="#b1c8e8" stroke-width="2.3" stroke-linecap="round"/><circle cx="231.6" cy="485.7" r="8.299999999999999" fill="#c2d0ea"/><ellipse cx="234.57" cy="487.37" rx="2.8" ry="1.9" fill="#9dbde4" transform="rotate(8 234.57 487.37)"/><ellipse cx="232" cy="486.99" rx="2.8" ry="1.9" fill="#9dbde4" transform="rotate(64 232 486.99)"/><ellipse cx="230.83" cy="483.65" rx="2.8" ry="1.9" fill="#9dbde4" transform="rotate(176 230.83 483.65)"/><ellipse cx="231.45" cy="489.32" rx="2.8" ry="1.9" fill="#9dbde4" transform="rotate(5 231.45 489.32)"/><ellipse cx="231.4" cy="487.55" rx="2.4" ry="1.6" fill="#e8cdc0"/><ellipse cx="233.29" cy="483.07" rx="2.4" ry="1.6" fill="#e8cdc0"/><line x1="241.62" y1="486.93" x2="243.51" y2="487.16" stroke="#4a5876" stroke-width="1.5" opacity="0.9" stroke-linecap="round"/><line x1="237.94" y1="493.56" x2="239.13" y2="495.04" stroke="#4a5876" stroke-width="1.5" opacity="0.9" stroke-linecap="round"/><line x1="228.64" y1="495.36" x2="228.08" y2="497.17" stroke="#b08050" stroke-width="1.5" opacity="0.9" stroke-linecap="round"/><line x1="221.95" y1="488.69" x2="220.14" y2="489.25" stroke="#4a5876" stroke-width="1.5" opacity="0.9" stroke-linecap="round"/><line x1="222.79" y1="480.76" x2="221.13" y2="479.83" stroke="#b08050" stroke-width="1.5" opacity="0.9" stroke-linecap="round"/><line x1="229.01" y1="475.94" x2="228.52" y2="474.1" stroke="#b08050" stroke-width="1.5" opacity="0.9" stroke-linecap="round"/><line x1="239.03" y1="478.86" x2="240.43" y2="477.57" stroke="#3f475c" stroke-width="1.5" opacity="0.9" stroke-linecap="round"/></g>
<g><circle cx="280.9" cy="466" r="12.899999999999999" fill="#b9cae6"/><line x1="289.69" y1="465.69" x2="293.09" y2="465.57" stroke="#efcdb9" stroke-width="2.3" stroke-linecap="round"/><line x1="289.35" y1="468.45" x2="292.62" y2="469.39" stroke="#a4c1e6" stroke-width="2.3" stroke-linecap="round"/><line x1="288.46" y1="470.51" x2="291.38" y2="472.25" stroke="#e9cbbd" stroke-width="2.3" stroke-linecap="round"/><line x1="287.14" y1="472.21" x2="289.55" y2="474.61" stroke="#b1c8e8" stroke-width="2.3" stroke-linecap="round"/><line x1="285.52" y1="473.49" x2="287.31" y2="476.38" stroke="#efcdb9" stroke-width="2.3" stroke-linecap="round"/><line x1="282.92" y1="474.57" x2="283.7" y2="477.88" stroke="#a4c1e6" stroke-width="2.3" stroke-linecap="round"/><line x1="280.62" y1="474.8" x2="280.51" y2="478.19" stroke="#e9cbbd" stroke-width="2.3" stroke-linecap="round"/><line x1="278.61" y1="474.5" x2="277.73" y2="477.78" stroke="#b1c8e8" stroke-width="2.3" stroke-linecap="round"/><line x1="276.5" y1="473.62" x2="274.79" y2="476.56" stroke="#efcdb9" stroke-width="2.3" stroke-linecap="round"/><line x1="274.85" y1="472.39" x2="272.52" y2="474.86" stroke="#a4c1e6" stroke-width="2.3" stroke-linecap="round"/><line x1="273.52" y1="470.79" x2="270.67" y2="472.64" stroke="#e9cbbd" stroke-width="2.3" stroke-linecap="round"/><line x1="272.43" y1="468.39" x2="269.16" y2="469.32" stroke="#b1c8e8" stroke-width="2.3" stroke-linecap="round"/><line x1="272.1" y1="465.92" x2="268.7" y2="465.89" stroke="#efcdb9" stroke-width="2.3" stroke-linecap="round"/><line x1="272.31" y1="464.11" x2="268.99" y2="463.38" stroke="#a4c1e6" stroke-width="2.3" stroke-linecap="round"/><line x1="273.42" y1="461.37" x2="270.53" y2="459.58" stroke="#e9cbbd" stroke-width="2.3" stroke-linecap="round"/><line x1="274.51" y1="459.95" x2="272.03" y2="457.62" stroke="#b1c8e8" stroke-width="2.3" stroke-linecap="round"/><line x1="276.29" y1="458.51" x2="274.51" y2="455.61" stroke="#efcdb9" stroke-width="2.3" stroke-linecap="round"/><line x1="278.22" y1="457.62" x2="277.18" y2="454.38" stroke="#a4c1e6" stroke-width="2.3" stroke-linecap="round"/><line x1="281.36" y1="457.21" x2="281.54" y2="453.82" stroke="#e9cbbd" stroke-width="2.3" stroke-linecap="round"/><line x1="283.39" y1="457.56" x2="284.35" y2="454.3" stroke="#b1c8e8" stroke-width="2.3" stroke-linecap="round"/><line x1="285.6" y1="458.56" x2="287.41" y2="455.68" stroke="#efcdb9" stroke-width="2.3" stroke-linecap="round"/><line x1="287.2" y1="459.85" x2="289.63" y2="457.48" stroke="#a4c1e6" stroke-width="2.3" stroke-linecap="round"/><line x1="288.3" y1="461.23" x2="291.16" y2="459.39" stroke="#e9cbbd" stroke-width="2.3" stroke-linecap="round"/><line x1="289.36" y1="463.57" x2="292.63" y2="462.63" stroke="#b1c8e8" stroke-width="2.3" stroke-linecap="round"/><circle cx="280.9" cy="466" r="8.299999999999999" fill="#c2d0ea"/><ellipse cx="279.41" cy="466.03" rx="2.8" ry="1.9" fill="#9dbde4" transform="rotate(94 279.41 466.03)"/><ellipse cx="284.97" cy="466.6" rx="2.8" ry="1.9" fill="#9dbde4" transform="rotate(22 284.97 466.6)"/><ellipse cx="284.37" cy="469.46" rx="2.8" ry="1.9" fill="#9dbde4" transform="rotate(116 284.37 469.46)"/><ellipse cx="283.05" cy="469.44" rx="2.8" ry="1.9" fill="#9dbde4" transform="rotate(102 283.05 469.44)"/><ellipse cx="279.22" cy="466.16" rx="2.4" ry="1.6" fill="#e8cdc0"/><ellipse cx="284.99" cy="466.97" rx="2.4" ry="1.6" fill="#e8cdc0"/><line x1="290.62" y1="468.73" x2="292.45" y2="469.24" stroke="#4a5876" stroke-width="1.5" opacity="0.9" stroke-linecap="round"/><line x1="285.07" y1="475.2" x2="285.86" y2="476.93" stroke="#3f475c" stroke-width="1.5" opacity="0.9" stroke-linecap="round"/><line x1="277.56" y1="475.53" x2="276.93" y2="477.32" stroke="#b08050" stroke-width="1.5" opacity="0.9" stroke-linecap="round"/><line x1="271.06" y1="468.3" x2="269.21" y2="468.73" stroke="#b08050" stroke-width="1.5" opacity="0.9" stroke-linecap="round"/><line x1="272.46" y1="460.46" x2="270.87" y2="459.42" stroke="#4a5876" stroke-width="1.5" opacity="0.9" stroke-linecap="round"/><line x1="281.66" y1="455.93" x2="281.8" y2="454.03" stroke="#b08050" stroke-width="1.5" opacity="0.9" stroke-linecap="round"/><line x1="288.33" y1="459.16" x2="289.73" y2="457.88" stroke="#b08050" stroke-width="1.5" opacity="0.9" stroke-linecap="round"/></g>
<g><circle cx="322.4" cy="482.4" r="12.899999999999999" fill="#b9cae6"/><line x1="331.19" y1="482.82" x2="334.59" y2="482.99" stroke="#efcdb9" stroke-width="2.3" stroke-linecap="round"/><line x1="330.98" y1="484.36" x2="334.29" y2="485.11" stroke="#a4c1e6" stroke-width="2.3" stroke-linecap="round"/><line x1="330.23" y1="486.41" x2="333.26" y2="487.97" stroke="#e9cbbd" stroke-width="2.3" stroke-linecap="round"/><line x1="328.29" y1="488.94" x2="330.56" y2="491.47" stroke="#b1c8e8" stroke-width="2.3" stroke-linecap="round"/><line x1="327.05" y1="489.87" x2="328.85" y2="492.76" stroke="#efcdb9" stroke-width="2.3" stroke-linecap="round"/><line x1="325.01" y1="490.8" x2="326.02" y2="494.05" stroke="#a4c1e6" stroke-width="2.3" stroke-linecap="round"/><line x1="322.26" y1="491.2" x2="322.21" y2="494.6" stroke="#e9cbbd" stroke-width="2.3" stroke-linecap="round"/><line x1="320.26" y1="490.94" x2="319.43" y2="494.23" stroke="#b1c8e8" stroke-width="2.3" stroke-linecap="round"/><line x1="317.69" y1="489.84" x2="315.87" y2="492.71" stroke="#efcdb9" stroke-width="2.3" stroke-linecap="round"/><line x1="316.35" y1="488.79" x2="314.02" y2="491.27" stroke="#a4c1e6" stroke-width="2.3" stroke-linecap="round"/><line x1="314.58" y1="486.43" x2="311.55" y2="487.98" stroke="#e9cbbd" stroke-width="2.3" stroke-linecap="round"/><line x1="313.94" y1="484.84" x2="310.68" y2="485.78" stroke="#b1c8e8" stroke-width="2.3" stroke-linecap="round"/><line x1="313.6" y1="482.31" x2="310.2" y2="482.27" stroke="#efcdb9" stroke-width="2.3" stroke-linecap="round"/><line x1="314.01" y1="479.74" x2="310.77" y2="478.71" stroke="#a4c1e6" stroke-width="2.3" stroke-linecap="round"/><line x1="314.87" y1="477.85" x2="311.95" y2="476.1" stroke="#e9cbbd" stroke-width="2.3" stroke-linecap="round"/><line x1="316.46" y1="475.91" x2="314.16" y2="473.4" stroke="#b1c8e8" stroke-width="2.3" stroke-linecap="round"/><line x1="318.17" y1="474.68" x2="316.53" y2="471.7" stroke="#efcdb9" stroke-width="2.3" stroke-linecap="round"/><line x1="319.72" y1="474.02" x2="318.69" y2="470.78" stroke="#a4c1e6" stroke-width="2.3" stroke-linecap="round"/><line x1="322.75" y1="473.61" x2="322.89" y2="470.21" stroke="#e9cbbd" stroke-width="2.3" stroke-linecap="round"/><line x1="324.76" y1="473.92" x2="325.67" y2="470.65" stroke="#b1c8e8" stroke-width="2.3" stroke-linecap="round"/><line x1="326.65" y1="474.69" x2="328.29" y2="471.72" stroke="#efcdb9" stroke-width="2.3" stroke-linecap="round"/><line x1="328.42" y1="475.98" x2="330.74" y2="473.5" stroke="#a4c1e6" stroke-width="2.3" stroke-linecap="round"/><line x1="330.18" y1="478.28" x2="333.18" y2="476.69" stroke="#e9cbbd" stroke-width="2.3" stroke-linecap="round"/><line x1="330.92" y1="480.2" x2="334.21" y2="479.34" stroke="#b1c8e8" stroke-width="2.3" stroke-linecap="round"/><circle cx="322.4" cy="482.4" r="8.299999999999999" fill="#c2d0ea"/><ellipse cx="326.33" cy="480.77" rx="2.8" ry="1.9" fill="#9dbde4" transform="rotate(144 326.33 480.77)"/><ellipse cx="324.6" cy="483.29" rx="2.8" ry="1.9" fill="#9dbde4" transform="rotate(85 324.6 483.29)"/><ellipse cx="322.14" cy="487.41" rx="2.8" ry="1.9" fill="#9dbde4" transform="rotate(79 322.14 487.41)"/><ellipse cx="326.17" cy="479.67" rx="2.8" ry="1.9" fill="#9dbde4" transform="rotate(166 326.17 479.67)"/><ellipse cx="320.37" cy="482.21" rx="2.4" ry="1.6" fill="#e8cdc0"/><ellipse cx="321.94" cy="485.93" rx="2.4" ry="1.6" fill="#e8cdc0"/><line x1="331.93" y1="485.75" x2="333.72" y2="486.38" stroke="#3f475c" stroke-width="1.5" opacity="0.9" stroke-linecap="round"/><line x1="325.54" y1="492" x2="326.13" y2="493.81" stroke="#4a5876" stroke-width="1.5" opacity="0.9" stroke-linecap="round"/><line x1="316.67" y1="490.72" x2="315.6" y2="492.28" stroke="#b08050" stroke-width="1.5" opacity="0.9" stroke-linecap="round"/><line x1="312.35" y1="483.38" x2="310.46" y2="483.56" stroke="#4a5876" stroke-width="1.5" opacity="0.9" stroke-linecap="round"/><line x1="315.21" y1="475.31" x2="313.86" y2="473.97" stroke="#4a5876" stroke-width="1.5" opacity="0.9" stroke-linecap="round"/><line x1="323.68" y1="472.38" x2="323.92" y2="470.5" stroke="#3f475c" stroke-width="1.5" opacity="0.9" stroke-linecap="round"/><line x1="330.9" y1="476.95" x2="332.5" y2="475.92" stroke="#b08050" stroke-width="1.5" opacity="0.9" stroke-linecap="round"/></g>
<g><circle cx="264" cy="524.9" r="12.899999999999999" fill="#b9cae6"/><line x1="272.79" y1="525.29" x2="276.19" y2="525.44" stroke="#efcdb9" stroke-width="2.3" stroke-linecap="round"/><line x1="272.38" y1="527.57" x2="275.62" y2="528.61" stroke="#a4c1e6" stroke-width="2.3" stroke-linecap="round"/><line x1="271.43" y1="529.61" x2="274.31" y2="531.43" stroke="#e9cbbd" stroke-width="2.3" stroke-linecap="round"/><line x1="270.49" y1="530.85" x2="272.99" y2="533.14" stroke="#b1c8e8" stroke-width="2.3" stroke-linecap="round"/><line x1="268.33" y1="532.56" x2="270" y2="535.52" stroke="#efcdb9" stroke-width="2.3" stroke-linecap="round"/><line x1="266.35" y1="533.38" x2="267.25" y2="536.66" stroke="#a4c1e6" stroke-width="2.3" stroke-linecap="round"/><line x1="263.97" y1="533.7" x2="263.96" y2="537.1" stroke="#e9cbbd" stroke-width="2.3" stroke-linecap="round"/><line x1="262.05" y1="533.48" x2="261.3" y2="536.8" stroke="#b1c8e8" stroke-width="2.3" stroke-linecap="round"/><line x1="259.85" y1="532.66" x2="258.24" y2="535.66" stroke="#efcdb9" stroke-width="2.3" stroke-linecap="round"/><line x1="257.81" y1="531.16" x2="255.42" y2="533.58" stroke="#a4c1e6" stroke-width="2.3" stroke-linecap="round"/><line x1="256.51" y1="529.52" x2="253.62" y2="531.31" stroke="#e9cbbd" stroke-width="2.3" stroke-linecap="round"/><line x1="255.51" y1="527.22" x2="252.23" y2="528.11" stroke="#b1c8e8" stroke-width="2.3" stroke-linecap="round"/><line x1="255.21" y1="525.34" x2="251.82" y2="525.51" stroke="#efcdb9" stroke-width="2.3" stroke-linecap="round"/><line x1="255.41" y1="522.99" x2="252.09" y2="522.26" stroke="#a4c1e6" stroke-width="2.3" stroke-linecap="round"/><line x1="256.48" y1="520.33" x2="253.57" y2="518.57" stroke="#e9cbbd" stroke-width="2.3" stroke-linecap="round"/><line x1="257.73" y1="518.73" x2="255.3" y2="516.34" stroke="#b1c8e8" stroke-width="2.3" stroke-linecap="round"/><line x1="259.61" y1="517.27" x2="257.91" y2="514.33" stroke="#efcdb9" stroke-width="2.3" stroke-linecap="round"/><line x1="261.93" y1="516.35" x2="261.13" y2="513.04" stroke="#a4c1e6" stroke-width="2.3" stroke-linecap="round"/><line x1="263.87" y1="516.1" x2="263.82" y2="512.7" stroke="#e9cbbd" stroke-width="2.3" stroke-linecap="round"/><line x1="265.88" y1="516.3" x2="266.61" y2="512.98" stroke="#b1c8e8" stroke-width="2.3" stroke-linecap="round"/><line x1="268.62" y1="517.41" x2="270.41" y2="514.52" stroke="#efcdb9" stroke-width="2.3" stroke-linecap="round"/><line x1="270.28" y1="518.74" x2="272.71" y2="516.35" stroke="#a4c1e6" stroke-width="2.3" stroke-linecap="round"/><line x1="271.69" y1="520.63" x2="274.66" y2="518.98" stroke="#e9cbbd" stroke-width="2.3" stroke-linecap="round"/><line x1="272.53" y1="522.73" x2="275.82" y2="521.89" stroke="#b1c8e8" stroke-width="2.3" stroke-linecap="round"/><circle cx="264" cy="524.9" r="8.299999999999999" fill="#c2d0ea"/><ellipse cx="266.48" cy="524.43" rx="2.8" ry="1.9" fill="#9dbde4" transform="rotate(94 266.48 524.43)"/><ellipse cx="266.14" cy="524.47" rx="2.8" ry="1.9" fill="#9dbde4" transform="rotate(80 266.14 524.47)"/><ellipse cx="260.03" cy="522.95" rx="2.8" ry="1.9" fill="#9dbde4" transform="rotate(45 260.03 522.95)"/><ellipse cx="263.3" cy="521.49" rx="2.8" ry="1.9" fill="#9dbde4" transform="rotate(114 263.3 521.49)"/><ellipse cx="263.27" cy="523.47" rx="2.4" ry="1.6" fill="#e8cdc0"/><ellipse cx="264.89" cy="522.06" rx="2.4" ry="1.6" fill="#e8cdc0"/><line x1="272.38" y1="530.54" x2="273.95" y2="531.6" stroke="#3f475c" stroke-width="1.5" opacity="0.9" stroke-linecap="round"/><line x1="265.88" y1="534.82" x2="266.24" y2="536.69" stroke="#b08050" stroke-width="1.5" opacity="0.9" stroke-linecap="round"/><line x1="257.5" y1="532.63" x2="256.28" y2="534.08" stroke="#4a5876" stroke-width="1.5" opacity="0.9" stroke-linecap="round"/><line x1="254.2" y1="522.44" x2="252.36" y2="521.97" stroke="#4a5876" stroke-width="1.5" opacity="0.9" stroke-linecap="round"/><line x1="259.55" y1="515.83" x2="258.72" y2="514.13" stroke="#4a5876" stroke-width="1.5" opacity="0.9" stroke-linecap="round"/><line x1="266.67" y1="515.16" x2="267.17" y2="513.33" stroke="#4a5876" stroke-width="1.5" opacity="0.9" stroke-linecap="round"/><line x1="273.65" y1="521.92" x2="275.47" y2="521.36" stroke="#b08050" stroke-width="1.5" opacity="0.9" stroke-linecap="round"/></g>
<g><circle cx="316.9" cy="526" r="12.899999999999999" fill="#b9cae6"/><line x1="325.7" y1="526.2" x2="329.1" y2="526.27" stroke="#efcdb9" stroke-width="2.3" stroke-linecap="round"/><line x1="325.31" y1="528.58" x2="328.56" y2="529.57" stroke="#a4c1e6" stroke-width="2.3" stroke-linecap="round"/><line x1="324.66" y1="530.14" x2="327.66" y2="531.75" stroke="#e9cbbd" stroke-width="2.3" stroke-linecap="round"/><line x1="322.79" y1="532.54" x2="325.07" y2="535.06" stroke="#b1c8e8" stroke-width="2.3" stroke-linecap="round"/><line x1="321.54" y1="533.48" x2="323.34" y2="536.36" stroke="#efcdb9" stroke-width="2.3" stroke-linecap="round"/><line x1="319.03" y1="534.54" x2="319.85" y2="537.84" stroke="#a4c1e6" stroke-width="2.3" stroke-linecap="round"/><line x1="317.28" y1="534.79" x2="317.42" y2="538.19" stroke="#e9cbbd" stroke-width="2.3" stroke-linecap="round"/><line x1="314.39" y1="534.44" x2="313.43" y2="537.69" stroke="#b1c8e8" stroke-width="2.3" stroke-linecap="round"/><line x1="312.78" y1="533.78" x2="311.19" y2="536.78" stroke="#efcdb9" stroke-width="2.3" stroke-linecap="round"/><line x1="310.54" y1="532.09" x2="308.09" y2="534.44" stroke="#a4c1e6" stroke-width="2.3" stroke-linecap="round"/><line x1="309.18" y1="530.22" x2="306.19" y2="531.85" stroke="#e9cbbd" stroke-width="2.3" stroke-linecap="round"/><line x1="308.34" y1="528.04" x2="305.03" y2="528.83" stroke="#b1c8e8" stroke-width="2.3" stroke-linecap="round"/><line x1="308.1" y1="526.05" x2="304.7" y2="526.07" stroke="#efcdb9" stroke-width="2.3" stroke-linecap="round"/><line x1="308.49" y1="523.4" x2="305.25" y2="522.39" stroke="#a4c1e6" stroke-width="2.3" stroke-linecap="round"/><line x1="309.51" y1="521.22" x2="306.66" y2="519.37" stroke="#e9cbbd" stroke-width="2.3" stroke-linecap="round"/><line x1="310.43" y1="520.03" x2="307.93" y2="517.73" stroke="#b1c8e8" stroke-width="2.3" stroke-linecap="round"/><line x1="312.51" y1="518.37" x2="310.82" y2="515.42" stroke="#efcdb9" stroke-width="2.3" stroke-linecap="round"/><line x1="315.03" y1="517.4" x2="314.31" y2="514.08" stroke="#a4c1e6" stroke-width="2.3" stroke-linecap="round"/><line x1="317.12" y1="517.2" x2="317.21" y2="513.8" stroke="#e9cbbd" stroke-width="2.3" stroke-linecap="round"/><line x1="319.13" y1="517.49" x2="319.99" y2="514.2" stroke="#b1c8e8" stroke-width="2.3" stroke-linecap="round"/><line x1="321.14" y1="518.29" x2="322.78" y2="515.31" stroke="#efcdb9" stroke-width="2.3" stroke-linecap="round"/><line x1="323.41" y1="520.08" x2="325.93" y2="517.79" stroke="#a4c1e6" stroke-width="2.3" stroke-linecap="round"/><line x1="324.32" y1="521.27" x2="327.19" y2="519.45" stroke="#e9cbbd" stroke-width="2.3" stroke-linecap="round"/><line x1="325.46" y1="523.96" x2="328.77" y2="523.17" stroke="#b1c8e8" stroke-width="2.3" stroke-linecap="round"/><circle cx="316.9" cy="526" r="8.299999999999999" fill="#c2d0ea"/><ellipse cx="317.82" cy="524.61" rx="2.8" ry="1.9" fill="#9dbde4" transform="rotate(83 317.82 524.61)"/><ellipse cx="318.17" cy="525.67" rx="2.8" ry="1.9" fill="#9dbde4" transform="rotate(166 318.17 525.67)"/><ellipse cx="313.72" cy="529.53" rx="2.8" ry="1.9" fill="#9dbde4" transform="rotate(54 313.72 529.53)"/><ellipse cx="314.98" cy="530.35" rx="2.8" ry="1.9" fill="#9dbde4" transform="rotate(17 314.98 530.35)"/><ellipse cx="316.19" cy="527.77" rx="2.4" ry="1.6" fill="#e8cdc0"/><ellipse cx="315.61" cy="525.11" rx="2.4" ry="1.6" fill="#e8cdc0"/><line x1="324.38" y1="532.79" x2="325.78" y2="534.07" stroke="#4a5876" stroke-width="1.5" opacity="0.9" stroke-linecap="round"/><line x1="316.8" y1="536.1" x2="316.79" y2="538" stroke="#4a5876" stroke-width="1.5" opacity="0.9" stroke-linecap="round"/><line x1="308.05" y1="530.87" x2="306.39" y2="531.78" stroke="#3f475c" stroke-width="1.5" opacity="0.9" stroke-linecap="round"/><line x1="307.28" y1="522.92" x2="305.47" y2="522.34" stroke="#4a5876" stroke-width="1.5" opacity="0.9" stroke-linecap="round"/><line x1="313.49" y1="516.49" x2="312.84" y2="514.71" stroke="#4a5876" stroke-width="1.5" opacity="0.9" stroke-linecap="round"/><line x1="321.83" y1="517.19" x2="322.76" y2="515.53" stroke="#4a5876" stroke-width="1.5" opacity="0.9" stroke-linecap="round"/><line x1="326.86" y1="524.35" x2="328.74" y2="524.04" stroke="#4a5876" stroke-width="1.5" opacity="0.9" stroke-linecap="round"/></g>
</g>
<rect x="121.4" y="333" width="220.4" height="212.60000000000002" fill="none" stroke="#0c0c0c" stroke-width="1.6"/>
<line x1="121.4" y1="434.6" x2="341.8" y2="434.6" stroke="#0c0c0c" stroke-width="1.5"/>
<path d="M174.4,331 V564.6 H215.4 V331" fill="none" stroke="#e02126" stroke-width="1.4" stroke-dasharray="5 2.6"/>
<path d="M174.4,331.4 H215.4" fill="none" stroke="#e02126" stroke-width="1.4" stroke-dasharray="5 2.6" opacity="0.0"/>
<text x="126.9" y="348.4" font-size="10.6" fill="#111" textLength="35" lengthAdjust="spacingAndGlyphs" >Uptake</text>
<text x="128" y="451.6" font-size="10.6" fill="#111" textLength="47" lengthAdjust="spacingAndGlyphs" >Transport</text>
<text x="139.6" y="559.2" font-size="11" fill="#111" textLength="28.2" lengthAdjust="spacingAndGlyphs" >Blood</text>
<text x="184.1" y="558.8" font-size="11" fill="#111" textLength="20" lengthAdjust="spacingAndGlyphs" >BBB</text>
<text x="261.6" y="558.6" font-size="11" fill="#111" textLength="25.3" lengthAdjust="spacingAndGlyphs" >Brain</text>
<text x="411.6" y="325.4" font-size="12.4" fill="#111" font-weight="bold" textLength="230.4" lengthAdjust="spacingAndGlyphs" >Uptake and transport of Hybrid exosome</text>
<text x="388.6" y="342" font-size="11.4" fill="#111" textLength="107.4" lengthAdjust="spacingAndGlyphs" >Exosome / Cubosome</text>
<path d="M505,342.4 V333.6 M500.9,337.8 L505,333.5 L509.1,337.8" stroke="#222" stroke-width="1.05" fill="none"/>
<text x="552.2" y="342" font-size="11.4" fill="#111" textLength="107.4" lengthAdjust="spacingAndGlyphs" >Exosome / Cubosome</text>
<path d="M667.8,333.4 V342.4 M663.7,338.2 L667.8,342.5 L671.9,338.2" stroke="#222" stroke-width="1.05" fill="none"/>
<g clip-path="url(#cM1)">
<rect x="372.6" y="348.4" width="131.2" height="101.6" fill="#0d0404"/>
<rect x="372.6" y="348.4" width="131.2" height="101.6" fill="url(#gM1)"/>
<g mask="url(#mM1)"><rect x="372.6" y="348.4" width="131.2" height="101.6" filter="url(#nR1)"/></g>
<g mask="url(#mG1)"><rect x="372.6" y="348.4" width="36" height="101.6" fill="#0f330c"/><rect x="372.6" y="348.4" width="36" height="101.6" filter="url(#nG)"/></g>
<circle cx="390" cy="372" r="1.5" fill="#e8c020" filter="url(#fSp)"/>
<circle cx="391" cy="377" r="1.2" fill="#f0a010" filter="url(#fSp)"/>
<circle cx="389" cy="363" r="1.1" fill="#d8b020" filter="url(#fSp)"/>
<circle cx="388" cy="419" r="1.7" fill="#e8b818" filter="url(#fSp)"/>
<circle cx="392" cy="423" r="1.3" fill="#f0c828" filter="url(#fSp)"/>
<circle cx="394" cy="417" r="1.1" fill="#d89018" filter="url(#fSp)"/>
<circle cx="386" cy="428" r="1.1" fill="#c8a020" filter="url(#fSp)"/>
<circle cx="387" cy="399" r="0.9" fill="#b09018" filter="url(#fSp)"/>
<ellipse cx="397.4" cy="376.4" rx="3.2" ry="2.2" fill="#38c838" filter="url(#fSp)"/>
<ellipse cx="398" cy="352.6" rx="3" ry="1.8" fill="#34c030" filter="url(#fSp)"/>
<circle cx="421" cy="409" r="1.3" fill="#b02058" filter="url(#fSp)"/>
</g>
<rect x="456.2" y="429.8" width="44.2" height="18.2" fill="#fff"/>
<text x="466.8" y="441.6" font-size="9" fill="#111" textLength="27" lengthAdjust="spacingAndGlyphs" >200µm</text>
<rect x="461" y="443.3" width="35.6" height="1.5" fill="#111"/>
<rect x="507.8" y="355" width="5.4" height="86.6" fill="url(#gCbar)"/>
<text x="504.6" y="352.6" font-size="6.2" fill="#444" textLength="9.4" lengthAdjust="spacingAndGlyphs" >255</text>
<text x="509" y="449.4" font-size="6.2" fill="#444" >0</text>
<g clip-path="url(#cM2)">
<rect x="542.4" y="348.4" width="131.2" height="101.6" fill="#220606"/>
<rect x="542.4" y="348.4" width="131.2" height="101.6" filter="url(#nRc)" opacity="0.7"/>
<rect x="542.4" y="348.4" width="131.2" height="101.6" filter="url(#nR2)" opacity="0.8"/>
<g mask="url(#mG2)"><rect x="542.4" y="348.4" width="32" height="101.6" fill="#123e0d"/><rect x="542.4" y="348.4" width="32" height="101.6" filter="url(#nG2)"/></g>
<circle cx="598" cy="384" r="1.2" fill="#c82424" filter="url(#fSp)"/>
<circle cx="620" cy="397" r="1.4" fill="#c82424" filter="url(#fSp)"/>
<circle cx="603" cy="358" r="1.1" fill="#c82424" filter="url(#fSp)"/>
<circle cx="640" cy="371" r="1.1" fill="#c82424" filter="url(#fSp)"/>
<circle cx="575" cy="420" r="1.2" fill="#c82424" filter="url(#fSp)"/>
<circle cx="661" cy="388" r="1.0" fill="#c82424" filter="url(#fSp)"/>
<circle cx="590" cy="436" r="1.1" fill="#c82424" filter="url(#fSp)"/>
<circle cx="632" cy="428" r="1.1" fill="#c82424" filter="url(#fSp)"/>
<circle cx="610" cy="411" r="1.0" fill="#c82424" filter="url(#fSp)"/>
<circle cx="585" cy="399" r="1.1" fill="#c82424" filter="url(#fSp)"/>
</g>
<rect x="626.2" y="429.8" width="44.2" height="18.2" fill="#fff"/>
<text x="636.8" y="441.6" font-size="9" fill="#111" textLength="27" lengthAdjust="spacingAndGlyphs" >200µm</text>
<rect x="631" y="443.3" width="35.6" height="1.5" fill="#111"/>
<rect x="677.7" y="355" width="5.2" height="86.6" fill="url(#gCbar)"/>
<text x="675" y="352.6" font-size="6.2" fill="#444" textLength="9.4" lengthAdjust="spacingAndGlyphs" >255</text>
<text x="678.6" y="449.4" font-size="6.2" fill="#444" >0</text>
<text transform="translate(367.6 409.6) rotate(-90)" font-size="8.4" textLength="62.5" lengthAdjust="spacingAndGlyphs"><tspan fill="#46c283">Lectin </tspan><tspan fill="#e6584c">TexasRed</tspan></text>
<text transform="translate(537.4 409.6) rotate(-90)" font-size="8.4" textLength="62.5" lengthAdjust="spacingAndGlyphs"><tspan fill="#46c283">Lectin </tspan><tspan fill="#e6584c">TexasRed</tspan></text>
<rect x="372.8" y="455.6" width="130.6" height="85.9" fill="#fff"/>
<rect x="373.4" y="456.2" width="10" height="84.9" fill="#7cf07c"/>
<line x1="383.4" y1="455.6" x2="383.4" y2="541.5" stroke="#2a8a3a" stroke-width="0.7" stroke-dasharray="1 1"/>
<g fill="#e4524e" stroke="#3a1010" stroke-width="0.55"><rect x="373.5" y="526.04" width="2.63" height="15.46"/><rect x="376.13" y="523.17" width="2.63" height="18.33"/><rect x="378.76" y="524.32" width="2.63" height="17.18"/><rect x="381.38" y="520.88" width="2.63" height="20.62"/><rect x="384.01" y="514.01" width="2.63" height="27.49"/><rect x="386.64" y="499.7" width="2.63" height="41.8"/><rect x="389.27" y="481.37" width="2.63" height="60.13"/><rect x="391.9" y="484.23" width="2.63" height="57.27"/><rect x="394.52" y="482.52" width="2.63" height="58.98"/><rect x="397.15" y="492.25" width="2.63" height="49.25"/><rect x="399.78" y="493.97" width="2.63" height="47.53"/><rect x="402.41" y="493.97" width="2.63" height="47.53"/><rect x="405.04" y="504.85" width="2.63" height="36.65"/><rect x="407.66" y="512.29" width="2.63" height="29.21"/><rect x="410.29" y="510.58" width="2.63" height="30.92"/><rect x="412.92" y="520.6" width="2.63" height="20.9"/><rect x="415.55" y="520.31" width="2.63" height="21.19"/><rect x="418.18" y="518.02" width="2.63" height="23.48"/><rect x="420.8" y="517.45" width="2.63" height="24.05"/><rect x="423.43" y="523.17" width="2.63" height="18.33"/><rect x="426.06" y="523.75" width="2.63" height="17.75"/><rect x="428.69" y="523.75" width="2.63" height="17.75"/><rect x="431.32" y="522.6" width="2.63" height="18.9"/><rect x="433.94" y="527.76" width="2.63" height="13.74"/><rect x="436.57" y="527.18" width="2.63" height="14.32"/><rect x="439.2" y="524.32" width="2.63" height="17.18"/><rect x="441.83" y="525.47" width="2.63" height="16.03"/><rect x="444.46" y="526.61" width="2.63" height="14.89"/><rect x="447.08" y="527.18" width="2.63" height="14.32"/><rect x="449.71" y="525.47" width="2.63" height="16.03"/><rect x="452.34" y="524.32" width="2.63" height="17.18"/><rect x="454.97" y="526.32" width="2.63" height="15.18"/><rect x="457.6" y="527.76" width="2.63" height="13.74"/><rect x="460.22" y="527.18" width="2.63" height="14.32"/><rect x="462.85" y="527.18" width="2.63" height="14.32"/><rect x="465.48" y="527.76" width="2.63" height="13.74"/><rect x="468.11" y="528.9" width="2.63" height="12.6"/><rect x="470.74" y="529.47" width="2.63" height="12.03"/><rect x="473.36" y="528.9" width="2.63" height="12.6"/><rect x="475.99" y="528.9" width="2.63" height="12.6"/><rect x="478.62" y="530.05" width="2.63" height="11.45"/><rect x="481.25" y="528.62" width="2.63" height="12.88"/><rect x="483.88" y="529.47" width="2.63" height="12.03"/><rect x="486.5" y="530.05" width="2.63" height="11.45"/><rect x="489.13" y="530.62" width="2.63" height="10.88"/><rect x="491.76" y="530.91" width="2.63" height="10.59"/><rect x="494.39" y="530.62" width="2.63" height="10.88"/><rect x="497.02" y="530.05" width="2.63" height="11.45"/></g>
<rect x="372.8" y="455.6" width="130.6" height="85.9" fill="none" stroke="#222" stroke-width="0.9"/>
<line x1="374.6" y1="541.5" x2="374.6" y2="543.3" stroke="#222" stroke-width="0.7"/>
<text x="374.6" y="550.7" font-size="6.2" fill="#222" font-weight="bold" text-anchor="middle" >0</text>
<line x1="401" y1="541.5" x2="401" y2="543.3" stroke="#222" stroke-width="0.7"/>
<text x="401" y="550.7" font-size="6.2" fill="#222" font-weight="bold" text-anchor="middle" >100</text>
<line x1="427.4" y1="541.5" x2="427.4" y2="543.3" stroke="#222" stroke-width="0.7"/>
<text x="427.4" y="550.7" font-size="6.2" fill="#222" font-weight="bold" text-anchor="middle" >200</text>
<line x1="453.8" y1="541.5" x2="453.8" y2="543.3" stroke="#222" stroke-width="0.7"/>
<text x="453.8" y="550.7" font-size="6.2" fill="#222" font-weight="bold" text-anchor="middle" >300</text>
<line x1="480.2" y1="541.5" x2="480.2" y2="543.3" stroke="#222" stroke-width="0.7"/>
<text x="480.2" y="550.7" font-size="6.2" fill="#222" font-weight="bold" text-anchor="middle" >400</text>
<line x1="371" y1="541.5" x2="372.8" y2="541.5" stroke="#222" stroke-width="0.7"/>
<text transform="translate(368.8 541.5) rotate(-90)" font-size="6.2" font-weight="bold" text-anchor="middle" fill="#222">0</text>
<line x1="371" y1="512.87" x2="372.8" y2="512.87" stroke="#222" stroke-width="0.7"/>
<text transform="translate(368.8 512.87) rotate(-90)" font-size="6.2" font-weight="bold" text-anchor="middle" fill="#222">5</text>
<line x1="371" y1="484.23" x2="372.8" y2="484.23" stroke="#222" stroke-width="0.7"/>
<text transform="translate(368.8 484.23) rotate(-90)" font-size="6.2" font-weight="bold" text-anchor="middle" fill="#222">10</text>
<line x1="371" y1="455.6" x2="372.8" y2="455.6" stroke="#222" stroke-width="0.7"/>
<text transform="translate(368.8 455.6) rotate(-90)" font-size="6.2" font-weight="bold" text-anchor="middle" fill="#222">15</text>
<text x="385.2" y="464.6" font-size="8.8" fill="#222" textLength="54.5" lengthAdjust="spacingAndGlyphs" >BBB boundary</text>
<text x="433.4" y="563.6" font-size="9" fill="#222" text-anchor="middle" textLength="53.8" lengthAdjust="spacingAndGlyphs" >Distance [µm]</text>
<text transform="translate(351.8 492.55) rotate(-90)" font-size="8.8" text-anchor="middle" fill="#222" textLength="117" lengthAdjust="spacingAndGlyphs">Average Fluorescence intensity</text>
<text transform="translate(360.5 492.95) rotate(-90)" font-size="8.8" text-anchor="middle" fill="#222" textLength="42" lengthAdjust="spacingAndGlyphs">[arb. units]</text>
<rect x="543" y="455.6" width="129.8" height="85.9" fill="#fff"/>
<rect x="543.6" y="456.2" width="13" height="84.9" fill="#7cf07c"/>
<line x1="556.6" y1="455.6" x2="556.6" y2="541.5" stroke="#2a8a3a" stroke-width="0.7" stroke-dasharray="1 1"/>
<g fill="#e4524e" stroke="#3a1010" stroke-width="0.55"><rect x="543.7" y="527.47" width="2.63" height="14.03"/><rect x="546.33" y="526.04" width="2.63" height="15.46"/><rect x="548.96" y="527.18" width="2.63" height="14.32"/><rect x="551.58" y="525.75" width="2.63" height="15.75"/><rect x="554.21" y="524.32" width="2.63" height="17.18"/><rect x="556.84" y="523.75" width="2.63" height="17.75"/><rect x="559.47" y="520.88" width="2.63" height="20.62"/><rect x="562.1" y="513.73" width="2.63" height="27.77"/><rect x="564.72" y="507.14" width="2.63" height="34.36"/><rect x="567.35" y="515.73" width="2.63" height="25.77"/><rect x="569.98" y="516.3" width="2.63" height="25.2"/><rect x="572.61" y="513.73" width="2.63" height="27.77"/><rect x="575.24" y="516.3" width="2.63" height="25.2"/><rect x="577.86" y="518.59" width="2.63" height="22.91"/><rect x="580.49" y="513.44" width="2.63" height="28.06"/><rect x="583.12" y="512.87" width="2.63" height="28.63"/><rect x="585.75" y="510" width="2.63" height="31.5"/><rect x="588.38" y="508" width="2.63" height="33.5"/><rect x="591" y="511.15" width="2.63" height="30.35"/><rect x="593.63" y="516.3" width="2.63" height="25.2"/><rect x="596.26" y="507.14" width="2.63" height="34.36"/><rect x="598.89" y="508" width="2.63" height="33.5"/><rect x="601.52" y="514.58" width="2.63" height="26.92"/><rect x="604.14" y="511.72" width="2.63" height="29.78"/><rect x="606.77" y="492.82" width="2.63" height="48.68"/><rect x="609.4" y="489.96" width="2.63" height="51.54"/><rect x="612.03" y="493.68" width="2.63" height="47.82"/><rect x="614.66" y="504.85" width="2.63" height="36.65"/><rect x="617.28" y="501.99" width="2.63" height="39.51"/><rect x="619.91" y="505.14" width="2.63" height="36.36"/><rect x="622.54" y="502.56" width="2.63" height="38.94"/><rect x="625.17" y="499.7" width="2.63" height="41.8"/><rect x="627.8" y="503.7" width="2.63" height="37.8"/><rect x="630.42" y="507.14" width="2.63" height="34.36"/><rect x="633.05" y="507.14" width="2.63" height="34.36"/><rect x="635.68" y="510" width="2.63" height="31.5"/><rect x="638.31" y="517.45" width="2.63" height="24.05"/><rect x="640.94" y="513.44" width="2.63" height="28.06"/><rect x="643.56" y="516.3" width="2.63" height="25.2"/><rect x="646.19" y="519.74" width="2.63" height="21.76"/><rect x="648.82" y="519.17" width="2.63" height="22.33"/><rect x="651.45" y="522.32" width="2.63" height="19.18"/><rect x="654.08" y="514.01" width="2.63" height="27.49"/><rect x="656.7" y="509.43" width="2.63" height="32.07"/><rect x="659.33" y="495.69" width="2.63" height="45.81"/><rect x="661.96" y="507.14" width="2.63" height="34.36"/><rect x="664.59" y="509.72" width="2.63" height="31.78"/><rect x="667.22" y="515.73" width="2.63" height="25.77"/></g>
<rect x="543" y="455.6" width="129.8" height="85.9" fill="none" stroke="#222" stroke-width="0.9"/>
<line x1="544.8" y1="541.5" x2="544.8" y2="543.3" stroke="#222" stroke-width="0.7"/>
<text x="544.8" y="550.7" font-size="6.2" fill="#222" font-weight="bold" text-anchor="middle" >0</text>
<line x1="570.9" y1="541.5" x2="570.9" y2="543.3" stroke="#222" stroke-width="0.7"/>
<text x="570.9" y="550.7" font-size="6.2" fill="#222" font-weight="bold" text-anchor="middle" >100</text>
<line x1="597" y1="541.5" x2="597" y2="543.3" stroke="#222" stroke-width="0.7"/>
<text x="597" y="550.7" font-size="6.2" fill="#222" font-weight="bold" text-anchor="middle" >200</text>
<line x1="623.1" y1="541.5" x2="623.1" y2="543.3" stroke="#222" stroke-width="0.7"/>
<text x="623.1" y="550.7" font-size="6.2" fill="#222" font-weight="bold" text-anchor="middle" >300</text>
<line x1="649.2" y1="541.5" x2="649.2" y2="543.3" stroke="#222" stroke-width="0.7"/>
<text x="649.2" y="550.7" font-size="6.2" fill="#222" font-weight="bold" text-anchor="middle" >400</text>
<line x1="541.2" y1="541.5" x2="543" y2="541.5" stroke="#222" stroke-width="0.7"/>
<text transform="translate(539 541.5) rotate(-90)" font-size="6.2" font-weight="bold" text-anchor="middle" fill="#222">0</text>
<line x1="541.2" y1="512.87" x2="543" y2="512.87" stroke="#222" stroke-width="0.7"/>
<text transform="translate(539 512.87) rotate(-90)" font-size="6.2" font-weight="bold" text-anchor="middle" fill="#222">5</text>
<line x1="541.2" y1="484.23" x2="543" y2="484.23" stroke="#222" stroke-width="0.7"/>
<text transform="translate(539 484.23) rotate(-90)" font-size="6.2" font-weight="bold" text-anchor="middle" fill="#222">10</text>
<line x1="541.2" y1="455.6" x2="543" y2="455.6" stroke="#222" stroke-width="0.7"/>
<text transform="translate(539 455.6) rotate(-90)" font-size="6.2" font-weight="bold" text-anchor="middle" fill="#222">15</text>
<text x="558.4" y="464.6" font-size="8.8" fill="#222" textLength="54.5" lengthAdjust="spacingAndGlyphs" >BBB boundary</text>
<text x="607" y="563.6" font-size="9" fill="#222" text-anchor="middle" textLength="53.8" lengthAdjust="spacingAndGlyphs" >Distance [µm]</text>
<text transform="translate(522 492.55) rotate(-90)" font-size="8.8" text-anchor="middle" fill="#222" textLength="117" lengthAdjust="spacingAndGlyphs">Average Fluorescence intensity</text>
<text transform="translate(530.7 492.95) rotate(-90)" font-size="8.8" text-anchor="middle" fill="#222" textLength="42" lengthAdjust="spacingAndGlyphs">[arb. units]</text>
</svg>
</body></html>
